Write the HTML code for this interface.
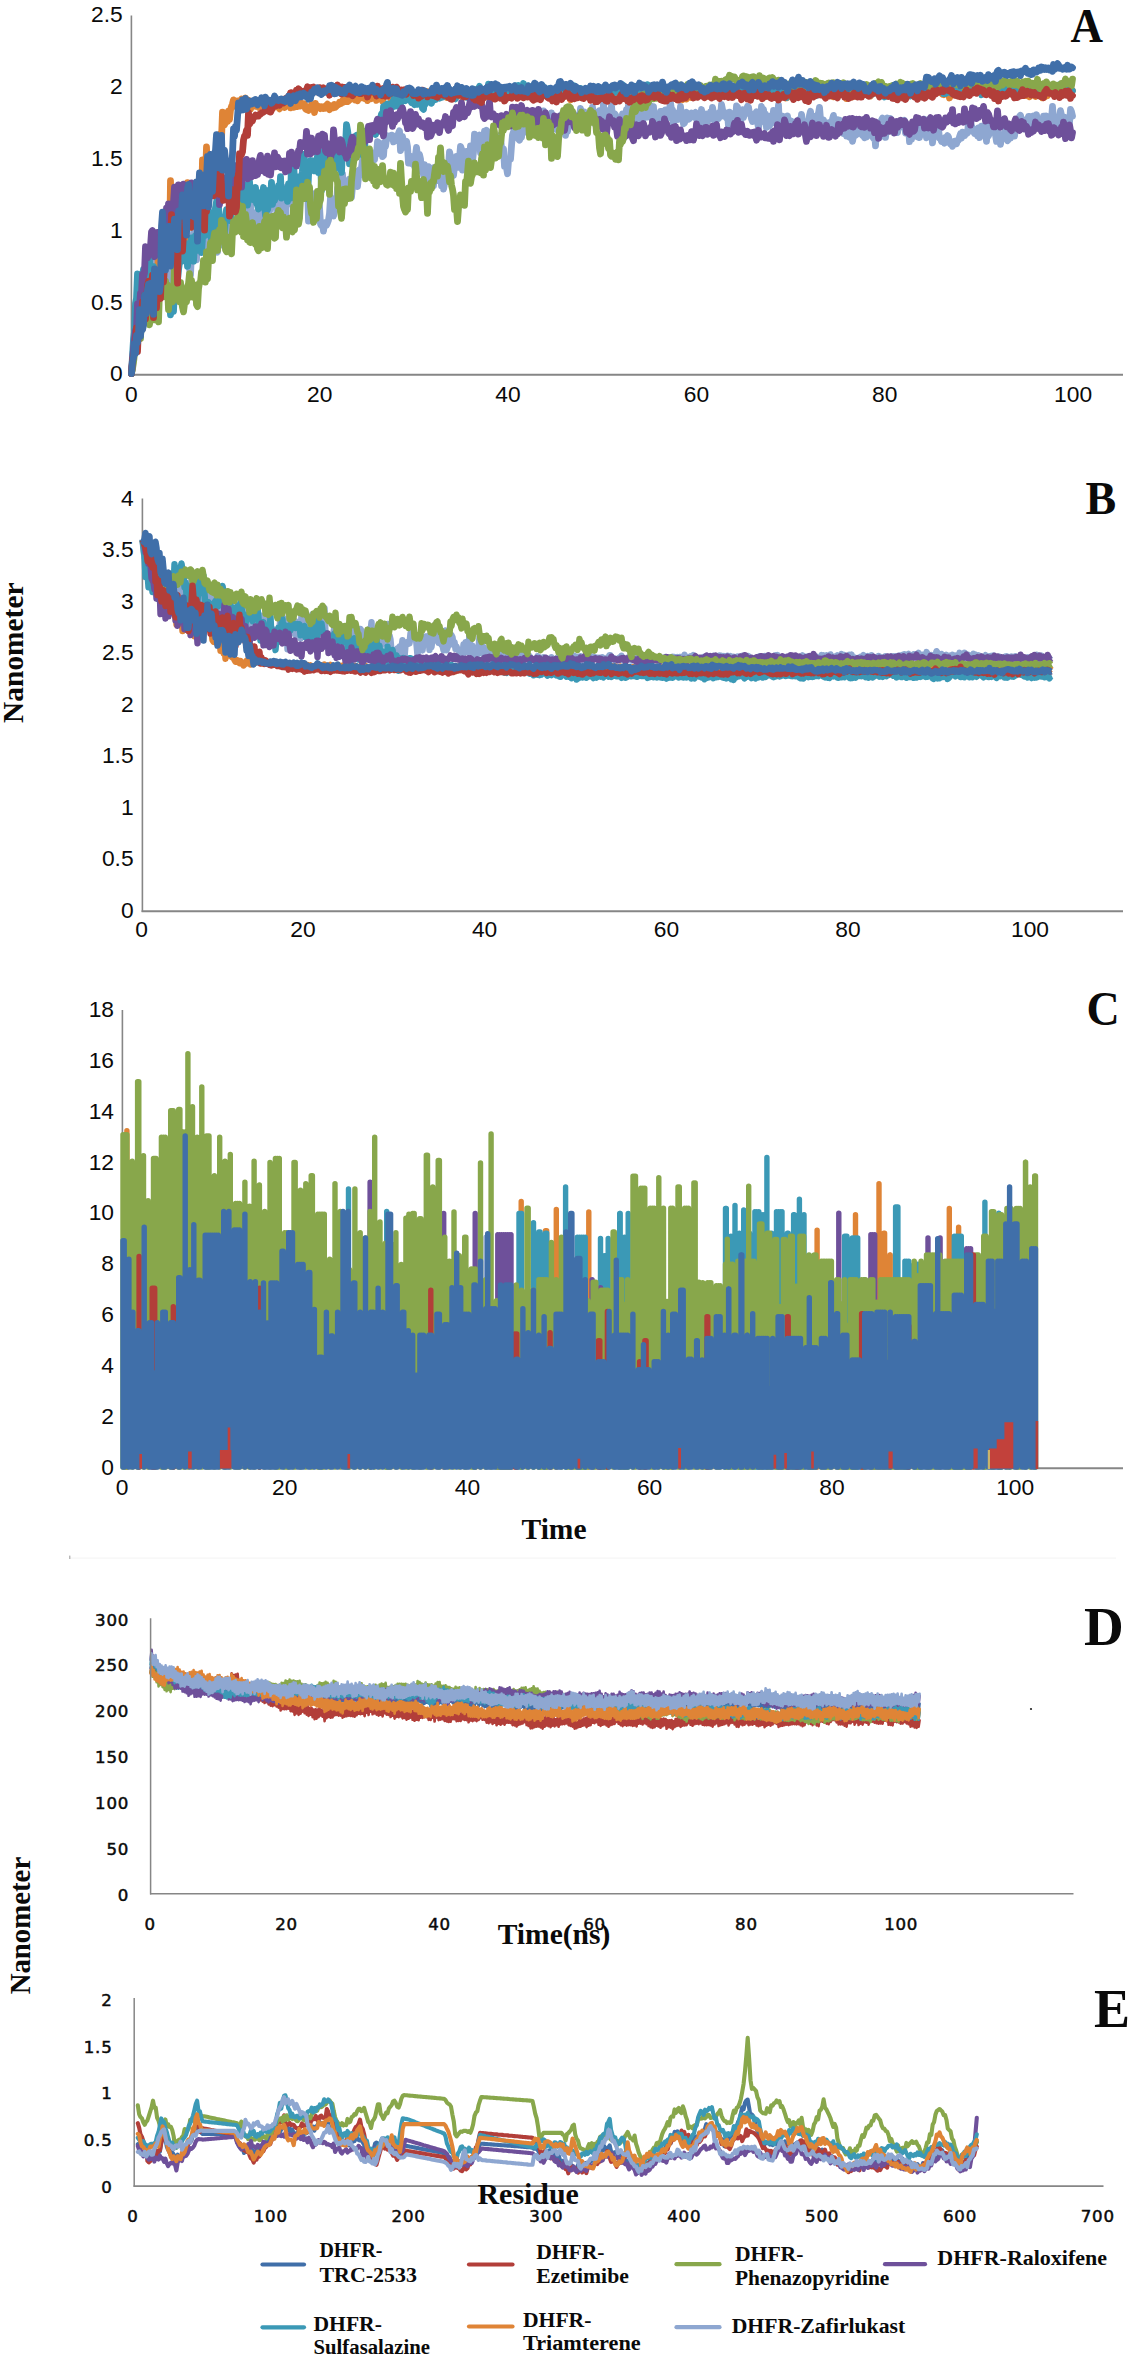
<!DOCTYPE html>
<html lang="en"><head><meta charset="utf-8"><title>MD simulation analysis of DHFR complexes</title>
<style>html,body{margin:0;padding:0;background:#fff}body{width:1132px;height:2360px;overflow:hidden}svg{display:block}text{fill:#0a0a0a}</style></head><body>
<svg width="1132" height="2360" viewBox="0 0 1132 2360">
<rect width="1132" height="2360" fill="#fff"/>
<g id="panelA">
<line x1="131.4" y1="15.5" x2="131.4" y2="375.5" stroke="#868686" stroke-width="1.6"/>
<line x1="130.6" y1="374.8" x2="1123" y2="374.8" stroke="#868686" stroke-width="2"/>
<path d="M131.5 373.5l1-10.1l1-11.9l1-9.7l1-9l1 1.2l1-3.8l1-12.1l1 7.7l1-5l1-9.7l1-8.2l1 0.2l1 0.2l1 1.8l1-5.8l1-3.8l1 5l1-6.1l1-1.4l1-0.5l1 4.5l1-37l1 8.9l1 3l1-2l1-7.4l1-0.3l1 32l1-41.1l1-14.5l1 9.2l1 17.2l1-4.5l1 18.2l1-21.4l1 16.4l1-2.4l1 20.6l1-29.2l1-1l1-15.5l1 13.8l1 9.8l1-19l1 6.7l1 0.6l1 4.2l1-18.4l1-0.1l1-1.6l1 15l1-1.1l1 2.2l1-18.1l1 4l1 8.8l1 0.7l1 15.1l1 6.4l1-21.5l1-7.1l1-13.9l1 16.8l1-3.8l1 14.1l1-24.5l1-1.2l1-8l1 15.7l1 8.7l1-5.1l1-18.5l1 22.3l1 3.3l1-17.1l1-7.2l1 8.2l1-11.3l1 0.3l1 11l1 0.5l1-3.2l1 2.4l1 6.2l1 4.6l1 5.3l1-20.6l1 13.2l1-11.6l1 8l1 3.8l1-25.9l1 10.4l1 10.6l1-12l1 18l1-19.9l1 8.9l1 5.7l1-22.7l1 8.9l1-4l1 7.1l1-5l1-3.6l1-4.8l1 13.4l1-17.2l1 0.5l1 5l1 0.7l1-10.8l1 0.1l1 7.1l1 3.3l1-8l1 11.4l1-11.7l1-6.1l1 17.8l1-0.8l1-5.4l1 3.6l1 2.2l1-9.3l1 2.6l1 26.4l1-15.9l1-11.5l1-17.4l1 18.4l1-2l1 3.9l1-5.7l1-20.7l1 41.3l1-22.7l1 2.2l1-5.6l1-0.4l1 1.4l1-12.5l1 1.4l1 5.6l1 5.5l1 17.3l1-6.4l1-10.9l1-7.8l1 9.3l1 4.7l1-25.5l1 18.3l1 20.5l1-31.5l1 3l1 6l1 0l1-9.2l1 2.4l1-6.6l1 18.6l1-18.8l1 24.9l1-4.8l1-11.3l1-3.8l1-6.8l1 6l1-16.6l1-7.9l1 16l1 9l1-2.3l1-3.5l1-7.6l1 39.7l1-21.3l1 1.1l1 9.2l1 5.2l1 0.5l1-22.2l1 4.6l1 1l1 2l1-3.2l1 8.5l1 17.5l1 1.6l1-3.1l1 8.6l1-8.5l1-0.1l1 2.7l1-2.4l1-2.8l1-6.6l1-16l1 11.1l1 7.2l1 0.2l1-4.5l1-6.5l1-1.6l1-15l1 5.2l1-3.8l1-6.3l1 2.4l1-11.9l1 13.7l1-5.8l1 7l1-7.8l1 4.3l1 4.8l1-11.1l1 8.4l1 9.7l1-10.7l1-16.6l1 5.1l1 2.1l1-4.1l1 13.5l1-9.4l1-7.3l1 5l1-7.3l1-7.5l1-0.9l1 13.9l1-3.8l1-3.6l1 8.1l1-5.5l1 0.2l1 5.3l1-11.6l1-1.3l1-1.6l1 0.6l1-7.7l1 2.3l1-12.7l1 0.5l1 7.5l1-5.6l1 3.8l1 8.6l1-0.8l1-13.2l1 4.1l1-7.2l1-3.6l1 2.8l1-0.4l1-2.6l1-0.4l1 0.2l1 6.5l1-0.9l1-0.3l1-4.5l1 1.4l1-4.3l1-2.5l1 19.8l1-6.7l1-7.5l1 11l1-5.5l1 3.1l1-3.8l1 5.5l1 16.3l1-0.8l1-6l1 7.3l1-4.8l1-0.9l1 8.5l1-11.5l1-7.4l1 8.6l1-1.6l1 0.1l1 4.5l1 12.2l1-6.9l1 10.9l1-10.5l1 8.2l1-0.7l1 8.1l1-13.6l1 13.2l1-10l1 15.6l1-7.7l1 8.1l1-18.4l1 10.5l1-3.1l1 5.7l1-3.3l1-0.5l1-7.3l1 16.3l1-5.2l1 8.5l1-5.2l1-12.9l1 7.6l1-4.4l1-8.2l1-14.2l1 4.5l1 4.6l1 11l1 3.6l1-8.9l1-3.3l1-6.8l1 3.1l1 7.7l1-8.9l1-12.1l1 2.6l1 21.2l1-13l1-2.4l1 2.6l1-5.9l1 10.8l1-11.3l1 8.7l1-13.6l1 1.3l1 14.1l1-9.5l1-17.8l1 10.1l1-5.6l1 2.8l1-5l1-1.4l1 17.7l1-13.8l1 1.8l1-0.9l1-8.6l1 1.3l1-2.2l1 1.4l1 1.4l1 6l1 10.3l1-9.1l1-2.7l1 4.1l1-5l1 4.7l1 14l1-17.7l1 4.5l1-3.4l1-3.9l1 13.9l1 2.7l1-2.9l1 17.8l1-5.3l1 6.9l1 5.7l1-12.4l1-1.5l1-0.5l1-13.4l1-11.1l1-2.9l1-2.6l1 6l1 1.2l1-4.3l1 6.8l1 1.2l1-2.3l1-0.6l1-9.5l1-2.7l1 3.4l1 3.6l1-4.3l1 1.2l1-6.5l1-7.5l1 5.5l1 5.7l1 3.1l1 2.7l1-5.9l1 1.8l1-11.5l1 6.1l1-8l1 14.4l1 0.4l1-12.2l1 10l1-16.1l1 11.1l1-5.5l1 13.7l1-8.4l1 3.8l1 2.1l1-4.2l1-10.7l1 6.5l1 8.8l1-3.8l1 5l1-10.7l1 3.8l1-1.2l1 7.9l1 1.8l1-16.4l1 11.6l1-3.4l1-0.1l1 12.6l1-10.1l1 6.3l1-7.8l1 2l1-1.4l1-4.8l1 3l1 2l1-9.8l1 10.9l1-6.2l1 3l1-6.8l1 2.8l1-10.1l1 9.3l1-6.1l1 3.4l1-2.9l1 2.6l1-1.1l1 3.1l1 5l1-4.6l1 0.2l1 1.5l1-11.6l1 9.6l1 0l1 7.9l1-2l1-10.4l1 6.9l1-8.5l1 9.5l1 4.1l1-3.1l1-17.9l1 23.6l1-2.3l1-10.5l1-3.2l1 10.1l1-8.6l1 0l1-6.5l1 10.9l1 1l1-4.1l1 1.1l1 4.4l1 2.7l1-2.9l1 2.5l1-3.5l1 2.9l1-6.8l1 8l1 3.6l1-10.5l1-5.5l1 4.6l1-9.1l1 14.7l1-0.6l1-3.9l1-0.7l1 3.9l1-5.5l1 0.5l1 0.3l1 9l1-10.9l1 8.8l1-3.9l1-2.4l1-2.8l1-4.6l1 10.9l1-4.3l1-5.7l1 9.2l1-7.3l1-5.4l1 3.1l1 6l1 7.7l1-14.6l1 16.5l1-6.3l1 2.4l1-3.7l1 0.5l1 1.8l1-6.5l1 0.1l1 9.6l1 3.1l1-0.1l1-14.1l1 9.2l1-1l1-5.3l1-3.8l1-6.1l1 6.8l1 0.1l1 14.8l1-12.1l1 2.6l1 3.9l1 0.4l1-4.7l1 2.4l1-10.7l1 10.9l1 0.8l1 5.7l1-0.9l1-6.5l1-4.2l1 4.4l1 2.7l1-0.5l1-4.1l1-1.7l1 3.7l1-1.9l1-1l1-1.4l1 6.9l1-3.1l1-0.5l1-2.1l1 1.5l1-5.6l1 13.9l1-6.2l1-2.8l1 7.8l1-8.2l1 7.7l1-4.2l1 1.8l1-7.5l1 4.9l1-9.4l1 5.7l1 7.8l1 2.4l1-6.7l1-2.7l1 4.8l1-6.1l1 4.2l1-12.2l1 5.2l1 5.6l1-3.1l1 4.3l1 1.5l1-4l1 12l1-13.9l1 13.1l1-11.9l1 4l1 3l1-5.5l1 3.6l1-12.4l1 1.1l1 6.8l1 3.7l1 6.8l1-10.6l1-4.2l1 7.9l1-5.3l1 0.9l1-2.5l1-4.3l1 0.8l1 6.7l1-0.3l1 5.3l1 2.8l1-2.6l1-4.3l1-1.2l1-1.8l1 10.5l1 5.8l1-6.5l1 0.8l1-15.8l1 10.4l1-7.6l1 11.9l1-7.3l1 13.8l1-6l1 3.9l1 0.4l1-10.2l1 3.3l1 3.6l1-12.2l1 1.6l1 10.5l1-2.3l1-4.4l1-10.9l1 23.9l1-6.9l1 8l1-13.8l1 8.6l1-5.3l1 0.7l1-1.4l1-2.9l1 15.1l1-4.2l1-6.3l1 5.5l1-1.9l1-2l1 7.5l1-4.2l1 6.7l1-9.4l1 4.8l1-8.2l1 6.9l1-11.8l1 5.7l1 12.1l1-7.5l1-3l1 3.9l1-1.5l1 1.9l1-10.7l1-4.1l1 8.8l1-2.2l1 5.1l1-6.5l1 5.6l1 0l1-6.7l1-2.1l1-5.8l1 12.1l1-0.3l1 8.1l1-7.5l1 7.3l1-1.7l1 4.3l1-1l1 0.4l1-6.7l1 6.7l1-2.2l1-7.8l1-3.7l1 15.7l1-7.3l1 10.1l1-14.2l1 11.9l1-11.5l1 10.5l1-8.3l1 4.9l1 6.3l1-0.1l1-1.2l1 3.9l1-10l1 6.6l1 4.7l1 0.2l1-8.1l1 11.8l1-5.4l1-1.1l1 0.5l1-0.6l1-12.4l1 1.6l1 2.5l1-4.3l1 11.8l1 1.7l1 0.2l1 1.9l1-15.5l1 14.8l1-11.5l1-1.6l1 9.3l1-8.9l1 9.4l1 2.8l1 1.8l1-8.4l1 16l1-17l1 5.9l1 3.2l1-0.3l1-3.8l1-13.8l1-2l1 12.3l1-4.8l1 11.8l1-12.9l1-6.5l1 0.9l1 3.4l1-3.8l1 9.1l1 2l1 3.1l1-10.5l1 9.1l1-1.1l1 2.4l1-6.2l1-1.6l1 0.7l1-0.2l1 1.5l1-0.1l1-6.4l1 12.7l1-1.6l1-0.2l1-6.7l1 17.2l1-4.5l1 2.3l1-13.8l1 4.5l1-2.2l1-1.1l1 8.1l1 1.8l1-9.9l1 10.8l1-9.3l1 0.3l1-8.7l1 8.4l1-9.2l1 10.4l1 8.2l1-12l1 1l1 4.2l1 3.3l1-5.4l1 14l1-7.9l1-5.2l1 4.3l1-9.3l1 10.2l1-6l1 9.2l1 0l1 3.3l1-3.1l1 0.8l1 4.1l1-6l1 0.1l1-1.8l1 1.4l1 5.2l1 2l1 0.3l1 1.8l1-4.5l1-0.5l1-0.3l1 2.8l1-3.4l1 0l1-3.6l1-3l1 4.5l1-6.2l1 1.6l1 2.1l1-2.9l1-0.4l1 0.6l1-10.5l1-0.5l1-0.6l1 4.2l1 2.3l1 3.5l1 2l1-1l1-0.6l1 3.9l1-8l1 9.9l1-6.1l1-5.5l1 2.3l1-1.2l1 5.3l1 1.1l1 7.7l1-15.8l1 10.5l1-4.2l1-7.5l1 3.6l1 0l1 4.7l1-2.4l1 4.7l1 6.5l1-10.6l1 3.4l1 0.9l1 9.3l1-9.6l1 4l1-3.1l1-2.2l1-8.7l1 14.1l1 1.8l1-1l1-9.9l1 8.4l1-6.1l1 2.6l1-10.3l1 11.7l1-8l1-4.6l1-2.2l1-2.5l1-2.3l1-1.2l1 5.8l1 6.4l1 0l1 1.4l1-5l1-4.5l1 2.4l1-5.4l1-0.1l1 7.6l1-2l1 0l1-6l1 9.5l1-7.4l1-3.3l1 7.6l1-0.7l1 3.5l1-1.7l1-4.7l1 5.8l1-8.4l1 0.1l1 5.9l1-6.1l1 1.6l1 5.6l1-2.3l1 0.8l1-2.8l1-12.4l1 13.6l1-1.3l1 7.3l1 0.3l1-1l1-5.9l1-2.7l1-6.2l1 4.9l1 4.9l1-0.5l1-2.8l1 11.6l1-10.1l1 6.3l1-7.5l1 5.4l1-13.3l1 2.2l1 4.4" fill="none" stroke="#8EA7D1" stroke-width="6.8" stroke-linejoin="round" stroke-linecap="round" />
<path d="M131.5 373.5l1-10l1-9.4l1-15.4l1 3.5l1 5.5l1-16.4l1-4l1-16.3l1 23.6l1-12.9l1 7.1l1-20.2l1 6.7l1-26.7l1 14.9l1-3.5l1-19.5l1 15.3l1 5.9l1-1.9l1-10.6l1-15.8l1 6l1-12.5l1 11.4l1 3.4l1-33.8l1 33.1l1-12l1-20.9l1 31.2l1-5.8l1-15.3l1-8.6l1-22.8l1 21.9l1-31.5l1 35.6l1-72.2l1 63l1-4.8l1-39l1 50l1-42.4l1 21.3l1-3.7l1-14.4l1-18.5l1 27.7l1-19.4l1-7.1l1 5.6l1 42.1l1-45.3l1 9l1-22.1l1 12.8l1 16.5l1 15.5l1-29.8l1-1l1-9.6l1-0.8l1 20.2l1-9.5l1 0l1-0.6l1 8.9l1 15.9l1-17l1-44.3l1 13.1l1 10.4l1-3.6l1-32.7l1 41.4l1-25.5l1-2.8l1 16l1-5.9l1-0.4l1 10.5l1-26.3l1 16.4l1-5.1l1-20l1 9.1l1-8.3l1-12.4l1 5.2l1-26.7l1 8.2l1 4.5l1-2.6l1-4.3l1 3.4l1-10.3l1 8.6l1-9.7l1-3.6l1-2.5l1-4l1 6.3l1-1.7l1-2.2l1-1.1l1 2.2l1-2.2l1-0.5l1-1.7l1 0.4l1 3.7l1-0.8l1-4.3l1 4.6l1 0.9l1-3.2l1 3l1 5.9l1-4.7l1 0.9l1-2.4l1-0.9l1 4.1l1-1l1 0.5l1 1.6l1-4.2l1 1l1 0.2l1 0.2l1 1.3l1 1l1-0.1l1-2.1l1-2.5l1 1.4l1 2.5l1-1.7l1 1.6l1-0.2l1 2l1-2.2l1-0.5l1-5.2l1 0.9l1 6.8l1 1.3l1-4.7l1 2.4l1-3.6l1 1.4l1 3.3l1-3.7l1-0.3l1-0.1l1-0.8l1 1.5l1 3.7l1-5.9l1-2.7l1 8l1-0.1l1-1.5l1-2.4l1 3.2l1-3l1 1.3l1 1.2l1-3.1l1 1.4l1 1.1l1-1.6l1 5l1 0.8l1 0.1l1 0.7l1-2.6l1-0.4l1-2.9l1 3l1-1.5l1 6.5l1-9.2l1 5l1-2.4l1 0.4l1 0.9l1 1.4l1-1.9l1 0.4l1 1.4l1-2l1 1.6l1-2.8l1-1.2l1 4l1 1.6l1-4.1l1 1.4l1 0.4l1 0.3l1-3.2l1 2.7l1-1l1-1.8l1 0.3l1-2.4l1 1.5l1-0.5l1-2.7l1 1.6l1-0.7l1-3l1 3l1 0.1l1-0.7l1-1.1l1-0.1l1-1.6l1-0.8l1-3.5l1 3.8l1 2.6l1 0l1 0.5l1-4.9l1-2.4l1 0l1 2.1l1 2.3l1-1.1l1 1.7l1-3.3l1 1.7l1 3.8l1-3.7l1-1.6l1 0.9l1 2.5l1-4.2l1 2.1l1 1.5l1-3.6l1 5.8l1-2l1-1.2l1 0l1-1.6l1-0.4l1 5.7l1-3.1l1-2l1-3.2l1-2.4l1 2.1l1 2.3l1-1.3l1 5l1-5.7l1 2l1 1.4l1-1.2l1-1.3l1 1.5l1 0.1l1-1.8l1 5.2l1-5.1l1 1.5l1 1.3l1-1.6l1-0.5l1-0.3l1 1.2l1-3l1 2.7l1 0.9l1 0.2l1 1.1l1-0.9l1-1.5l1-0.5l1 1.3l1-1.2l1 1.7l1 3l1-1.4l1-1.8l1 1.4l1-3.8l1 0.9l1 1.5l1-0.3l1 4.2l1-7.8l1 3l1-0.8l1-1l1-0.3l1 3.2l1-1.7l1 0.8l1 0.3l1-1l1 3.5l1-5.4l1 1.4l1 3.6l1-2.4l1-0.1l1 0.2l1-2.3l1 0.8l1 4l1 0.2l1-3.2l1 2.8l1-1.1l1-0.1l1-2l1 0l1-3.8l1 5.5l1 1l1-0.7l1-0.3l1-0.8l1-1.1l1 2.6l1 1.2l1-1.3l1-2.7l1 0.3l1-1.5l1-0.5l1-1.8l1 5.5l1-2.7l1 2l1-3.4l1 3.2l1-2.6l1 3l1-5.7l1 2.1l1 4.5l1 3.5l1-4.6l1 0.3l1-1.1l1 2.2l1-3l1-2.3l1 3.9l1-0.6l1 3.1l1-4.1l1 3l1 0.3l1-0.9l1-1.9l1 0l1-4.7l1 0.3l1-0.5l1 1.7l1 2l1-3.8l1 0l1 8.5l1-2.3l1 3.4l1-6.1l1 3.4l1-5.4l1 2.6l1-0.9l1 1.8l1-2.8l1 1.4l1 0.7l1 0l1-2.2l1 1.2l1 0.3l1 1.4l1 0.6l1-2.9l1 2.5l1 2.9l1-1l1-0.1l1-1.9l1-0.5l1-3l1 4.3l1-3.6l1 1.6l1 3.1l1-2.5l1-1.2l1 0.4l1 3.1l1-1.8l1-1.6l1 0.2l1-2.4l1-0.4l1 1.2l1 2l1 0.9l1 0.9l1 1.2l1-1.8l1-2.5l1 3.2l1-1.4l1 2.8l1-4.1l1 3.4l1-2.9l1-1.8l1 6.3l1-3.7l1 1.2l1-2l1 2.9l1 2l1-2.9l1 1.1l1 1.5l1-4.8l1 3l1-0.3l1-0.1l1-1.7l1 4.5l1 2.2l1-4.2l1-2l1-1.5l1 2l1 1.5l1-5.7l1-0.1l1 2.1l1 1.8l1-3.4l1 7.1l1-1.3l1-1l1 0.5l1-3.8l1 3l1-0.6l1-1.8l1 0.7l1-2.1l1 0.7l1 1.1l1-2.1l1 2.3l1-0.4l1-1.3l1-3l1 4.1l1 0l1 1.6l1-1.7l1 0.7l1-0.4l1 3.4l1 0l1 0.9l1-1.2l1-2.6l1-0.5l1 4.4l1-2l1 0.9l1-0.8l1 0.6l1-2.5l1-0.2l1 1.6l1-3.2l1 3l1-1.2l1-3.9l1-0.4l1 1.5l1 2.2l1-1.1l1-2.3l1 1.4l1 1.2l1 0l1 2.1l1-3.2l1 5.8l1-5.2l1 0.1l1 0.7l1 0.4l1-0.2l1 0.3l1-2.6l1 2.7l1-2.4l1 3.9l1 4.7l1-2.2l1-2.2l1 2.3l1-5.6l1 1l1-3l1 2.2l1 0.2l1 3.9l1 1l1-0.1l1-3l1 0.1l1-3.3l1 5.1l1-3.5l1 7.1l1-6.1l1 0.8l1 1.6l1-0.5l1-2.5l1 6.3l1-3.3l1-1l1 3.1l1-8.1l1 0.6l1-0.1l1 0.7l1 0.6l1-2.5l1 2.6l1 1.7l1 0.6l1 0.7l1-1.7l1 6.5l1 0.6l1-7.4l1 5.7l1-5.7l1 6.9l1-2.1l1-4.8l1 3.6l1 0.3l1 1.4l1-5.2l1 1.1l1 3.5l1-4.3l1-0.7l1-3.4l1 5l1 0.8l1-1.4l1 2l1 0.1l1 0.8l1-2.2l1 3.5l1-5.1l1-3.4l1 1.3l1-1.2l1 1l1 4.1l1-1.3l1 2.9l1-0.7l1-0.8l1 0.8l1 0.4l1-3.2l1-0.1l1-1.8l1 1.9l1-0.4l1-3.5l1 4.2l1 1.7l1 0.8l1-2.8l1 0.7l1-1l1 0.6l1 3.2l1 0.2l1-3.7l1-0.8l1 0.1l1 1.4l1-1.2l1 3.8l1-5.5l1 1.4l1 1.1l1 0.6l1 1.5l1-5.2l1-0.2l1 2.6l1 0l1-0.2l1 1.7l1 0.2l1-0.7l1-3.5l1 5.2l1-2.9l1 2.2l1-1.1l1 2.7l1 0.1l1-4l1 5.3l1 0.8l1-7.6l1 1.6l1 5.7l1-7.3l1 0.2l1 5.6l1-0.9l1-3.3l1 2.2l1-0.5l1-0.4l1-3.3l1 4l1-0.1l1-1.1l1-0.7l1-1.4l1 1.5l1 2.3l1-0.1l1-4.4l1 6.7l1-1.2l1 3.1l1-2.2l1 1.9l1-4.5l1 0.5l1 0.3l1-1.5l1 0l1 2.5l1 2.2l1-4l1-4.9l1 4.3l1 3.2l1-1.5l1-2.1l1-3.4l1 4.4l1 0.5l1-1.1l1 0l1 2.7l1-1.6l1-0.7l1 3.4l1 0.8l1-3.8l1-1.2l1 1.1l1-1.8l1 1.2l1 1.4l1-4.1l1 0.9l1-0.5l1-0.2l1-0.1l1-2.4l1 1.2l1 0.7l1 0.6l1 0.3l1 0.6l1 2.9l1-0.5l1-0.8l1-0.2l1 0.5l1 4l1-3.9l1-0.5l1-1.5l1 1.9l1-3.4l1-0.3l1 0.5l1 1.9l1 1l1 0.8l1 0.4l1-3.6l1 8.4l1-5.2l1-0.4l1 0l1-4.1l1 2.6l1 5.5l1-6.8l1 5.4l1-4.5l1 1.2l1 2.2l1-3.9l1 3.9l1 0.4l1-0.9l1-3l1 0.8l1-0.2l1-2.7l1 5.1l1-1.1l1-5.6l1 4.8l1 4l1-3.2l1-3.9l1 1.1l1 0.1l1 2l1 0.2l1-0.9l1 2.1l1-2.1l1 0.6l1 1l1 1.6l1-3l1 1.1l1 2l1-0.9l1-1.9l1 3.2l1-0.1l1-1.9l1 0.3l1-1.2l1-3.4l1-0.4l1 5.9l1-2.6l1 0.1l1-0.6l1 0l1 3.6l1 1.6l1-1.2l1-2.5l1-3.8l1 2.6l1 2.9l1-2.8l1-2.2l1 0.8l1 0.1l1 2.4l1 1.4l1-5.4l1 1.8l1 3.1l1 1.5l1-2.7l1 2.1l1-4.5l1 0.7l1 3.2l1-0.7l1-0.6l1 0.3l1 0.5l1-2.4l1 2.7l1-2.3l1 2.9l1-3.4l1 3.8l1-0.9l1-5.1l1 1.1l1 1.7l1-2.4l1 1.9l1 1.3l1-1.6l1 1.4l1-0.4l1 2.5l1 0.4l1-2.4l1-3.9l1-1l1 4.5l1-1.1l1 7.2l1-4.9l1-5.1l1 6.2l1-3l1-1.6l1 3.5l1 1.8l1 0.5l1 0.5l1-4l1 0.8l1 3l1-1l1-0.9l1-2l1 2.5l1-3l1-3.3l1 2.6l1-3.5l1 1l1 4.9l1-5.7l1 0.4l1 1l1 0.8l1 2.6l1-1.6l1 0l1 0.7l1 0.3l1 2.3l1-0.8l1-1.1l1 0l1-2.4l1-0.3l1 2l1-0.8l1-0.6l1-0.3l1 1l1 0.5l1 3.7l1-4.5l1-1.1l1 0.9l1-0.4l1 1.1l1-6.4l1 6l1 0.3l1-1.7l1 3.4l1-7.2l1 6.3l1-3.5l1-1.5l1-2.6l1 7.5l1-2.2l1-1.8l1-0.6l1 0.5l1 0l1 4.6l1 0.9l1-2.3l1 2.4l1-4.5l1 3.4l1 1.9l1-0.3l1-2.8l1 5.1l1-1.5l1 0.1l1 1.6l1 0.4l1 0.6l1-2.5l1-1.8l1-1.1l1-1.3l1 1.4l1 5.1l1-3.4l1-3.4l1 5.4l1-3.7l1 2.7l1-1l1 4.7l1-3.9l1 3.2l1-3l1-2.4l1 4l1-2.6l1-1l1-0.3l1-1.7l1-1.1l1 1.6l1-0.8l1 2.5l1-1.7l1 2.5l1-1.1l1-2.4l1 2.6l1-1.1l1-0.4l1 1.4l1-2.2l1 2.6l1 1.5l1 0.2l1-1.8l1-4.2l1 2.1l1 0.6l1-0.5" fill="none" stroke="#DF8436" stroke-width="6.8" stroke-linejoin="round" stroke-linecap="round" />
<path d="M131.5 373.5l1-17.2l1-16.9l1-7.7l1-28.2l1-5.2l1-24.5l1 4.8l1 2.4l1-1.2l1 6.2l1-10.7l1-5.9l1 8.3l1-9.2l1 12.7l1-11.3l1-4.2l1-10.3l1 33.2l1-1.9l1-10.8l1-9.3l1 26.5l1-15.5l1-1.3l1 7.1l1 7.2l1-9.5l1-1.3l1 9.4l1-6.8l1-4.9l1 7.9l1 10.6l1-2.9l1 1.6l1 6.8l1-3.9l1 17.3l1-16.8l1 1.9l1 11.4l1-24.1l1-3.1l1-9.1l1 5.4l1-10.6l1-7.6l1-2.5l1 1.8l1-20l1 3l1 14.3l1-2.3l1-12.9l1 22.6l1-10.5l1-10.5l1 0.6l1-8l1 11.9l1 11.4l1-16.1l1-9.5l1 15l1-17.1l1 5.7l1-10l1 13.7l1 9.7l1-14.8l1-13.4l1 5.6l1 5.3l1-3.3l1 2.1l1-23.3l1 11.6l1 5.4l1 13.7l1-5.1l1 9.7l1-31.9l1-6.4l1-5.9l1-4.3l1 8.2l1 16.9l1 3.5l1-8.9l1 6.2l1 1.2l1 8.9l1-16.6l1-7.3l1 9.3l1-10.6l1 6.4l1 5.8l1-26.5l1 3.9l1 2.6l1 2.1l1-7.4l1 8.5l1-4.4l1-2.4l1 7.1l1-9l1-2.1l1 3.5l1 3.3l1 4.4l1-6.5l1-12.5l1 19.8l1-7.6l1-16l1 14.5l1-0.5l1 0.3l1 4l1-8.9l1-3.3l1 16l1 1.6l1 3.9l1-16.1l1 9.3l1 2.3l1-9.9l1-7.1l1 15.4l1 12.3l1-23.1l1 17.8l1-5.2l1-14.6l1 10.6l1-18.4l1 22l1-6.6l1 2.9l1-5.1l1-4.4l1 4.8l1-10.2l1 10.2l1-19.2l1 21.3l1-6.2l1 0l1-0.8l1 2.9l1-5.5l1 12.9l1-17.5l1-0.3l1 14.6l1-33.6l1-3.1l1 0.2l1 19.1l1 17.7l1-5.2l1 1.3l1-17.6l1 17.7l1-12.4l1 1.5l1-11.7l1-17.7l1 5.7l1 19.9l1-2.8l1 21.8l1-23.3l1-13.6l1-1.5l1 0.2l1 3.5l1-3.1l1 9.8l1-8.1l1 0.7l1-7.2l1 16.2l1-21.6l1 2.9l1 36.5l1-29.9l1 6l1-15.3l1 19l1-8l1-7.8l1 18.5l1-10.2l1 3.9l1-19.8l1 21.8l1-5.2l1 7.5l1-12.3l1 2.4l1-10.9l1 6.3l1-5.8l1 7l1 14.9l1-22.3l1-6.8l1 0.6l1 2.4l1-21.6l1 5.6l1 7.4l1 26.1l1-21.9l1 11.9l1-16.1l1 17.3l1-17.4l1-1.5l1-0.8l1 9l1 0.7l1-4.1l1-8l1 15.7l1 6l1-2.5l1-1.3l1-19.6l1 8.7l1-5.8l1-0.2l1-6.8l1 6.5l1-1.2l1-1.6l1-1.1l1 3.2l1 1.5l1-2.5l1-11.1l1 6.6l1-8.3l1-0.2l1-4.9l1 8.4l1-15.8l1 7.6l1-8.7l1 5.7l1-7.4l1 12.5l1-6.5l1-4.5l1-0.6l1-2.8l1 4.8l1-13.4l1 12.7l1-8.6l1 2.5l1 3.7l1 2.6l1-5.3l1 1.3l1-3.9l1 2.3l1-2.1l1 2.2l1-5.9l1 1.9l1 0.4l1 2.3l1 1.1l1 2.1l1-2l1 1.9l1 2.1l1-0.5l1-6.4l1 6.6l1-7.9l1 5.3l1-3.3l1 3l1 6.8l1 1.2l1-10.1l1 4.8l1-3.4l1-1.1l1-5.4l1 2.5l1 3.7l1 2.9l1-4.1l1 0.1l1 0.5l1-0.1l1-4.5l1 2.7l1-4.1l1 4.5l1-1.7l1-1.7l1 2.3l1-4.2l1 1l1-0.2l1-2.5l1 1.5l1-1.8l1-0.2l1 6.5l1-2.1l1 0.4l1 0.9l1 1.2l1 1.1l1-4.6l1 0.1l1-0.2l1-1.1l1 0.3l1-0.1l1-1.8l1-1.4l1 2.3l1 0l1 5l1-6.6l1 3.8l1-2.5l1 0.9l1-1.8l1 2.8l1-4.8l1 3.1l1-0.2l1 3.8l1-5.1l1-2.2l1-2.1l1 5l1-0.9l1 0.9l1-1.6l1 0.4l1 2.2l1-4.2l1 3.7l1-7.7l1 3.8l1 2.1l1 0.7l1 1.1l1-1.9l1-1.5l1-1.1l1 2.6l1-0.2l1 5.3l1-5.8l1 4.3l1 2.3l1-3.9l1 0.6l1-2.7l1-0.2l1 1.8l1 2.3l1-0.3l1-2l1 0.1l1 0.5l1 1.6l1-1.4l1-2.2l1-4.4l1 1.9l1 1.1l1-3.3l1 5.5l1-1.5l1 2.6l1-2.9l1-5.6l1 7.6l1-0.8l1-3.4l1 0.2l1-1.2l1 5l1 2l1-1l1-3.3l1-1l1-2l1 9.1l1-9.2l1 2.4l1 1.3l1-0.8l1 4.4l1-1.6l1-5.6l1 7.2l1-3.8l1 0.4l1 1.8l1-2l1-0.5l1 0.1l1 0.5l1 2.4l1-1.4l1 2.3l1-1.1l1-1.4l1-1.5l1-1.6l1 0.8l1 1.3l1 2.5l1-4.2l1 4.2l1-0.4l1-1.7l1 4l1-2.9l1 0.8l1 2.4l1-2.2l1-1.8l1 0.5l1 0.3l1-5.1l1 0.6l1 2.1l1-0.8l1 3.1l1-0.9l1-0.8l1-0.4l1 3.2l1 1l1-0.8l1 0.8l1 2l1-4.6l1 5.2l1-6.2l1-0.5l1 3.7l1-5.6l1 1.4l1-0.2l1 0.5l1 1.8l1-2.1l1-0.8l1 6.6l1-2.6l1-0.3l1 0.1l1-1.8l1 3.8l1-1.5l1-3.9l1 2.2l1 1.3l1 0.6l1 1l1-4l1 1.9l1 0.4l1 2.2l1-1.7l1 0.7l1-4.8l1-0.2l1 0.2l1 2l1 1.6l1-3.6l1-2.7l1 6.1l1-0.2l1 3.3l1-4.4l1 1.2l1 2.9l1-3.6l1-0.3l1-0.3l1 2.5l1-1.8l1 0.4l1-1.7l1-2.5l1 1.4l1-0.4l1 2.1l1-3.6l1-1l1 1.9l1-0.6l1 1l1 0l1 4.8l1-7.2l1 2.7l1 1.4l1-1.5l1 0.3l1 0.3l1-0.1l1 1l1-1.1l1-0.5l1 1.2l1 1.1l1-2.9l1 1.9l1 5.8l1-3.4l1 0.7l1-0.3l1-2.9l1 2l1-1.6l1 1l1 0.6l1 0.8l1-0.8l1-1.8l1 1.8l1-0.4l1 1.6l1 4.7l1-6.8l1-1l1 3l1 1.5l1-2l1 0.2l1-1.4l1-1.1l1 3.1l1 0.5l1-1.2l1-1l1-2.8l1 6.6l1-1.8l1-1.7l1 3.9l1-2.1l1 1.7l1-2l1 1.1l1 2.3l1-1.5l1-0.6l1-0.4l1 0.7l1-2l1 0.5l1 2.1l1-7.6l1 6.4l1-1.1l1-3l1 2.8l1-1.3l1 0.3l1 2l1-1.9l1-1.7l1 6.8l1-1.9l1-2.8l1-1.5l1-0.5l1 3.8l1-5.2l1 1l1 2.6l1 2.5l1-2.6l1-1.7l1 1.6l1 0.3l1 0l1 0.7l1-0.9l1-0.5l1 0.4l1 1.1l1-2.1l1 1.5l1-1.3l1-1.3l1 4.6l1-2.3l1 4l1-4.4l1 1.6l1-3.8l1 2.3l1-1.4l1 3.7l1 0.7l1-4.7l1 0.5l1 1.9l1 1.6l1-3.2l1 3.9l1 1.6l1-3l1 1l1-2.8l1-0.4l1-4.1l1 9.2l1-2.9l1 1.9l1-2.3l1 0.6l1 2.2l1-0.5l1-0.5l1 0.2l1 2.6l1-2.6l1-3.5l1-0.1l1-3.2l1-0.5l1 8l1-4.7l1 4.2l1 3.2l1-4.7l1-1l1 0.6l1 0.5l1 3.8l1 0.7l1-1.4l1-2.1l1-3.4l1 1.3l1-2.9l1 0.8l1 3.7l1-2.5l1 3.3l1-3.9l1-0.1l1 3.8l1-2.1l1-1.1l1-2.2l1-2.5l1 4l1-1.1l1 2.7l1-1.6l1 3.8l1-1.8l1 2.3l1-2.4l1 4.1l1-3.9l1-1.9l1 1.5l1-3.4l1 4.7l1 1.9l1-5l1 1.4l1 1.1l1-2.8l1 1.5l1 1.6l1-0.9l1-4.7l1-0.2l1 3.7l1-1.5l1 3.2l1 0.2l1-6.6l1 0.8l1 2.5l1 5.3l1-6.6l1-0.1l1 4.4l1-2.1l1 1.5l1 2.7l1-3.9l1-1.4l1-1.5l1 1.3l1 3.1l1-4.9l1 4.7l1-1.3l1 1.9l1 1.9l1-4.7l1 4.1l1-3.1l1-0.5l1 2.5l1-1.3l1-0.4l1 2.9l1-1.3l1-3.3l1-0.9l1 6.6l1-2.1l1-1.2l1-1.3l1 2.4l1-0.7l1-0.4l1 0.2l1 3.3l1-1.1l1-5.2l1-0.5l1 4.8l1-1.7l1 0.6l1-0.3l1-1.1l1 1.2l1-0.7l1 0l1 1.6l1-1.3l1 5.5l1-2.8l1-1.5l1-0.4l1 1.5l1-0.2l1-1.8l1 1.1l1-2.8l1 4.1l1-0.7l1-1.4l1-1.6l1-1.7l1 2.4l1-5.9l1 2.2l1 0.2l1-1l1 4l1 0.7l1-0.5l1-2.5l1 1.5l1 1.9l1 0.6l1 3.6l1-6.6l1 5l1 0.9l1-3.1l1 1.4l1-2.1l1-1.3l1 2.8l1 1.8l1-2l1-2.9l1-1.5l1 1l1 2.5l1 2.2l1-6.1l1 1.8l1-0.8l1 0.6l1-3.6l1 1.8l1 0.8l1 2.3l1-3.2l1-1.2l1 0.2l1-1.2l1 1.9l1-0.5l1 3.5l1-3.2l1 2.6l1 3.8l1-2.6l1 2.5l1-0.8l1-1.2l1-2l1 1.1l1 2.1l1-1.7l1 2.6l1-5.3l1-0.1l1 1.2l1-0.9l1 0.3l1-1l1 1.5l1 1.6l1-1.9l1 0.3l1 3.5l1-3.4l1 3.9l1-1.3l1-3.2l1 2.6l1 0.5l1-5.4l1 2.9l1 1.7l1 0.4l1-2.1l1 2.3l1-2.2l1-2.2l1 1.8l1 1.7l1-0.3l1 4.3l1-3.2l1-0.4l1-0.9l1 3.1l1-0.6l1 0.1l1 0.4l1-1.6l1 1.8l1-0.9l1-5.3l1-0.4l1-0.4l1 1.9l1 5.9l1-3.5l1-2.4l1 1.6l1-3.2l1 2.3l1-2.3l1 5.6l1-3.2l1 4.5l1-5l1 1.7l1-1.9l1-1.9l1 1.3l1 2.6l1 1.3l1-1.6l1-2.2l1 4.4l1-3.3l1 7.4l1-0.9l1-0.6l1-0.9l1 1.1l1-1.7l1-3.8l1 3l1 0.3l1-0.4l1-2.3l1 0.7l1-2l1 1.1l1-2.5l1-1.6l1 3.3l1-2.1l1-2.7l1 4.4l1 0.9l1-2.9l1-0.5l1 2.7l1-0.8l1-1.7l1 2.2l1 1.1l1 0.3l1 0.9l1-0.7l1 0.5l1-0.7l1 0.6l1-1.2l1 0.2l1-0.6l1 0.2l1-0.2l1 2.9l1-2.1l1-3.6l1-1.7l1 1.7l1 1.9l1 0.7l1 1.9l1-2.3l1 4.2l1-1.4l1-1.8l1 3l1-2.6l1-0.7l1 1.7l1-0.3" fill="none" stroke="#3B99B6" stroke-width="6.8" stroke-linejoin="round" stroke-linecap="round" />
<path d="M131.5 373.5l1-14.5l1-9.6l1-10.5l1-8.4l1-2.5l1-24l1 11.4l1-8.2l1-14.4l1-0.4l1-18l1 3.1l1-4.5l1-26.3l1 3.8l1 7.5l1-5.8l1-2.5l1-2.9l1-14.8l1-1.5l1 23.8l1 2.4l1-15.8l1 4.8l1-13.4l1 16.2l1-1.5l1 8.6l1-21.8l1 2.2l1-7.4l1 3.8l1 3.2l1-27.4l1 11.5l1-15.9l1 22.6l1-19.6l1-0.8l1 0.7l1-4.2l1-15.3l1 13.1l1 14.6l1 7.6l1-37.7l1 13.4l1-6.1l1 2l1-2.3l1-7.7l1 11.3l1-2.6l1 17.5l1-16.1l1-3.4l1-4.5l1 11.1l1-14.4l1 21.9l1 4.1l1-7.5l1-16.4l1 0l1 4.5l1-1.1l1 1.7l1-0.8l1 10.3l1-16.2l1 24.6l1-1.6l1-16.3l1-9.4l1-1.4l1-7.3l1 19.4l1-17.2l1 15.2l1-20.6l1 10l1-3.7l1 3.5l1-16.7l1 15.5l1-18.4l1 45.5l1-9.1l1-10.5l1-7.9l1 1l1 19.2l1-0.3l1-2.7l1-4.8l1 2.2l1 13.7l1-16.5l1-5.9l1-4l1-2.4l1 7.3l1-18.2l1 4.2l1-2.7l1 7l1-2.1l1 7l1 8.1l1-17.1l1-0.1l1-9.4l1 9.7l1-10.8l1 19.3l1-8.3l1 1.4l1-7.7l1 12.6l1-16.1l1 8.2l1-0.4l1 7.2l1-4.2l1 3.1l1-5.4l1-9.8l1-4l1 13l1-5.2l1 7.8l1-1.9l1 3.6l1-8.9l1-7.7l1 18.2l1-9.4l1 10.1l1-10.7l1-3.1l1 1.5l1-9.7l1 13.8l1-7.8l1-1.9l1 2.5l1 7.1l1-6.2l1 7.4l1-5.9l1 1l1-1.9l1 10.8l1-4.8l1-6.4l1 9.6l1-17l1 9.4l1-10.6l1 11l1 0.6l1-6.1l1 1.1l1 7.3l1-7.9l1-7.4l1 0.6l1-8.8l1 0.2l1 0.6l1 2.9l1-3.8l1 4.6l1-15.7l1 22.9l1-16.7l1 2.4l1 14l1-15.8l1 14.2l1-5.3l1-0.2l1-4.8l1 7.2l1 2.5l1-15.6l1-0.2l1 9.8l1-2.1l1-9.5l1 4.1l1-3l1 15.9l1 1.3l1-9.1l1 2.4l1 0.7l1 12.6l1-6.7l1 0.4l1-22.8l1 9.9l1 10l1-9.2l1 3.7l1 5.3l1 2.3l1-12.2l1 0.9l1 3.8l1 7.1l1 1.9l1 0.9l1 3.9l1-7.2l1 4.5l1-5.4l1-4.8l1-5.4l1-2.7l1 6.3l1 6.2l1-9l1 9.4l1-3.8l1 3.2l1-9.1l1-4.2l1-1.5l1-1.7l1 10.5l1-10.2l1 7.7l1-7.2l1 5.2l1-12.7l1 13.4l1-13.8l1 3.4l1-3.8l1 6l1-5.7l1 4.1l1-7.2l1-3.4l1 1.8l1 9.1l1 1.2l1-11.3l1 9.9l1 5.8l1-12.3l1-0.6l1-10.7l1 2.7l1-1.4l1 4.9l1-7.8l1 8.1l1 7.7l1-11.2l1 7.2l1-5.7l1-1.8l1 4.2l1-4.4l1-0.9l1-3.4l1 5l1-7.5l1 4.8l1 1.4l1 8.7l1-0.2l1 6l1-0.5l1-6.6l1-9.9l1 13l1 3.9l1-1.7l1-6.8l1-5.6l1 4.4l1 3.3l1-3.3l1 5.7l1-2.5l1 4.3l1-3.6l1 3.2l1 1.8l1-0.6l1-3.9l1 13.8l1-16.4l1 7.9l1 7.6l1-1.9l1-9l1 1.7l1 3.3l1-2.2l1-2.5l1-2.8l1 0.8l1 9l1-8.5l1 1.9l1-1.8l1-2.2l1 1l1-6.4l1 7.7l1 3.4l1 2.8l1-6l1-3.2l1-2.8l1 7.6l1-13.6l1 0l1-2.2l1-2.7l1 8.1l1 0l1 2.8l1-5.2l1-10.5l1 7.6l1 2.6l1 3.9l1-6.2l1-1.3l1 3.7l1-2.8l1-5.8l1-4.3l1 6.8l1-5.6l1 2.5l1 2.6l1-2.9l1-8.8l1 10.4l1-1.3l1 1.9l1-8l1 6.4l1 3.9l1 8.6l1 1.9l1-7.3l1-0.5l1 5.8l1-8.2l1-6.2l1 13.3l1 1.4l1-3.4l1 0.7l1 2.1l1-0.3l1 7.7l1-7.2l1 8l1 0.6l1-2.5l1-6.9l1 3l1-0.9l1 4.5l1-5.6l1-2.3l1 2.3l1-1.2l1 7.2l1 3.5l1-4.6l1-14.3l1 11.6l1-9.8l1 1.3l1-3.1l1 3.2l1-2.3l1 11.3l1-7l1-6.9l1 6.2l1 8.4l1-2.7l1-4.1l1 4.1l1-7.1l1 8.6l1-7.1l1 5.2l1 6.7l1-13.3l1 9l1-6.9l1 12.5l1-5.2l1 0l1-10.4l1 5.8l1 7.6l1-6.1l1 4.1l1 0.5l1-5.4l1-3.1l1 3.7l1 5.7l1-0.6l1 4.6l1-0.9l1-2.9l1-0.7l1 3.2l1-8.9l1 4.8l1-3.6l1 6.2l1-4.4l1-2.7l1 5.1l1 1.7l1 0.4l1 2.5l1 4.4l1-6.8l1-8.5l1 6.5l1-7l1 7.1l1-7.9l1 2.8l1-0.9l1 8l1 3.9l1-10l1-0.7l1 1l1-0.8l1-0.1l1-2.6l1 1.8l1 2.7l1 3.3l1-5.3l1 2.6l1 0.1l1-4.5l1 6.9l1-2.6l1 1.7l1-8.8l1 3.3l1-0.9l1 4.6l1 0.8l1 4.2l1-0.5l1 0.7l1-5.1l1 5.2l1-3.5l1 7.9l1-6.4l1 3.4l1 5.2l1 3l1-9.6l1-2.5l1-5.3l1 3.2l1 2.7l1 0.6l1-2.7l1 6.3l1-3.7l1 5.4l1 7.7l1-7.7l1-9l1 16.8l1 1.6l1 0.2l1 0l1-11.2l1 3.5l1 5.4l1-10.1l1 4.7l1-8.6l1 11.3l1-11.3l1 16.4l1 2.4l1-7.4l1-6.7l1-1.7l1 8.7l1 2l1-3l1-7.5l1 7.1l1-3.5l1-5.2l1 4.1l1 8.3l1-3.6l1-3.3l1 2l1 1.2l1-5l1 3.5l1-9.3l1 2.6l1 5.3l1 7.7l1-6.4l1-3.3l1 2.3l1-5.4l1 11.2l1-2.3l1-4.1l1 0.8l1-11l1 5.3l1-0.7l1 4.7l1 4.7l1 1.2l1-5.6l1 9l1-4.9l1-5.2l1 2.7l1-3.4l1 13.9l1-8.9l1 1.5l1 6.1l1-9.3l1 7.1l1 0.7l1-2.2l1 0.9l1 0.4l1 3.8l1-5.1l1 0.6l1 3.8l1-1.5l1-6.7l1-0.2l1 8.6l1-6.9l1 1.6l1-10.8l1 8.5l1-4.9l1 8.1l1-7.5l1 4.6l1 2.9l1-4.7l1-0.2l1-3.5l1 0l1 7l1-1.2l1 0.3l1-1.6l1 0.4l1-5.9l1 9l1-3.9l1-5.9l1-0.8l1 8.9l1 1.2l1-1.4l1 4.3l1-5.8l1 1.3l1 0.7l1 2.7l1-1.6l1-5l1 2.1l1 1.4l1-2.9l1 3.3l1-2.5l1 0.6l1-4l1-4.7l1 3l1 3.2l1-9l1 11.8l1-5.6l1-2.3l1-0.1l1 6.5l1 1.6l1-1.6l1 3.8l1 0.1l1-3.4l1 2.2l1 1.7l1-2.5l1 1.6l1-1.7l1 2.8l1-3.3l1 3.1l1 5l1-3l1-6.9l1 5.7l1 1l1-1.8l1 0.9l1 0.8l1-3.3l1 4.3l1-2.3l1 0.9l1 1.8l1-2l1-1.9l1 4.2l1-6.4l1 9.2l1-10.5l1 2.2l1 0.7l1-9.2l1 1.6l1 13.6l1-10.6l1-1.1l1 0l1-0.7l1-7.6l1 3.6l1 12.1l1-6.1l1 5.5l1 0.8l1-9.3l1 0.8l1-0.3l1 6.9l1-2.2l1-8l1 2.8l1-5.8l1 13.6l1-3.9l1-2.9l1-0.4l1 4l1-3l1-3.2l1 10.8l1 5.7l1-11.5l1 0.3l1 3.9l1 2.8l1-8.9l1-4.9l1 9.2l1-3.2l1-2.5l1 9.1l1-5.2l1-5.7l1 0.2l1 8.2l1-3.3l1-1.2l1 7.8l1-3.2l1-2.3l1-5.6l1 9.1l1 2.9l1-0.2l1-3.9l1-3.7l1 0.9l1 0.9l1 3.3l1 1.6l1-2.4l1 0.1l1-9.6l1 8.4l1-7.8l1 1.5l1 2.2l1-5l1 4.5l1-8.7l1 2.3l1 4.7l1-3.3l1-4.5l1 6.2l1 1.5l1-7.9l1 8.6l1-4.5l1-1.5l1-1.6l1 2.1l1 1.4l1-3.7l1 7l1 0.6l1-2.2l1-5.1l1 7.8l1-2.9l1-7l1 4.7l1 2.1l1-2.1l1 6l1-1.8l1-5.5l1 1.4l1 10.4l1-10.8l1 1.8l1-0.1l1 14.8l1-11.5l1 3.5l1 3.6l1-5.7l1 4.5l1 0.5l1-5.2l1-0.9l1 3.9l1-7l1 7.3l1-3.7l1-8l1 7.4l1 1.2l1 4.8l1-8.1l1-3.5l1 6.1l1-1.7l1-4.9l1-0.5l1 4.4l1-2.4l1-0.6l1-0.7l1 1.1l1 9.9l1-6.5l1 7.1l1 1.6l1-6.6l1 0.8l1-6.6l1 9.4l1-1.2l1-6.1l1-6.5l1 0.6l1 0.1l1 4.3l1-0.3l1-0.1l1 1l1-3.8l1 8.7l1-2.2l1-2.9l1 1l1 4.1l1-8.7l1-1.7l1 9.2l1 0.9l1 2.5l1-4.4l1-2.9l1-5.3l1 5.5l1-5.7l1 5l1 3.7l1 0.4l1 0.6l1-2.2l1-3.6l1-3.3l1 4.3l1-1.9l1-2.2l1-1.6l1-1.8l1 6l1-11.1l1 13.2l1-4.3l1 5.3l1-2.7l1 0.7l1 0.5l1-5.9l1 2.1l1 1.4l1-0.1l1 2.3l1-13.4l1 8.6l1-3.7l1 0.3l1 7.5l1-4.4l1 8l1-8.4l1-8.9l1 3.1l1-2.2l1 3l1 6.9l1-1.3l1 0l1-7l1 0l1-0.2l1 1.1l1-4.8l1 6.5l1 8.3l1-5.4l1-3.2l1 1.5l1 3.3l1 3.4l1-0.5l1 1.4l1 5.1l1 0.1l1-6.8l1 2.4l1-11.7l1 11.5l1-1.3l1 6.1l1-4.9l1 0.4l1 0.2l1-4.2l1 4l1 4.1l1-0.6l1-2.4l1 2.8l1 3.2l1 1l1-4.4l1-1.4l1-2.9l1-3l1 8.2l1 1.7l1-1.7l1 3.3l1-4.7l1-4.4l1 2.7l1-1.6l1 6.4l1-0.4l1-2.1l1 2.2l1 5.6l1-2.5l1-0.9l1 1.6l1-2.9l1 1.6l1-2.9l1-6.2l1 6.4l1-2l1-1.5l1 4.1l1-0.8l1 3.3l1-1.9l1-3l1 4l1-0.4l1-5.9l1 4.5l1-5.2l1 7.7l1-1.9l1 5.8l1-0.7l1-6.9l1 0.3l1 4.6l1-2.3l1 1.6l1 3.1l1-3.2l1 2l1-6.6l1 3.5l1-8.4l1 5.5l1 10.9l1-4l1 0l1-7.1l1-2.5l1 5.3l1 7.5l1-5.3" fill="none" stroke="#6E509A" stroke-width="6.8" stroke-linejoin="round" stroke-linecap="round" />
<path d="M131.5 373.5l1-5.1l1-6l1-8.8l1-2.5l1-15.5l1 2.7l1-4.8l1-1.3l1 6.4l1-24.6l1 10.8l1-12.3l1-4l1 4l1 8.8l1-10.4l1 7l1 6.9l1-14.2l1-0.1l1-2.9l1 3.7l1 8.6l1-5.5l1-18.3l1 20.2l1 5.5l1-32.2l1 0.2l1-3.6l1 10.8l1-1.6l1 0.9l1-15.2l1 9.5l1-5.7l1 24.8l1-18l1 11.1l1-6.7l1 5.8l1-2.2l1-35.1l1 28.9l1 0l1-14.4l1 16.8l1 5.9l1-19.5l1 17.9l1 7.1l1 4.6l1-8l1-6.2l1 4.4l1-16l1-2.2l1-10.3l1 23.4l1-16.6l1 7.8l1 7.1l1 2.4l1-12.5l1 19.3l1 2.1l1-17.8l1-6l1-0.5l1-10.1l1 1.4l1-13.3l1 21.6l1 0.2l1-30.3l1 27l1-18.7l1-4.4l1-13.2l1-0.5l1 18.5l1-21l1-6.2l1 14.4l1-15.3l1 18l1-8.9l1-11.8l1 11.3l1-20.6l1 7.8l1-4.9l1 10.7l1 15.9l1 1.8l1-14.9l1 1.5l1-1.2l1 13.7l1 3l1-22.8l1-9.3l1 9.2l1 1l1-12.8l1 4.6l1-19.1l1 6.7l1 13.3l1 7.8l1-26l1 30.1l1-8.1l1-14l1 7.7l1 17.7l1-3.8l1 6.2l1 0.4l1-13.4l1-6.6l1 8.1l1 4l1 9.6l1-5.6l1 10.1l1 2l1-24.3l1 20l1 1.5l1-4.4l1-14.7l1-7.2l1 1.6l1-7.9l1 33.3l1-20.1l1 3.4l1-2.3l1 3.9l1-17.1l1 18.1l1 3.6l1-0.7l1-22.5l1 3.1l1-7.8l1 3.5l1-1.2l1 13.5l1 1.7l1-10.8l1 8.4l1-3.1l1 14.9l1-18.4l1 5.5l1-6.2l1 12.5l1 0.6l1 0.7l1-24.9l1 22.8l1-14.1l1-25.9l1 32.3l1 2.1l1-5.7l1-19.4l1-2.4l1-10.5l1 5.8l1 6.6l1-10.3l1 4.1l1-10.2l1 8.3l1-3.5l1 19l1 7.2l1-2.2l1 11.4l1-4.1l1-3.5l1 3.6l1-27.1l1 15.6l1-4.2l1-3.1l1-21l1 3.7l1 5.5l1-16.4l1 15.8l1-16.9l1 12.1l1-19.7l1 31.6l1-34.1l1 16l1-11.9l1 10.8l1-0.3l1-0.5l1 5.6l1 1.6l1 24.6l1-10.8l1 16l1 7l1-15.4l1-13.4l1 14l1-14.5l1-0.1l1 6.3l1 3.2l1-6.2l1 6l1-17l1-9.9l1-8l1-7.2l1-1.2l1 2.7l1-5.7l1-4.7l1-0.5l1-21.6l1 4.4l1 15.4l1 3.2l1 9.6l1 21.2l1-15.7l1 0.3l1-3.1l1-11.4l1 16.5l1 13l1-13.2l1 15.8l1-14.6l1 18.6l1 0.7l1-15.1l1-1l1 8.1l1 4l1-1.7l1-14.5l1 14.3l1 0.1l1-1.4l1 6l1 0.6l1-3.6l1 0.1l1-9.6l1 3.8l1 8.7l1-11.4l1 12.6l1-4.9l1 7.6l1-10l1-2.2l1 17l1-30l1 17.2l1 14.9l1 11.1l1 3.1l1 2.5l1-2.1l1-0.3l1-21.9l1 2.7l1 1.1l1-10.2l1 4l1-2l1 2.9l1-22.1l1 10.9l1 14.8l1-7.5l1 6.8l1-2.5l1 11l1-16.6l1-1.6l1 16.2l1-10.4l1 4.1l1 23.9l1-24l1 2.7l1-8.5l1 4.9l1-7l1 0.6l1-7.9l1-6.8l1-1l1 9.8l1-18.8l1 4.1l1-13.5l1 17.5l1-3.7l1 9.8l1-8.6l1 8.2l1-4.3l1-0.5l1 6.2l1 9.4l1-6.4l1 9.7l1 4l1 6.2l1 14.1l1-4.4l1 2.8l1 13.6l1-13.5l1-6.9l1-6.1l1 1.1l1 7.9l1-7.8l1 9.1l1-23.7l1 2.3l1-10.7l1-12.1l1 20.4l1 1.7l1-6.2l1-2.4l1-2.8l1-8.8l1 6.6l1-4.1l1 6.4l1-5.8l1 4.6l1 2l1-14l1-5.1l1 21.6l1-28.2l1 23.2l1-21.9l1-3.6l1 9.5l1-5.1l1 18.5l1-7.2l1-19.5l1-14.9l1 6.3l1 25.8l1-15.5l1 12l1 1.8l1-12.5l1-0.6l1-8.2l1-12.1l1 7.4l1-8.7l1 3.2l1-2.6l1 4.6l1-9.2l1 3.1l1 3.2l1-2.2l1-8.8l1 6.8l1-0.9l1 8.3l1-8.2l1 7.2l1 0.2l1-8.7l1-2.3l1 4.1l1-4.4l1 9.1l1-1.3l1 0.8l1-5.3l1-1.6l1 4.9l1 15.5l1-9.8l1-8.4l1 16.2l1-0.5l1-5.5l1 6.4l1 0l1-7.3l1 9.4l1-9.5l1 4.8l1-5.8l1 10.7l1-19.4l1 6.4l1 19.9l1-18.5l1 12.6l1-16.8l1 7.7l1-4.4l1 32.9l1-22.3l1 9.7l1 3.9l1-4.6l1 8l1 3.6l1-16.1l1-10.8l1 2.9l1-10.8l1-4.1l1-7.2l1 7.5l1-1.6l1-9l1-0.6l1 1.6l1-1.5l1 0.8l1 9.2l1-5.6l1 4.8l1 2.3l1-1.7l1 13.8l1-1.6l1-6.2l1-3.9l1-4.3l1-2.4l1 18.1l1-0.3l1-1.5l1-4.4l1-8.9l1 18.3l1-18.9l1 7.8l1-11.9l1 12l1-2.5l1-7l1 7l1-0.5l1 13.4l1 0.4l1 1.3l1 13.5l1 6l1-15.6l1-2.2l1 3.1l1 3.4l1-7.9l1 9.2l1-6.5l1 10.9l1-8l1 14.6l1 1.2l1-3.4l1 2.6l1-0.6l1 4.4l1-6.2l1-1.3l1 8.1l1-18.5l1 3.1l1-5.1l1 2.3l1-3.5l1-10.1l1 0.9l1-10.6l1 4.5l1-1l1-2.6l1 5.7l1-6l1-8l1-3.5l1-1.4l1 5.6l1-5l1-0.5l1-7.4l1 3.6l1 5.7l1 0.3l1-13.7l1 8.6l1-0.5l1 4.9l1-14l1 10l1-1.5l1-9.8l1 2.7l1-7.6l1 8.6l1 2.7l1-0.5l1-9.3l1 9.4l1-4.1l1-2.1l1 0.3l1-3.1l1 2.4l1-1.1l1-2.1l1 5l1-3.2l1 0.1l1 1.7l1 2l1-1.6l1-1.5l1 1.8l1-3l1 2.6l1 0.7l1-3.7l1 1.3l1 0.5l1-6.1l1 5.5l1-5.6l1 3.5l1 4.2l1-5l1 2.7l1-1.1l1-0.8l1-4.1l1 3.9l1 2.3l1-3.3l1 2.2l1-0.2l1-4.3l1 5.6l1 0.1l1 0.2l1 2.3l1-3.8l1 3.1l1-7l1 1.1l1 1.6l1 3l1-2.7l1-0.2l1-2.1l1 1l1-0.7l1-1.3l1 2.8l1 1.2l1-4.6l1-0.2l1 2.8l1-8l1 6.6l1-4.8l1 1l1-0.5l1 0.6l1-0.9l1 0.8l1-0.6l1-0.6l1-0.9l1 2.7l1-1.5l1-2.8l1-3.1l1 3.5l1 0.1l1-2.3l1 1l1-0.4l1 1.9l1 2.2l1 2.5l1-2l1-1.6l1-0.1l1 1.7l1-5.4l1-0.4l1 3.1l1-2.5l1 4.5l1-4l1 1.8l1 0.1l1 0.9l1-2.6l1 1.7l1-2.2l1 2.8l1 0.3l1 0.2l1-2.2l1 4.6l1-6.7l1 3.4l1 0.3l1 1.5l1-2.8l1 1.7l1 0.4l1 3.6l1-4.8l1 3.1l1-4.2l1 1.5l1 0l1-1.8l1 1.9l1 1.6l1 2.7l1-0.3l1-0.2l1-3.1l1 0.1l1 2.3l1 2.9l1-1.5l1 0.4l1 0.2l1 3.6l1-2.8l1-0.4l1-0.9l1 2.8l1-2.3l1 0.3l1-0.7l1-2.4l1 5.1l1-1.3l1 3.8l1-2l1-0.1l1-0.4l1-2l1 2.9l1-1.9l1 1.8l1-0.9l1-4.5l1 0.3l1 0.3l1 1.8l1 1.6l1 2.9l1-2l1-0.3l1-3.7l1 1.7l1-4.4l1 0.9l1 1.8l1 0.8l1 0.1l1-0.7l1 3.7l1-3.6l1 1.1l1 2.4l1-0.6l1 2.1l1-5l1-0.4l1 2.1l1-1.6l1-0.6l1 0.9l1-1.1l1 1.7l1 0.2l1 0.7l1 0.5l1-2.4l1 3.1l1 2.5l1-0.9l1-3.5l1-1.9l1 4.7l1 2.2l1-4.3l1 4.3l1 3l1-3.3l1-1.7l1-0.8l1 2.7l1-4l1 2.2l1-0.5l1 1.9l1-2l1 0.8l1-1.3l1 2.2l1 0.4l1 0.1l1 0.9l1-1.7l1-2.5l1-1.6l1 2.8l1 0l1-1l1-0.5l1 3l1-3.2l1 1.7l1 0.6l1-4.5l1 1.1l1-1.1l1-1.6l1 5.2l1 0.2l1-4.8l1 2.7l1 0.7l1 2.6l1-2.1l1 1.5l1 0.6l1-0.4l1-1.5l1-0.1l1 3.1l1-4.1l1 3l1 0.7l1-2.6l1-2.4l1 1.5l1 0.4l1 0.1l1-3.9l1 2.7l1-1.8l1 2.1l1 1.5l1-2.1l1 1l1 0.1l1-0.9l1 7l1-6.1l1-1.7l1-0.4l1 3.5l1 3.7l1-5.1l1 0.4l1 0.2l1 1.9l1-0.2l1-4.5l1 3.2l1-0.8l1 0.3l1-1.9l1 0.3l1-3.4l1 3.4l1-0.1l1 4l1-2.1l1-0.8l1 1.1l1 3.1l1-0.8l1-2.5l1 1.4l1 2.7l1-1.5l1-3.7l1-0.3l1-0.1l1 1.3l1-1.7l1 2.1l1-4.6l1 5.1l1-0.2l1-3l1 3.5l1-2.6l1-1.5l1 1.3l1-4.1l1 2.1l1 1.3l1 0.5l1 0.3l1 0.2l1-4.1l1 2.2l1 3.1l1 0.4l1-0.5l1 1.9l1-3.1l1-3.3l1 2.7l1-0.3l1 0.4l1-2.4l1 1.1l1-1.6l1 2l1-0.2l1 1.5l1 1.5l1-0.7l1-4.9l1 1.7l1 0.6l1 1l1-3.1l1-0.8l1 4.4l1-2.1l1 3.2l1-4.7l1 1.1l1 5.1l1-1.6l1 4.5l1-2.6l1-3.7l1-0.2l1 2.7l1 0.7l1-5.5l1 5.6l1-5.4l1 3.9l1-2.9l1 2.4l1-1.1l1-3.5l1 0.1l1 2.3l1-0.2l1 0.7l1 1.7l1-3.2l1-0.1l1-1.6l1 4.1l1 0.7l1-0.3l1-3.7l1 0.7l1 3.4l1 1l1 0l1-2.7l1-1.3l1 3l1-3.2l1-0.5l1 3.8l1-4l1 0.1l1 3.2l1-1.3l1 2.4l1-2.3l1 1.5l1 2.8l1 0.1l1-2.6l1-5.7l1 7.1l1-1.3l1 3.8l1-3.8l1-0.5l1-0.9l1 1.5l1 2.7l1-6l1 2.5l1 2.4l1-2l1 1.6l1 1.9l1-1.5l1-2.8l1 1.3l1-0.3l1 0.3l1 2.5l1-2.6l1 0.6l1 0.7l1-3.1l1 4l1-2.5l1-2.5l1-3.3l1 4.9l1-2.8l1 2.4l1 0.2l1 0.6l1 1.3l1-6.6" fill="none" stroke="#88A74B" stroke-width="6.8" stroke-linejoin="round" stroke-linecap="round" />
<path d="M131.5 373.5l1-12.5l1-5l1-4.4l1-6.8l1-16.9l1 23.7l1-24.3l1-0.3l1-1.8l1-7.5l1-15.7l1 6.5l1-13.3l1 23.8l1-15.9l1-17.3l1-4.6l1 4.7l1 15.1l1-10.3l1-15.5l1 42.4l1-33.8l1-12.2l1 36.2l1-25.4l1-0.1l1 0.1l1 16.1l1-30.2l1-6.6l1 20.3l1-15.2l1-4.5l1-14.7l1 3l1-12.2l1 5.9l1 10.5l1-40.2l1 16.1l1-8.6l1 15l1 12.7l1-22.1l1 55.4l1-49.5l1-11.7l1 13l1-5.5l1 21.7l1-17.7l1-22.8l1 21.2l1-7.2l1-18.4l1 19.3l1-3.3l1 4.4l1 0.6l1-9.7l1-13.3l1 1.7l1-1.6l1 16.7l1-2.6l1-30.3l1 22.5l1-14l1-1.9l1 2.7l1-9l1 41.7l1-37.7l1 19l1-14.8l1-9.4l1 0l1-19.6l1 8.6l1-1.4l1 21.1l1-10.4l1-5.2l1-7.8l1 11.9l1-0.6l1 10.5l1-26.1l1 15.1l1 2.9l1 14.2l1-5.9l1-1.1l1-0.5l1 4.3l1-14.5l1 33.5l1-4.5l1-22.4l1 13.9l1 3.6l1-1.9l1 6.9l1-4.3l1-32l1 12.4l1-34.3l1 2.1l1-1.1l1-2.7l1-11.8l1-4.1l1-0.9l1-5l1 5.3l1-22.7l1 11.4l1-1.3l1-2.5l1 0.4l1-4l1 0.1l1-1.7l1 1.1l1-0.9l1 0.7l1-1.8l1 0l1-1.3l1-0.5l1-0.1l1-1.6l1-1.5l1-1.3l1 1.7l1 1.6l1-7.9l1 8.9l1-2.1l1-2.3l1-1.6l1-1.3l1-3l1 3.9l1-3.2l1-0.4l1 3l1-2.4l1-0.5l1-1.9l1 2.6l1-3.3l1-1.1l1 1.9l1-1.5l1-2.7l1 0.4l1-3.9l1-0.2l1 3.9l1-0.4l1-2.4l1 2.6l1-6l1 2.6l1-4.2l1 1.1l1 2.5l1 0.2l1-0.9l1 0.6l1-1.1l1-0.6l1 0.7l1-4.4l1 1.4l1 0.2l1-0.7l1-0.4l1 0.3l1-0.6l1 3.2l1-2.2l1 0.3l1 3.7l1-0.8l1-3.6l1 1.7l1 1.9l1-1.6l1-1.7l1 3.5l1-2.5l1 2.2l1 0l1-0.4l1 4.6l1-3.1l1-1.3l1 0.8l1 0.3l1-4.3l1-1.3l1 2.8l1-4.2l1 1.7l1 2.7l1 1.3l1 3.2l1-6.9l1 1.7l1-1.3l1 0.1l1 2.4l1 4.2l1-2.8l1 2.1l1 1l1 0.4l1 0.9l1-1.4l1-2.4l1-1.6l1-2.4l1 4.2l1-0.6l1 1.9l1-2.6l1 2.8l1-3.1l1-1.6l1 3.9l1 0.6l1-2.6l1 6.2l1-5l1-0.5l1 0.1l1 0.4l1-2l1 2l1-0.2l1 1l1 3.3l1-9.9l1 6.6l1 0l1 0.1l1 0.4l1 2.3l1-7.2l1 3.9l1 4l1-3.6l1 3.4l1-4.8l1-2l1 4.2l1-1.5l1-4.8l1 1.5l1 3.4l1-1.4l1-3.6l1 1.5l1 2.8l1-0.6l1 0.3l1-0.9l1 2.1l1-0.6l1-1.8l1 0.7l1 3.6l1-3.6l1 0l1-1l1 1.2l1 1.2l1 0.9l1 2.6l1-0.2l1-1.4l1-0.7l1 0l1 4.9l1-3.8l1-1.2l1 3.1l1-6l1 1.4l1 2.5l1 0.5l1-2.4l1 4.7l1-2.9l1 0.1l1-1.9l1 0.1l1 3.2l1-2.5l1-1l1 4.5l1-2.1l1 2.8l1-4.8l1 2.6l1-1.7l1 0.6l1-1.7l1 3l1-4.4l1 2.3l1 2.7l1 0.9l1 0.7l1-3.8l1 5.4l1 0.3l1-0.2l1-5l1 1.3l1-0.5l1-0.7l1 1l1 0.1l1-2.8l1 2.5l1-2.3l1 1l1 3.1l1 0l1 0.1l1-2.8l1-2.9l1 2.9l1 0.3l1 0.3l1-2.7l1 3.6l1 3l1-3.5l1 5l1-5.3l1 0.6l1 1.8l1 4.2l1-1.6l1 2.8l1-7.5l1 3.1l1-6.3l1 0.5l1 3.1l1-2.2l1 3.2l1-1.3l1 1.7l1 0.2l1 0.3l1-0.9l1 2.6l1-0.1l1-3.9l1 1.4l1-2.2l1 2.5l1 1.4l1-2.6l1-0.2l1-2l1 7.6l1-1.5l1-2.3l1 0.5l1 0.1l1-0.6l1 0.4l1 0.6l1-3.9l1-1.1l1 2.8l1-1.1l1-0.2l1 3.5l1-0.9l1-1.9l1-2.5l1 3.4l1 1l1 0.5l1-2.7l1 0.7l1-1.6l1 2.8l1-1l1-0.2l1 0.7l1-0.4l1 3l1 1.1l1-5.4l1 3l1 1.2l1-1.1l1 0.3l1 0.3l1 1.2l1-4.1l1 0l1-2.7l1-2l1 3.8l1-0.3l1 2.9l1 0.8l1-6.1l1 5.7l1 0.7l1 2.5l1-0.7l1-2.9l1 0.7l1 4l1-5l1-4.4l1 2l1 1.7l1 3.3l1-1.8l1-1.4l1-0.5l1 0.1l1-4.3l1 0.8l1 1.6l1 3.8l1-2l1 2.8l1-2.2l1-1.5l1 3.8l1-5.1l1 1.7l1 2.4l1-7l1 5.9l1 0.2l1 0.9l1-3.5l1 4.3l1-2.7l1 1.2l1-1.6l1-0.5l1 1l1-0.6l1 5l1-3.3l1 1l1-2.5l1 1.6l1 4.6l1-2.3l1 1.9l1-1.2l1-2.2l1 0.5l1-0.1l1-2.3l1 2.6l1-0.3l1 2.1l1-1.8l1 2.6l1-6.4l1 2.1l1-1.6l1 1.4l1 2.1l1 1.3l1-0.9l1 2.5l1-1.4l1-0.2l1-1.7l1 2.5l1-5.1l1-1.7l1 4.5l1-2.1l1 2l1-1.8l1-0.9l1 5l1-1.2l1 2.5l1-0.5l1-3.9l1-0.2l1 2.3l1-3l1 1.2l1-2.1l1 2.5l1 0.3l1 0.7l1 1.6l1-5.5l1 0.1l1 2l1-1.2l1 3.7l1-2.2l1 1.6l1-3.1l1 0.9l1-2l1-2.3l1 1.7l1 0.7l1 1.9l1-2.2l1 1.5l1-3.5l1 1.7l1 3.2l1 1.5l1-3.2l1 4.2l1 0.1l1 0.3l1-2.6l1 2.7l1-1.8l1-4.9l1 4.2l1 0.1l1-1.3l1-2.2l1 1.4l1 1.9l1-1.2l1 0.5l1 2.4l1 0l1-5.2l1 3.9l1-4.5l1-3.4l1 7.4l1-3l1 2.4l1-1.5l1-2.8l1 1.4l1-0.9l1 0.4l1-0.9l1-0.9l1 5.4l1-3.9l1 1.3l1-0.3l1 2.2l1-2.7l1 1.4l1-1.7l1 1.9l1 0.1l1-1.5l1 2.9l1-1.6l1-1.1l1-0.3l1-0.6l1 2.5l1 0.4l1 0.9l1-6.8l1 6.1l1-0.6l1-2.8l1-2.1l1 2.6l1 2.6l1 1.6l1-2.2l1-1.7l1 0.4l1-0.5l1 2.2l1-2l1 0.4l1 0.7l1 1.6l1-4.3l1-1.8l1-0.1l1 6.3l1-1.4l1-1.6l1-0.6l1-3l1 4.6l1-1l1-1.3l1 1.1l1 5.4l1-5.4l1-0.8l1 1.2l1-2l1 4l1 2.4l1-0.4l1-1.8l1 3.3l1-4.8l1-0.9l1 1.3l1-0.2l1-4.2l1 2.7l1 2l1-1.2l1 0.4l1-2.8l1-0.5l1 6.7l1-3.3l1-0.1l1-1.3l1 2.4l1-0.2l1-1.7l1 1.1l1 2.2l1 0.6l1-1.8l1-0.8l1 1.7l1-1.3l1-0.6l1-1.2l1 5.6l1-2.5l1-0.7l1-0.8l1 1.1l1-2.7l1 3.1l1-0.7l1-0.9l1-2.7l1 1.9l1-1l1-0.6l1-0.6l1 4l1 2.7l1-5.8l1-0.9l1 4.3l1-1.4l1 1.8l1-6.1l1 4.4l1-4.8l1 5.7l1-4.6l1 2.8l1 5.5l1-3.3l1 1.7l1 2.7l1-4.7l1-5.5l1 2.5l1 1l1 2l1-3.9l1 2.8l1-2.5l1-1.8l1 3.2l1-1.4l1 1.7l1 0.2l1-1.4l1-3.9l1 6.8l1 1.5l1-4.6l1 0.1l1 0.8l1 1.5l1-0.6l1-2.5l1 2.6l1-4l1 5.1l1-4l1 3.8l1 1.5l1-8l1 1.7l1 1.8l1-1.4l1 2.3l1-2.1l1 4.8l1-1.2l1 0.9l1-2l1 3.8l1-0.5l1-0.7l1-0.1l1-2.3l1-1.1l1-1.4l1 4l1-2.5l1 3.1l1-0.4l1-2.6l1 3l1 0.1l1-3.9l1 1.2l1-0.6l1 0.8l1-0.5l1 1.1l1 1.1l1-0.4l1-2.1l1-0.6l1 0.8l1-1.3l1-1.8l1 2l1-2.4l1 2.2l1 0.8l1 3.4l1-2l1-3.4l1 3.7l1-0.6l1 1.1l1-0.4l1-2.4l1 2.4l1 1.2l1-0.5l1-2.6l1 0.3l1 4.5l1-5.7l1 6l1-3.3l1 1l1 3.7l1-2.1l1-4.7l1 0.9l1 3.1l1-1.4l1 2.6l1-2.9l1 4.1l1-2.4l1-3l1-0.6l1 1.2l1-3.2l1-0.6l1 1.2l1 2.8l1 2.1l1-5.1l1 4.5l1 2.9l1-6.5l1 1.3l1 0.2l1-1.7l1 4.7l1-0.4l1 1.2l1-0.7l1-3.5l1 1.3l1-2.3l1 1.8l1 1.3l1 0.7l1 0.6l1-6.7l1 1.1l1 2.5l1-4.6l1 3l1-1.6l1-0.1l1 0.8l1-1.7l1 0.9l1 0.6l1-3l1 0.2l1 0.6l1 0.9l1-0.4l1 1.4l1 0l1-1.1l1 3.4l1 0.9l1 0.8l1-1.7l1-0.1l1 2.7l1 0l1-1.5l1 2.1l1-1.4l1 0.3l1 1.2l1-3.5l1-1.7l1-1.7l1 2.5l1 0.4l1 2.8l1-3.6l1 0.3l1 0.8l1-0.4l1-2.9l1 2.1l1 1.3l1-5.3l1 2.4l1 0.8l1-2.1l1 1.8l1-1l1 0.5l1 3.6l1 0.8l1 0.1l1-1.1l1 0.3l1-3.8l1 2.8l1 2.4l1-2.2l1-1.3l1 6.7l1-3.5l1-0.5l1-1.1l1 7.5l1-5.3l1 0.8l1 0.3l1-2.6l1 1l1 0.1l1 0.9l1-0.5l1-2.2l1-0.4l1-2l1 0.8l1 2.4l1-1l1-0.8l1 5.3l1-2l1 0.2l1 1.5l1-1.2l1 0l1-2.7l1-1.5l1-2.4l1 5.9l1-4.2l1 0.8l1 2.2l1-3.2l1 2.4l1-0.2l1-1.3l1 3l1-2.5l1 1l1-0.9l1 2.5l1-0.4l1 0.1l1 0.9l1-0.4l1 1.1l1-0.6l1 1l1 0.8l1-5.2l1-1.5l1-1.6l1 3.6l1-0.8l1 1.2l1 0l1 0.1l1 0.1l1 0.3l1 2.7l1-4.1l1 2.3l1 0.8l1-0.8l1 2.7l1-1.8l1-3.1l1 2.9l1-1.5l1-0.5l1-2.3l1 4l1-1.5l1-2.7l1 1.4l1 6l1-3.6l1 0.8" fill="none" stroke="#B23E39" stroke-width="6.8" stroke-linejoin="round" stroke-linecap="round" />
<path d="M131.5 373.5l1-11.5l1-4.8l1-13.8l1 9.8l1-17.8l1 7.4l1-8.6l1-24.6l1 26.7l1-13.4l1 6.9l1-4.5l1-30.1l1 15.3l1 3.2l1-24.1l1-5.5l1 22l1-22.8l1 13.7l1 0.2l1 17.1l1-45.3l1 15.4l1 5.1l1-10.2l1-5.7l1 18l1-7.6l1-57.8l1-14.1l1 23.4l1 14.1l1 20.2l1-35.8l1 17.4l1-25l1 0l1 39.7l1-23.7l1 5.6l1-13.3l1-15.6l1 21.9l1-5.6l1 14.3l1-38.8l1-0.2l1 0.4l1 0.8l1-16.9l1 21.5l1-2.1l1-1.7l1 22.5l1-46.7l1-4l1 24.9l1 6.2l1-13.6l1-6.2l1 1.7l1 19.6l1-25l1-10.3l1 59.4l1-48.7l1-19.7l1 32.7l1-23.8l1 9.2l1 15l1-23.1l1-8.3l1 3.8l1-22l1 50.6l1-12l1-40.4l1 21.4l1 15.5l1-20.4l1-17.4l1-3.5l1-15.4l1 14.3l1 18.9l1-9.2l1-14.4l1-8.9l1 34.7l1-12.1l1-7.9l1 9.2l1 11.6l1-9.9l1 35l1-26.3l1-2.9l1 7.8l1-20.7l1-25.1l1 7.5l1-10l1 4l1-13.3l1-14.1l1 4l1 1.3l1 1.8l1-10l1 9.9l1-2.1l1-9.5l1 10.8l1-2.6l1-5.6l1 0.2l1 0.4l1 2.6l1-1.1l1-2.4l1 1.2l1-2.4l1 4.5l1 1l1-2.9l1 0.5l1-0.8l1-3.9l1 2.2l1 0.7l1 5.1l1-8.6l1 2.6l1 1l1-0.6l1 0l1 1.6l1 1.4l1-0.8l1-2.9l1-3.4l1 1.7l1 2l1 0.6l1 0.1l1-0.9l1 0.5l1-1.2l1 0.6l1 1.4l1 0l1 0.6l1-3l1 2.5l1-4.9l1 3.4l1 4l1-3.4l1-2.8l1-1.5l1 3.3l1 1.5l1-4.7l1-1.1l1 2.6l1-0.9l1-2.8l1 3l1-3l1-0.6l1 3.1l1-2l1 2.4l1 0.3l1 2.3l1-3.2l1 2.6l1-6.3l1 1.5l1-2.4l1-2.2l1 2.7l1-0.1l1-4l1 2.7l1 3l1 0.2l1 0.8l1-2.1l1-1.2l1 1.2l1-1.2l1-1.2l1-0.2l1 0l1-4.1l1 3.9l1-4.4l1 0.8l1 4.8l1 3l1-6.6l1 6.3l1-3.2l1-1.5l1 0.8l1 0.9l1 2.3l1-0.2l1-2.3l1 3l1-5l1 2l1-3.3l1-0.4l1-1.6l1 4l1 0.9l1-3l1 4.1l1-3.5l1-1.3l1 6.3l1-4.4l1 1l1 3.7l1-3.8l1-2.3l1 2.3l1 2.3l1-3.2l1 3.2l1-1.6l1-1l1 3.3l1-4.1l1 2.4l1-0.4l1-4.7l1 6.3l1 0.6l1-2.9l1 0.2l1 1.3l1 1.5l1-0.1l1 2.8l1-2.3l1-2.6l1-0.8l1 0.6l1 0.6l1-5.6l1-2.4l1 9.6l1 1.6l1-3.6l1 2.5l1-0.4l1-3.9l1 2.5l1 2.5l1-4.4l1 5l1 0.3l1-0.4l1 1l1-0.7l1 1.2l1-3.6l1 2.2l1-2.7l1-0.1l1-2.6l1 0.2l1-0.6l1 0.5l1 0.8l1 4l1 0.2l1-1.2l1 1.2l1 0.2l1-0.6l1-3.4l1 0.5l1 2.1l1-2.1l1 2.4l1 1.5l1-3.4l1 3.1l1-0.4l1-0.9l1 0.7l1 0.2l1-1.6l1-1.3l1-2.1l1 4.5l1-2.6l1 0.4l1-5.6l1 4l1 0.1l1 2.2l1-2l1-0.8l1 1.2l1 1.6l1-3.4l1 6.1l1-2.4l1-6.2l1 4.3l1-0.8l1 2.6l1 1.8l1-1.4l1-0.5l1 0.8l1-3.3l1 3l1-6.2l1 6.1l1-2.8l1 2.3l1-4l1 1.5l1 3.8l1 0.9l1-2l1-3.2l1 6.1l1-3.5l1 2.7l1-2.1l1 3.7l1-6.5l1 6.4l1-3.4l1-0.7l1 0.1l1-1.7l1 2.7l1-0.7l1-3.2l1 2.3l1-1.3l1 0.2l1 0.2l1-1l1 3.1l1-4.8l1 3.7l1-0.7l1-0.2l1-5.3l1 0.1l1 0l1 0.8l1-1.6l1 4.9l1-3.9l1 2.5l1 4l1 2.2l1-6.2l1 0.6l1 1.1l1-1.7l1 1.4l1-1.7l1 0.5l1-0.5l1-0.7l1 1.7l1 2.1l1-2.5l1-0.7l1-1l1 2l1 3.3l1-3.3l1 0.7l1 0l1 2.3l1-3.3l1 3l1 0.5l1 0.3l1-1l1 1.2l1 0.7l1-6.3l1 2.6l1 0.4l1-1.6l1 1.9l1-2.5l1-3.7l1 0.6l1 3.9l1 2.1l1 0.6l1 1.5l1-5.6l1-1.7l1 5.8l1-3.2l1 0.4l1 3.3l1-1.7l1 5.6l1-4.5l1 2.6l1-4.7l1 4.3l1-2l1-1.4l1-0.2l1-0.4l1-1.3l1 3.5l1-5.2l1-3.7l1-0.3l1 4.1l1 1.9l1-0.8l1-1.1l1-1l1-0.1l1 2l1 0.8l1-0.2l1-3.7l1 2l1 2.7l1-1.8l1 4.4l1-4.2l1 2.5l1-0.9l1 0.4l1 0.2l1 1.6l1 2.4l1-3l1 1.1l1-0.7l1-1.7l1 3l1-1.9l1 0.3l1 0.6l1-4.3l1 0.9l1 3.2l1-3.9l1 4.1l1-1.5l1 2.8l1-1.7l1-3.3l1 5l1-1.4l1-2.5l1 3.7l1-2.9l1-1.2l1-2.4l1 2.9l1 2.2l1-2.4l1 2.6l1-3.1l1 0.1l1-1.6l1-0.2l1-0.3l1 3l1-1.9l1 0.5l1-1.3l1 0.5l1-2.5l1 1.3l1 2.3l1 4.1l1-4.9l1 5.4l1 2.2l1-6.3l1 0.6l1 2.7l1-3.4l1-2.5l1 4.2l1-3.1l1 6.5l1-3.3l1-0.8l1-0.8l1-1.8l1-2.7l1 3.1l1 1.6l1-1.9l1-0.9l1 0.9l1 0.4l1 1.3l1 0.6l1 3.9l1-2l1-0.7l1-1.4l1-2.7l1 1.5l1-2.1l1 4.1l1-1.7l1-2.3l1 2.3l1 1.1l1-2.1l1 2.5l1-6.5l1 4.4l1 4.1l1-2.7l1 4.5l1-3.4l1-2.4l1 0.2l1-1l1-0.9l1 1.4l1 0l1-2.8l1-0.5l1 2.8l1 3.2l1-2.5l1 1.3l1-1.5l1-1.4l1 2.6l1 0.1l1-0.9l1 0.9l1 2.1l1-1.9l1-2.5l1-1.9l1 2.7l1 1.8l1-6.1l1 5.5l1-0.5l1-2l1 2.3l1-1.9l1-0.5l1 1.8l1 1.7l1 2.2l1-2.5l1 2.8l1 1.3l1-2.8l1-0.1l1 1.8l1-3.8l1 2.1l1-3.8l1 3.4l1-1.2l1-1.6l1 1.1l1 1.2l1-3.2l1 3.9l1-3.1l1 1.6l1 1.3l1-2.5l1-2.1l1-0.6l1 0.6l1 5.1l1-0.8l1-1.4l1-2.2l1-1l1 2.7l1-1.2l1 0.4l1 3.5l1-2.4l1 0.6l1-0.4l1-0.9l1-0.3l1-2.4l1 1.1l1 0.1l1-2.6l1 4.2l1-2.1l1 2.3l1-1.7l1 1.9l1-0.1l1 3.4l1-2.4l1-3.8l1-1.4l1 7.5l1-3.6l1-0.1l1-1.3l1 0.2l1-2.6l1 1.7l1 2.7l1 2.7l1-3.2l1 0l1-0.7l1 1.3l1-0.7l1 0.6l1 1.1l1-4l1 1.4l1-0.2l1-3.6l1 4.8l1-0.9l1-2.6l1 1l1-0.7l1 4l1-2.3l1-3l1-1.7l1 4.7l1 1.8l1-4.4l1 3.9l1-2.1l1 7.2l1-3.9l1-1.9l1-0.7l1-0.7l1-4.2l1 4.5l1 1.8l1-5.6l1 0.2l1 1.1l1-4.7l1 7.2l1-1.5l1-2l1-0.4l1 4l1-1.6l1 2.5l1-2.7l1 2.2l1 2.8l1-3.1l1-3.1l1 4.2l1-1.7l1 0.8l1 4.8l1-4.6l1 4.5l1-3.9l1 2.6l1 1.4l1-1.4l1 0.2l1-1.5l1 0.4l1 5.2l1-4.1l1 2.3l1-4.2l1 1.8l1-0.5l1-0.2l1-4.5l1 0.6l1 1l1 4.2l1-1.7l1-0.8l1-4.1l1 3.6l1-2.7l1 2.2l1 3.1l1-3.5l1-0.7l1 2.1l1-2.3l1 0.4l1-0.7l1 4.8l1-4.6l1 0l1 3.1l1-3.8l1-1.3l1 4.4l1 0.2l1-1.1l1 0.9l1 2.1l1-5.6l1 3.3l1-2.4l1 2l1-1.1l1 3.5l1 2.6l1-2.5l1 2.1l1 0.9l1-3.1l1 0.4l1-3l1 2.2l1-4.2l1 4.8l1 0.8l1-1.2l1-0.9l1 4l1-4.4l1-0.2l1 3.3l1 0.1l1-1.6l1 4l1 0.8l1-2l1-1.2l1 0.9l1-0.2l1-1.9l1-1.2l1 1.4l1-2l1-2l1-0.6l1 3.2l1 2.9l1 1.9l1-2.7l1-1.9l1 0.9l1 1.3l1-2.4l1 1.6l1 0.8l1-3.4l1-2.3l1 5.9l1-1.5l1 4.6l1-3.4l1-3.3l1 1l1-1.1l1-1.6l1 0.6l1 5.4l1-6.4l1 0.2l1 2.1l1-2.2l1 2.4l1 0.3l1 0.1l1-4.5l1-5.6l1 1l1-0.7l1 2.1l1-0.2l1 2l1-1.5l1 0l1-1.1l1 5.4l1-1l1-2.9l1-3l1-1.5l1 3.9l1 0.2l1-2.3l1 3.3l1 2.5l1-1.8l1 2.6l1-3.2l1-0.3l1-1.3l1-0.9l1-3l1 5.2l1 3.2l1-2.9l1-2.6l1 3l1-3.9l1 0.7l1 3l1 4.7l1-8.4l1 2l1 0.6l1 2.6l1 0.8l1-2.4l1-3l1-0.9l1-2.5l1-0.1l1 8.8l1-2.3l1-5.8l1 3.9l1-0.6l1-1.3l1-1.6l1 3.9l1-2.1l1-2.1l1 1.7l1 4.2l1-3.2l1 1.3l1 0.3l1-2.7l1 3.5l1-5.9l1 2.2l1 1.4l1-0.1l1-1.7l1 2.3l1-3.5l1 6.2l1-7.8l1-2.5l1-0.7l1 5.7l1-3.6l1 1.5l1-1.1l1 1.1l1-1.7l1 2.5l1-1.5l1 2.1l1-0.4l1-1.7l1-1l1-0.1l1 3.3l1-3.9l1 3.6l1-1l1-2l1 0.7l1-1l1-0.1l1 3.8l1-4.6l1 1.3l1-1.3l1-1l1-1.7l1 3.1l1 1.7l1-1.5l1-0.4l1 3.4l1 0l1-0.3l1-4.4l1 1.5l1-1l1 1.6l1-0.6l1-3.3l1 1.6l1 0.5l1-3.3l1 2.4l1-1.7l1 1.8l1-1.7l1 1.7l1-1.1l1-0.3l1 2l1-0.3l1-0.2l1 1.7l1-6.7l1 5l1-1.7l1-2.9l1-1.2l1 1.2l1 3.4l1-1.1l1 0.7l1 1.4l1-0.3l1-1.3l1 1.3l1 0.2l1-4l1 1.5l1 2.4l1-1.8l1-0.3l1 0.7" fill="none" stroke="#406FA9" stroke-width="6.8" stroke-linejoin="round" stroke-linecap="round" />
<text x="122.8" y="22.3" font-size="22.8" font-family='"Liberation Sans", sans-serif' text-anchor="end" font-weight="normal" >2.5</text>
<text x="122.8" y="94.3" font-size="22.8" font-family='"Liberation Sans", sans-serif' text-anchor="end" font-weight="normal" >2</text>
<text x="122.8" y="166.1" font-size="22.8" font-family='"Liberation Sans", sans-serif' text-anchor="end" font-weight="normal" >1.5</text>
<text x="122.8" y="237.9" font-size="22.8" font-family='"Liberation Sans", sans-serif' text-anchor="end" font-weight="normal" >1</text>
<text x="122.8" y="309.7" font-size="22.8" font-family='"Liberation Sans", sans-serif' text-anchor="end" font-weight="normal" >0.5</text>
<text x="122.8" y="381.3" font-size="22.8" font-family='"Liberation Sans", sans-serif' text-anchor="end" font-weight="normal" >0</text>
<text x="131.3" y="401.6" font-size="22.8" font-family='"Liberation Sans", sans-serif' text-anchor="middle" font-weight="normal" >0</text>
<text x="319.7" y="401.6" font-size="22.8" font-family='"Liberation Sans", sans-serif' text-anchor="middle" font-weight="normal" >20</text>
<text x="508" y="401.6" font-size="22.8" font-family='"Liberation Sans", sans-serif' text-anchor="middle" font-weight="normal" >40</text>
<text x="696.4" y="401.6" font-size="22.8" font-family='"Liberation Sans", sans-serif' text-anchor="middle" font-weight="normal" >60</text>
<text x="884.7" y="401.6" font-size="22.8" font-family='"Liberation Sans", sans-serif' text-anchor="middle" font-weight="normal" >80</text>
<text x="1073.1" y="401.6" font-size="22.8" font-family='"Liberation Sans", sans-serif' text-anchor="middle" font-weight="normal" >100</text>
<text x="1086.8" y="42" font-size="45" font-family='"Liberation Serif", serif' text-anchor="middle" font-weight="bold" transform="translate(0 42) scale(1 1.06) translate(0 -42)">A</text>
</g>
<g id="panelB">
<line x1="142.4" y1="498.5" x2="142.4" y2="912" stroke="#868686" stroke-width="1.6"/>
<line x1="141.6" y1="911.2" x2="1123" y2="911.2" stroke="#868686" stroke-width="2"/>
<path d="M142.5 539.4l1 10.9l1 7.3l1-7.2l1 5.9l1 2.1l1 4.3l1 5.5l1 2.3l1 1.9l1 3.3l1-2.7l1 13.5l1-16.1l1 16.1l1 5.7l1-1.6l1 4.3l1 0.5l1 0l1-6.7l1-4.7l1 6.8l1-8.3l1 12.9l1 0.3l1-11l1 13.3l1 3l1-13.8l1 2.6l1 2.1l1 4.3l1-6.7l1-1.7l1 8l1-6.7l1 13.5l1-10.6l1 0.5l1 14.2l1-26l1 9.8l1 13.8l1-13.1l1 1.3l1 6.7l1-16.8l1 9.5l1 10.7l1-13.2l1 7.9l1 1.1l1-16.5l1 15.2l1-4.2l1 13.2l1 5.7l1-10.8l1-5.7l1 13l1-18l1 10.3l1-6.1l1-9.6l1 14.2l1-14.8l1 17.8l1 2.2l1-13.3l1 5l1-4.7l1-5.5l1 18.6l1-4l1-8.4l1 8.4l1 15l1-8.6l1-0.5l1 4l1 4.6l1-4.5l1 2.8l1 3.9l1-6.8l1-4.2l1 6.2l1-1.7l1 11.9l1-10l1 0l1 4.3l1 2.5l1-2.4l1 2.9l1-11.7l1 22.2l1-6.9l1-6.7l1-11.7l1 14.5l1-2.1l1-8l1 15.7l1-2.6l1-12.3l1 18.3l1-20.5l1 1.2l1 7.8l1 10.2l1-12.3l1 9.2l1-3.4l1 2.1l1-3l1 7l1 7.3l1-18.5l1 5.9l1 7.6l1-8.3l1-4.3l1 6.9l1 8.2l1 3.3l1 9.9l1-15.6l1 1.3l1-1.5l1 4.5l1-4l1 6.9l1 4.9l1-7.1l1 3.9l1-11.1l1-9l1 0.3l1-1.7l1 3.9l1 0.3l1-1.8l1 7.4l1 22.9l1-24.3l1 4.7l1-13.2l1 7.2l1-4.1l1 13.9l1-2.8l1-9.6l1 15.6l1-1.1l1-13.9l1 11.1l1 5.7l1-25.3l1 11.1l1 1.8l1 7.8l1 2.6l1-9.3l1-6.4l1 7.5l1-4.4l1-0.2l1-1.5l1-8l1 4.7l1 7.8l1 5.6l1-12.2l1 9l1-0.6l1-1.3l1 1.8l1 2.2l1-4.6l1-6.1l1-12.3l1 26l1 0.5l1 3.6l1-2.2l1-0.6l1 16.3l1-7.5l1-1.6l1-10.7l1-5.6l1 8.1l1-2.6l1 14.2l1 9.2l1-23.1l1 11l1-15.1l1-1.8l1 6.5l1 9.1l1-5l1 4.7l1-4.6l1-2.7l1 2.1l1-1.3l1-9.3l1 11.9l1-10.4l1 11.2l1-8.7l1 9.2l1-3.1l1-1.1l1 5.7l1-11.6l1 1.9l1 4l1 3.7l1 0.9l1-1.3l1 8l1 2.2l1-4.8l1-14.6l1 2.6l1-9.3l1 28.2l1-15.2l1-2.8l1 3.2l1 0.8l1-0.5l1 8.5l1-2.3l1 1.4l1 2l1-3.8l1-2.7l1 2.2l1 1.7l1-0.3l1-18.7l1 18.3l1-7l1 4.3l1 11.8l1-0.2l1 5.6l1-4.4l1 5.6l1 4.3l1-13.8l1 0.1l1-1.9l1 8.5l1-7.8l1-7.2l1 7.6l1 9.7l1-12.1l1-0.7l1-2.6l1 1.8l1-0.4l1-10.2l1 1.9l1-2.7l1 6.7l1 0l1-4.6l1 9.8l1 11l1-10l1-4.2l1-3.2l1 10.6l1 1.8l1-7.9l1-2.3l1-3.7l1 7.4l1-4.6l1-3.1l1 13.8l1-13l1 10.3l1-8.6l1 2.3l1-8.3l1-8.5l1 12.1l1 3.3l1 3.2l1-1.5l1-5.3l1 9l1 0.3l1 5.2l1-12.3l1-7.6l1 19.8l1-2.5l1-7.2l1 4.5l1-6.1l1-3.8l1 2l1 6.7l1-1.9l1 7.1l1-2.6l1 3l1 0l1 4l1 8.7l1-4.4l1-1.6l1-11.8l1 2.8l1-5l1 4.1l1 5.9l1-0.4l1-20.4l1 23.4l1 11l1-20.1l1 5.6l1 3.1l1-6.6l1 10.5l1-9.6l1-1l1-11l1 2.4l1 3.8l1 10.9l1-7l1 4.8l1 4.5l1 6.2l1-12.5l1 8l1 3.1l1-4.6l1-3.6l1 5.4l1-8.2l1 7.9l1-2.5l1-1l1 3.5l1-6l1 8.3l1-7.3l1 3l1-3l1 3.9l1 0.7l1 0.4l1-3.1l1-0.6l1 1.8l1 2.1l1-0.6l1 0.5l1 2.3l1-2.5l1 2.2l1-1.3l1-1l1-1l1 0.9l1-1.9l1 2.5l1-3l1 2.9l1-0.4l1-2.6l1 2.3l1-1.4l1 2.7l1-0.3l1-2.3l1 2.6l1 0.2l1 0.7l1-0.3l1 0.5l1-0.8l1 0.9l1-3.6l1 5.2l1-4.1l1 1.1l1 1.1l1-0.4l1-1.8l1 0.9l1-0.1l1 1l1-0.4l1 1.4l1-1.4l1 1.1l1-2.5l1 1.5l1 0.9l1 0.9l1 1.2l1-2.8l1-1.6l1 1.3l1 2.7l1-0.6l1-2.8l1 0.1l1 1l1-0.2l1-0.1l1-0.7l1-1.5l1 1.7l1 1.2l1-3.5l1 0.3l1 2.7l1-2.4l1-0.7l1 2.6l1 0.2l1-1.7l1-0.4l1 0.7l1-0.8l1 2.2l1 1.7l1-1l1-1.5l1-1.2l1 2.5l1 0.4l1-1.3l1 0l1 0.4l1-2.3l1 0l1 2.7l1-2l1 0.3l1 0.4l1 0l1 1.6l1-1.6l1 3.8l1-1.3l1-3.1l1 2.6l1 0.4l1-0.2l1-1.3l1-1.1l1-0.3l1-2.1l1 0.1l1 1.7l1 1.2l1 1.4l1-1.3l1 1.9l1 0.3l1-1.3l1-0.6l1-1.1l1 0.8l1-2.6l1 3.6l1 1.4l1-0.4l1 1.8l1-2l1-0.1l1-2.7l1 0.9l1 0.1l1 2l1-1.1l1-0.3l1 0.3l1-0.4l1 1.1l1-2.6l1 0.7l1-1l1 2.1l1 1.8l1-0.4l1-4.6l1-0.3l1 2.1l1 1.1l1-1.2l1-1.7l1 2.8l1 0.5l1 2.1l1-1.4l1-0.4l1-0.5l1 1.1l1-2.4l1 1.7l1 0.1l1 0.7l1-0.9l1-0.9l1-0.7l1 0.9l1-0.3l1-1.2l1 2l1-1.2l1-0.5l1 0.4l1-0.6l1 0.6l1-1l1 1.7l1-1.3l1 0.8l1 0.9l1-1.9l1 0.5l1-0.5l1-0.1l1 0.6l1 0.1l1-0.2l1-2.7l1 1.8l1 0.7l1 0.1l1-0.3l1 1.2l1-1.8l1 0.7l1 0.5l1-2.5l1 3.2l1-0.7l1 2.7l1-2.1l1 1.5l1-0.5l1-0.6l1 0.9l1 0.2l1-2.7l1 1.6l1 1l1-0.7l1-2.4l1 0.5l1 1.4l1-1.1l1 1.3l1-0.4l1-2.3l1 0.6l1 2.1l1-2.1l1 0.4l1 1.1l1-2.5l1 1.6l1-1.3l1 0.7l1-0.4l1 2.6l1 0.6l1-1.2l1-2.3l1 2.7l1-0.5l1-2l1 1.8l1-0.6l1-0.5l1 1l1 1l1 0.3l1-2.5l1 2.9l1 0l1-2.6l1 1.1l1-2.1l1 1.5l1 1l1-1.2l1-0.4l1 1l1-1.6l1 2l1 1.3l1 0.4l1 0l1 0.2l1 1.4l1-1.1l1 0.7l1-2.3l1 2.4l1-4.8l1 1.6l1-0.8l1 1.7l1-2.5l1-0.3l1 1.5l1 1.5l1-1.4l1 0.1l1 0.2l1 0.3l1-1.2l1 0.5l1-0.1l1-1.7l1-0.4l1 3.8l1-4.1l1 5.3l1-3.4l1 2.4l1-0.5l1 0.9l1-1.5l1 0.8l1-1.9l1 2.7l1-2.1l1 0.7l1-0.7l1 1.1l1-0.5l1-0.6l1 2.7l1-1.9l1-1.5l1 0.9l1 0.3l1-0.6l1 0.4l1 1.2l1-2.2l1-1.6l1 1.8l1 0.9l1-1.1l1 1l1-1.4l1 0.4l1 1.3l1 1.2l1-3.4l1 1.5l1 1.2l1-0.5l1-2.2l1 1.2l1 1.6l1 0l1 1.6l1-1.3l1-4.1l1 1.9l1-1.6l1 0.7l1-0.1l1-0.7l1 0.7l1 2.2l1-0.4l1-3.4l1 3.5l1-0.5l1-0.3l1 0.3l1-0.9l1 1.1l1-2.2l1 0.7l1-0.1l1 1.1l1-3.1l1 3.3l1-2.5l1 1.9l1-0.5l1 0.7l1 1.9l1-0.3l1-3.7l1 1.2l1-1.4l1 4.1l1-0.1l1-0.9l1 1.6l1 0l1-1.1l1 1.7l1-1.2l1-1.8l1 0.8l1-0.4l1-2.2l1 2.3l1 0.6l1-1.3l1-0.5l1 1.9l1-1.2l1-1.2l1-0.4l1 2.7l1 0l1 1.7l1-0.4l1-1.1l1-1.4l1-0.8l1 0.4l1 1.6l1 0.9l1-1.2l1 2.2l1 0.3l1-3.9l1 2.9l1-1.1l1 3l1-3.5l1 0.2l1-1.3l1 2.5l1-2.8l1 3.3l1-3.2l1 2.3l1-2.6l1 0l1-0.5l1 0.5l1 0.8l1-1.9l1-0.2l1-0.5l1 0.3l1 0.3l1-0.2l1-0.7l1 2.1l1 0.1l1-0.4l1-0.3l1-0.9l1 1.1l1-1.2l1 1.2l1-0.8l1-1.9l1 2.8l1 0.8l1-1.3l1-0.5l1 1.6l1 0.2l1-0.8l1-3.6l1 1.8l1 1l1 0.2l1 3.7l1-3.7l1 1.4l1-0.1l1-0.6l1-0.5l1-4.1l1 1.6l1 3.5l1-1.3l1 3l1-4.1l1 2.2l1 1.2l1-1.8l1 2.3l1-2.9l1 4.3l1-1.9l1 0.6l1-2.3l1 0.6l1-1.3l1 2.4l1 0.4l1-2.1l1 0.8l1 0.1l1-0.1l1-3.6l1 1.5l1 4.2l1-4.1l1 1.5l1-3.2l1 1.1l1 1.9l1 2.5l1-3.4l1 0.6l1 0.3l1 0.3l1 1.4l1-3.6l1 2.1l1-1.2l1 3.6l1-1.8l1-1.2l1 0.6l1 2.8l1-2.3l1 2.3l1-1.5l1-0.8l1-1.2l1 2l1 2.4l1-2.1l1-1.2l1-0.1l1-0.3l1 1.7l1-2l1 5.8l1-3.5l1 1l1 0.7l1-0.7l1-2.3l1 0.8l1 2.3l1 0.8l1-0.9l1 0.4l1-3.5l1-0.2l1 0.4l1 1.6l1-0.6l1 1.6l1-2.8l1 1.6l1 0.6l1 0.8l1-3.3l1 2.2l1 0.1l1 0.9l1 0.6l1-1.4l1-1.3l1 1.7l1-0.9l1 1.3l1 0.5l1-1.7l1-0.7l1 1.5l1-0.4l1 0.6l1-0.7l1 1.6l1-2.4l1-0.9l1 0.3l1-2.3l1 2.2l1 2.3l1-3.2l1 1.2l1-1.6l1 1.2l1 0.7l1-0.2l1-0.1l1-0.5l1 3.8l1-3.2l1 1l1 1.3l1 0.3" fill="none" stroke="#8EA7D1" stroke-width="6.4" stroke-linejoin="round" stroke-linecap="butt" />
<path d="M142.5 539.5l1 0.7l1 6.3l1-8.6l1 19.3l1-9.3l1 7.7l1 9l1 5l1-3.5l1 0.1l1-8l1 5.9l1 3.7l1 17.7l1 9.9l1-28.4l1-2.2l1 13.5l1 24.6l1-9.8l1 1.4l1 3.5l1-13.4l1 6l1 0.7l1-4.2l1-2.5l1 1.9l1 19.7l1-2.1l1 5.9l1-0.3l1-8.5l1 23.3l1-5.6l1 4.1l1-11.9l1-1.3l1 6.1l1 15.1l1-16.9l1-4.8l1 7.4l1-15.6l1 13.7l1-4.2l1 6.2l1-8.3l1 1.7l1 1.5l1 6.2l1 18.4l1-11l1 8.6l1-10.7l1 6l1-16.5l1 9.4l1 11.5l1 0.2l1-26.2l1 0.1l1-7.2l1 15.9l1 0.1l1-10.5l1 19.2l1 6.2l1-1.9l1 10.7l1 1.4l1-2.9l1 3.7l1-5.4l1-3.9l1 4.2l1-0.4l1 13.8l1-21.1l1 17.7l1 6l1-8.4l1 13.8l1-11.3l1-0.2l1 7.8l1-0.9l1-1.5l1 4.1l1 0.8l1-1.4l1 3.9l1 1.8l1-0.3l1-1.2l1 2l1 0.9l1-2.2l1 1.5l1 0.7l1 2.3l1-1l1-1.9l1-1.8l1 2.5l1-0.8l1-0.4l1 2.4l1-0.6l1-2.7l1 1.9l1-1l1 0.6l1-1.6l1 0.7l1 0.1l1 0l1-0.6l1 0.9l1 1.4l1-0.2l1-1.8l1 1.2l1-1.5l1 2.1l1 0.1l1-0.2l1 0.6l1 0.4l1 0.4l1-0.6l1-0.5l1 1.2l1 0.5l1-0.1l1-1.1l1 1l1-0.2l1-0.6l1 0l1-0.1l1 2.8l1-0.3l1-2.1l1 2.2l1-1.6l1 0.3l1-0.3l1 0.7l1-1.7l1 3.5l1-0.7l1-2.2l1 1.3l1 0l1-0.8l1-1.1l1 1l1 0.2l1 0.3l1 2.1l1-1.6l1 2.2l1-3.2l1-0.2l1 1l1 0.9l1-1.5l1 0.7l1 1.7l1-0.8l1 0.6l1-1.2l1 0.5l1 0.3l1 0.1l1 2l1-0.3l1 0.5l1-2.6l1 0.8l1-3.1l1 2.1l1-1.2l1 0.5l1 0.8l1-0.3l1-1.6l1 3.1l1-0.3l1 0.5l1 0l1-0.5l1-1.2l1 0.7l1-2.1l1 0.8l1 0.7l1-0.3l1-0.7l1 1.8l1-0.6l1 1.8l1-0.7l1-3l1 1.3l1 2.1l1-0.1l1-0.4l1 0.1l1-1.9l1 1.7l1-1.7l1 0.4l1 2.2l1-0.7l1-0.6l1-1.1l1 0.2l1 2.5l1-1.8l1-0.2l1-0.8l1 2.9l1-0.4l1-1l1 1.1l1 1.1l1-1.2l1-1.7l1 0.7l1 0.6l1-1.3l1 1.4l1-1l1 0.1l1 0.1l1 0.3l1 0l1-0.5l1 1.4l1-2.6l1 2.8l1-0.8l1-0.7l1 0l1 0l1 0.9l1 0.1l1-0.3l1 0.9l1-1.6l1-0.4l1-1.4l1 0.6l1 0l1 1.3l1 0.4l1-0.6l1 0l1 0l1 1.6l1-1.3l1 0.7l1-1l1 0.2l1-1.2l1 0.8l1-0.1l1 0.9l1-0.8l1 1.6l1-2.8l1 2.7l1-0.8l1 0.1l1-1l1 0.7l1-1.1l1 2.3l1-0.5l1 0.4l1 0.3l1-1.3l1-1.5l1 3.2l1-2.7l1 2.2l1 1l1-0.9l1 0.2l1-2l1 1.8l1-0.9l1-1.9l1 1.4l1-0.5l1 1l1-1.2l1 1.3l1-1.3l1 1.7l1-0.3l1 3.1l1-3.9l1 2l1 0l1-1.8l1 1.1l1-0.8l1-0.3l1 1.9l1 1.6l1-4.1l1 0.5l1-1l1 0.6l1 2.7l1-2l1 0.5l1-1.1l1 2.3l1-2l1 0.8l1-1.1l1 1.9l1-1.4l1 0.7l1 0l1 0.7l1 0l1-1.4l1 0.7l1-0.5l1 0.9l1-1.4l1 0.7l1-1.1l1-1.2l1 2.4l1-0.9l1-0.7l1 1.3l1 1.2l1-0.4l1 1.3l1-0.5l1-1l1 2.2l1-1.1l1-1.6l1 1.5l1-2.4l1 1.3l1 0.5l1 0.4l1 0.2l1-2.4l1-0.8l1 1l1-0.2l1-0.8l1 0.9l1 0.4l1-1.4l1 2.7l1-0.2l1-2.1l1 3l1-1.1l1-0.5l1-0.4l1-0.7l1 0.2l1 1.7l1 0.1l1-1l1 1l1-2.7l1 1.9l1 0.7l1-1l1 0.8l1-0.8l1-1l1 1.3l1 0.4l1 0.3l1 0.5l1-1l1 1l1-1.1l1 0.3l1-0.5l1-1l1 1.9l1 1.1l1 0.6l1-0.8l1-0.5l1-0.6l1-0.1l1-1.7l1 1.4l1 2.3l1-1.9l1-0.5l1 1.6l1-3.1l1 0.8l1 1l1-0.8l1-1.2l1-0.3l1 1l1-0.1l1-0.9l1 2.8l1-2.1l1-0.1l1 1.6l1-0.4l1-1.3l1 1.6l1-0.6l1 0.1l1 0.9l1-0.1l1 0.8l1-0.8l1-2l1 2.5l1-0.9l1 0.9l1-0.3l1-0.2l1 0.4l1 0.5l1-0.3l1-1.2l1-1.1l1 0.3l1 0.1l1 1.3l1-2l1 0l1 1l1 0l1 0.6l1-0.6l1 0.4l1-0.3l1 1.5l1-0.2l1-1.2l1 1.3l1-2.1l1 1.4l1-1.6l1 0.8l1 0.6l1 0l1 0.8l1 1.1l1-0.9l1-0.7l1 0.6l1-0.8l1-1.3l1-0.8l1 1.7l1-0.6l1-0.7l1 1.1l1 0.2l1-0.6l1 0.8l1-1.6l1 0.4l1 1.1l1 0.6l1-0.7l1 0.1l1 0.4l1 2.1l1-2.4l1 0.6l1-0.2l1 0.2l1-1.5l1-0.1l1 0.4l1 1.1l1 0.8l1-0.5l1-1.8l1 1.1l1-1.1l1 0l1 1.3l1 0.7l1-0.8l1 0.8l1-0.7l1 0.5l1 0.5l1-1.3l1 0.3l1-0.2l1 0l1-1.3l1 0.5l1-0.2l1-0.5l1 0.4l1 1.4l1 0l1-1.4l1 1.5l1-0.9l1 0.1l1-0.6l1-0.2l1 1l1-0.9l1 0l1 0.3l1 0.9l1-0.5l1-0.3l1 2.4l1 0.1l1-1.7l1-1.2l1 0.4l1 1.3l1-1.6l1-0.4l1 1l1 0.3l1 0.1l1-1.4l1 0.9l1 0.4l1 0.7l1-0.8l1-0.9l1 2.6l1 0.6l1-1.8l1 0.1l1 0l1 0l1 0.8l1-1.1l1 0.5l1-0.9l1-0.9l1 0.3l1 1.5l1-0.9l1 1.2l1 0.4l1-0.8l1-1.3l1 1.8l1-0.8l1 0.8l1-0.2l1-0.4l1-0.6l1 0.5l1 0.7l1-0.6l1 1.9l1-3l1 0.8l1 0.7l1 0.2l1-1.2l1 0.6l1 0.1l1-0.3l1-1.7l1 0.4l1 1.6l1 1.8l1-0.6l1-0.9l1 0.1l1 1.8l1-1.6l1 0.3l1-0.3l1-1.3l1 0.5l1-1.6l1 1.2l1 0.5l1 1.1l1-1.9l1 0l1 0.1l1 0.7l1-0.6l1 0.8l1-0.8l1 0.5l1 0l1 0.4l1-0.9l1 2l1-1l1-2.3l1 2.3l1 1.7l1-3.7l1 2.9l1 0.2l1-1.4l1-0.1l1 0.6l1-1.2l1 0.1l1-0.5l1-0.6l1 0.7l1-0.4l1 1.1l1-1.5l1 1.2l1 0.8l1-0.7l1 2.1l1-1l1 0.6l1-1.4l1-0.5l1 0.2l1-0.3l1-0.1l1 0.8l1 1.4l1-1.6l1 1.6l1-1.4l1 1.3l1-0.9l1 0.6l1-2.1l1-0.4l1 0.3l1 0.6l1-1.1l1 1l1-0.5l1 0.3l1 0.8l1-0.1l1 0.3l1-0.8l1-1l1 1.7l1-0.1l1-0.4l1 0.3l1-1.8l1 1.5l1 0.2l1-0.7l1 0.8l1 1.2l1-0.5l1-0.6l1-0.7l1-0.2l1 1.1l1-0.7l1 0.6l1-0.3l1-0.5l1-0.1l1 0.4l1 0.8l1 0.6l1-0.4l1-1.2l1 0.7l1 1l1-2.1l1 0.6l1 2.5l1-1.3l1-0.5l1 0.6l1-1.7l1 0l1-0.8l1 1.4l1 0l1-0.1l1 0.7l1-0.1l1-2l1 2l1-1.5l1 0.2l1 0.1l1 1.8l1-2.1l1-0.3l1 1.3l1-1.8l1 1.4l1 0.9l1 0.1l1-0.3l1-1.4l1 0.5l1 2.6l1-1.8l1 1l1-0.6l1 0.2l1-0.1l1 1.1l1-1.2l1 0.4l1-0.5l1 0.5l1 1.2l1 1l1-2.9l1 0.2l1-1.4l1 1.1l1 0.8l1-2l1 0.7l1 0.8l1-0.4l1 0.8l1-0.6l1-1.7l1 2.9l1-0.1l1 0l1-1.9l1 0.8l1-0.2l1-1.2l1 2.1l1 0l1 0.7l1-2.7l1 1.5l1 0.1l1 0.8l1-1.4l1 1l1 0.4l1-2.3l1 0.1l1 1.3l1-1l1 0l1-0.8l1 1.8l1-1l1 1.8l1-0.2l1 0.4l1 0l1-3l1 1.9l1-0.9l1 0.3l1-1.7l1 2.2l1 0.4l1-1.3l1 0.6l1-0.1l1 1.2l1 0.3l1 1.1l1-1.1l1-0.3l1-0.2l1-1l1 0l1 2.1l1 0.6l1-2.2l1 0.1l1 0.6l1-1.4l1-0.3l1-0.2l1 1.1l1-0.4l1 0l1 0.4l1-1.1l1 0.1l1 0.6l1 0.8l1 0.7l1-1.4l1 0l1 0.5l1 1.1l1-0.6l1-0.3l1-0.7l1-1.3l1-1l1 1.4l1-0.9l1 2.4l1 0l1-1.2l1 0.3l1 1.9l1-0.1l1-1.6l1 0.1l1 0.7l1 1l1-1.5l1 2.8l1-3l1 0.9l1-0.4l1 1.1l1-1.9l1 0.1l1 2.5l1-1l1-0.8l1 1l1-0.8l1-1.9l1 1.6l1-0.5l1 0.8l1 0.2l1-0.3l1-0.5l1-1.1l1 2.1l1-0.4l1-0.5l1-1.4l1-0.3l1 2l1-0.8l1 0.9l1 1l1-0.2l1 0.7l1-0.6l1-0.7l1 0.5l1 0.1l1-0.4l1-2l1 3.1l1-1.1l1-0.7l1 0l1-0.4l1 0l1-0.1l1 0.9l1-0.4l1 0.4l1 0.2l1-1.1l1 2.1l1 0.8l1 0.2l1-2.5l1-1.2l1 1l1 0.6l1 0.1l1-0.2l1 0.1l1-1.4l1 1.7l1 2.3l1-1.9l1 1l1 0.1l1-3l1 0.9l1 0.8l1-0.4l1-0.8l1 1.2l1 0.8l1-1.1l1-1.1l1 1.8l1-1.2l1 1.4l1-1l1 0.9" fill="none" stroke="#DF8436" stroke-width="6.4" stroke-linejoin="round" stroke-linecap="butt" />
<path d="M142.5 539.9l1 7.5l1 9.1l1 20.7l1-16.4l1 12l1 14.4l1-6.6l1 6l1-3.5l1 8.9l1-8.5l1 2.2l1 6.2l1-4.2l1-6l1 17.7l1-9.4l1 4.3l1-9.1l1 6.4l1-0.6l1-12.1l1 16.2l1-13l1 1.8l1 7.7l1-3.7l1 6.5l1 4.9l1-7.9l1-2.4l1-24.8l1 9.7l1 2.7l1-7.9l1 3.1l1-1.8l1-1.3l1-5.3l1 6.7l1 4.4l1 12.8l1-4.7l1 13l1-4.7l1-5.1l1 15l1-5.1l1 7.3l1-8.6l1-1.3l1 6.9l1-4.8l1-14l1 20.2l1-13.9l1 6.1l1-0.9l1-15.2l1 7.5l1-9.3l1 17.7l1 13.1l1 14.1l1-14.3l1-4.1l1 2.2l1 0.2l1 15.2l1-8l1 5.4l1-14.7l1-1.7l1 6.5l1-2.6l1 1.5l1-2.2l1-8.7l1 2.3l1-11.7l1 5.1l1 3.3l1 2.8l1 18.1l1 0.7l1 2.1l1-8.3l1-6.5l1 15l1 1.3l1-11.7l1 0.2l1 10.6l1-7.7l1-5.5l1 12.9l1-2.2l1-13.8l1 4.8l1 9.2l1 7.5l1-9.4l1 9.5l1-6.3l1-1.2l1 2.2l1-1.7l1-4.2l1 6.4l1 2.1l1-11.6l1 5.3l1 2.2l1-3.3l1-5.8l1 9.5l1 15.5l1 7.5l1-3.7l1-8.6l1-6.1l1 7.7l1 4.1l1-5l1 1.7l1 10.2l1-9.5l1-14.8l1 20l1 5.3l1-11.4l1 9.8l1 9.9l1-11.8l1-1.6l1-9l1 7.7l1 6.3l1-18.9l1-4l1 19.2l1 2.7l1-6.9l1-8.2l1 12.8l1-8.5l1-4l1 4.6l1-9l1 4.1l1-0.7l1-0.8l1 3.8l1-2.2l1-1.7l1 1.5l1-1.1l1 10.8l1-4.3l1-2.4l1 3.2l1-5.7l1 11.2l1-7.3l1-0.1l1 14.8l1-12.8l1-0.6l1 6.9l1-16.9l1 15.3l1-17.9l1 9.8l1 9.3l1-2.3l1-12.6l1 2.3l1-1l1-0.6l1 7.2l1 2.9l1-0.4l1 2.9l1-2.7l1 0.7l1 14.7l1-5.2l1-6.1l1 3.1l1 0.6l1-6.4l1-1.2l1-0.8l1 6l1-10.5l1 12.7l1-3.8l1-1.7l1 5l1 1.6l1-1.2l1-7.2l1 1.4l1-5.2l1 19.9l1-14.9l1 19.1l1-13.2l1 5.1l1-3.1l1-1l1-3.5l1 14.2l1 1.5l1 3.9l1 1.4l1-13.4l1-2.5l1 3l1 17.7l1-11.2l1-1.6l1-0.3l1 4.5l1-8.1l1 0.9l1 6.1l1-9.1l1 2.2l1 9.3l1-7l1-5.7l1 2.4l1-7.1l1 23l1-8.9l1-7.8l1 12.1l1-7.2l1 4.6l1 0.3l1-0.5l1 3.5l1 6.1l1-18l1 13l1-5.7l1 0l1 0.4l1-4.4l1 5.6l1 4.6l1-1l1-3.7l1 5.3l1 10l1-12.4l1 4l1 1.7l1-3.3l1-2.6l1 4.9l1 0l1-1.2l1 0l1 2.2l1-5.9l1 0l1 1.1l1-0.2l1 3.3l1-0.7l1 1.3l1 0.8l1-0.8l1 2.6l1-2l1-1l1 1.3l1 0.8l1-0.6l1-0.6l1 1.6l1-0.2l1 0l1-0.3l1 2.6l1-3.6l1 1.1l1 0.2l1 1.7l1-1.1l1 1.5l1-2.3l1-0.6l1 0.8l1 2.2l1-3.1l1 3.1l1-1l1-0.6l1 0.6l1-1.5l1 1.1l1 0.6l1-0.6l1-0.8l1 2.4l1-2.3l1 3.7l1-1.5l1 1.3l1-2.1l1 2.9l1-1.8l1 0.1l1-1l1-0.2l1 2.4l1-1.8l1 0.9l1-1.4l1 0.3l1-0.4l1 1.2l1 2l1 1.3l1-2.5l1 0.9l1 1l1-2.9l1 0.1l1 1.8l1-1.9l1 1l1 0.4l1-0.3l1 0.5l1 1.3l1-0.6l1-1.1l1 0.3l1 0.6l1 0.6l1 0.2l1-1.6l1 1.3l1 0l1 0.3l1 0.8l1-0.3l1-0.9l1 0.4l1-2.1l1 2.1l1 0.6l1-0.2l1-0.4l1-1.2l1 1.9l1-1.2l1 2.9l1-0.3l1 0.7l1-1.4l1-0.1l1-0.7l1 1.1l1 0.4l1-1l1 0.4l1-0.6l1 0.8l1-1.7l1-1.2l1 3.4l1 0.4l1-1l1-0.9l1 0.1l1 0.2l1-1.3l1 1.6l1-1.1l1 0.6l1 2l1 0.7l1-2.5l1 2.5l1 0l1 1.6l1-0.5l1-1.5l1 0.1l1 1.3l1-0.3l1 0.7l1-1.3l1 0.7l1-1.9l1-0.6l1 0.7l1-0.3l1 2l1 1.2l1-1.1l1-0.7l1-0.1l1 1.3l1-2.1l1 0.3l1 0.1l1 1.3l1 0.8l1 0.2l1-0.6l1 1.7l1 0.2l1-1.8l1-0.4l1-1l1 1.1l1 0.3l1 1.5l1-2.3l1 2.5l1-1.8l1 1l1 2.3l1-1.6l1-0.7l1-0.6l1-0.3l1 4.5l1-3.2l1 1.8l1-2.3l1 0.1l1-0.6l1 1.9l1-1.1l1 0.5l1-0.9l1 1.9l1-0.9l1-0.4l1-0.3l1 0.2l1 0l1 0.6l1 1.1l1-2.2l1 0.4l1 1.3l1-1.1l1-1l1 0.5l1 0.7l1-1.3l1 0.1l1 1.9l1-3.1l1 1.2l1-0.6l1 0.8l1 1.1l1-1.9l1 0.6l1 1.4l1-0.7l1-0.2l1-0.6l1 0l1 1l1 0.1l1-0.1l1 0.1l1-0.8l1 2.2l1-1.6l1-0.6l1 1.2l1 1l1-0.4l1-2.8l1 0.5l1 0.4l1 0.8l1-0.1l1-1.9l1 1.7l1-2.2l1 0.8l1 2.2l1-0.1l1-1.1l1-1.9l1 1.9l1 0.4l1-0.8l1 0.8l1-0.9l1 1.2l1-0.4l1 2l1-0.7l1 0.1l1-0.3l1-1.3l1 1.1l1 0.4l1-1.5l1 1.3l1 0.5l1-1.6l1 0.9l1 0.4l1 0.2l1 0.2l1 0.1l1-0.1l1-2.2l1 0.7l1 2.5l1-0.6l1-0.1l1-3.6l1 1.1l1-0.8l1 3.2l1-1.1l1-0.2l1-1.9l1 0.9l1 0.3l1 1.7l1-2l1 1.5l1-0.3l1-2.2l1 2.9l1-1.8l1 0.9l1 1l1-0.3l1-1.1l1-0.6l1-0.5l1 3.5l1-2.3l1 1.3l1 0.9l1-4.3l1 2l1-0.9l1 0.7l1 0.7l1 0.1l1 0.8l1-0.2l1 0.3l1 1.6l1-1.7l1 0.5l1-0.1l1-1.3l1 0.6l1-0.6l1-0.2l1-0.2l1 2l1-2.1l1 1.1l1 0.1l1-2.1l1 1.6l1-1.1l1 0.4l1 0.9l1 0.5l1 0.3l1-1.9l1 0.1l1 2.4l1-0.8l1-0.8l1-0.7l1 1.1l1 2l1-2.7l1 3.4l1-1.8l1-0.6l1-0.3l1-0.9l1-0.3l1 0.2l1-2.1l1 1.2l1 1.2l1-1.3l1 3.2l1-2.3l1-0.8l1 1.2l1-1.3l1 1.1l1-0.2l1 2l1-3.9l1 0.1l1 2.4l1 1.7l1-0.7l1-2.4l1 2l1-0.9l1 0.1l1 0.5l1 0.6l1-0.9l1-0.8l1 1l1-1.5l1 0.2l1-0.2l1-0.6l1 0.8l1-0.8l1 1.9l1 0.5l1-0.6l1-0.1l1-0.6l1-0.6l1-1.5l1 2.6l1-0.3l1-0.3l1-0.5l1-1l1 0.6l1 1.1l1-0.1l1-1.1l1 0.8l1-0.2l1 0.5l1-1.8l1 2l1-0.8l1-0.6l1 1.6l1 0l1-0.5l1 0.2l1 1.7l1 0.6l1-1l1-0.8l1 1.9l1-3.4l1 1.1l1 0.2l1-1l1 1.8l1-0.5l1 0.1l1-0.8l1 1.1l1-0.3l1-0.6l1-0.5l1 0.5l1-0.4l1 0.5l1-0.9l1-1.8l1 0.3l1 2.1l1 0.7l1-1.6l1 2.4l1-1.2l1 1.3l1-1.3l1 1.7l1-1.3l1-1.8l1-0.5l1 2l1-2.2l1 1.5l1-0.2l1 2.2l1 0.2l1-0.9l1-1.3l1 1.6l1-0.7l1-1.1l1 1.8l1-1.5l1-1l1 1.5l1-1l1 2.8l1 0.2l1-1l1 0.6l1-2.7l1 1.6l1 1l1-3.3l1 0.1l1 1.3l1 0.3l1-0.8l1 1l1-0.3l1-0.1l1-0.4l1 1.6l1-2.7l1 0.3l1 2.9l1-0.7l1 0.2l1-1.4l1 1.8l1-0.8l1-0.4l1-1.2l1 0.3l1 0.1l1-0.9l1 2.1l1-1.3l1 0.8l1 0.6l1-1.9l1 0.1l1-0.8l1 1.9l1-1.3l1 0.3l1-1.6l1-0.3l1 1.4l1 0.3l1 1l1-0.3l1-2.1l1 4l1-1.2l1-0.2l1 0.4l1 0.3l1 0.3l1-0.1l1-2.2l1 0.9l1 0.4l1 1.6l1-1.3l1 0.7l1-0.7l1 0.6l1-0.3l1 0.4l1 0.7l1-0.2l1-0.6l1 0.6l1-0.7l1-1.5l1-0.2l1 1.7l1-0.5l1-1.2l1 0.5l1 0.4l1 0.7l1-1.1l1 0.9l1-1.3l1 0l1-0.1l1 0.1l1 2.9l1 0.7l1-2.5l1-0.5l1 0.9l1 1.5l1-0.9l1 0.8l1-1.7l1 0.5l1-1.2l1 1.1l1-0.4l1 0.1l1-0.9l1 3.3l1-0.7l1-1.2l1-1l1-2l1 0.2l1 0.7l1-0.4l1 1.7l1-1.4l1 0.2l1-0.6l1-0.1l1 2.7l1-0.2l1-2l1 0.7l1 1.6l1-2.2l1 0.9l1-0.4l1-1.4l1 3.1l1-1.1l1-1.4l1 2.6l1-1.2l1-1.2l1 0.9l1 1l1-2.1l1-0.1l1 0.4l1-1.8l1 2.6l1 0.2l1 1.3l1-1.9l1-0.1l1 1.2l1-0.7l1 1.3l1-0.3l1-1.5l1 1.6l1-1l1-1.2l1-0.2l1 1.7l1 1.7l1-3.1l1-2l1 0.8l1 2.7l1-1.7l1-1.6l1 2l1 2.5l1-1.5l1-0.7l1 2.3l1-1l1-0.9l1-0.8l1 1.4l1-0.6l1 1l1-1.4l1 0.1l1-1.8l1-0.1l1 0.3l1 0.2l1 0.4l1 0.6l1-0.5l1 1.2l1 0.9l1 0l1 0l1 0.8l1-1.1l1-1.2l1 1.9l1 1l1-1.4l1-0.3l1 1.3l1-0.5l1 0.4l1-0.6l1-1.5l1-0.2l1-0.3l1 1.6l1-0.3l1-1.3l1 2.4l1-0.9l1 0.5l1-0.7l1 0.1l1 2l1-1.9l1-0.6" fill="none" stroke="#3B99B6" stroke-width="6.4" stroke-linejoin="round" stroke-linecap="butt" />
<path d="M142.5 540.2l1 2.1l1 1.2l1 8.6l1-3.3l1 0l1 14.9l1-4.4l1 5.8l1 13l1 2.3l1 1.4l1 7.4l1-5.9l1 15.3l1-4.4l1 4.9l1-14.7l1 29.7l1-18.3l1 15.6l1-9.1l1 2.6l1 13.6l1-4.3l1-11.5l1 13.7l1-10.3l1-5l1 12l1-2.7l1-6.8l1 0.7l1 16.2l1-11.7l1 16.9l1-3.4l1-3.5l1 1.8l1-4l1-3.7l1-5.2l1 21.7l1-0.5l1 0.9l1-18.3l1 14.1l1-20.5l1 30l1-21.1l1 4.6l1-0.4l1 7.1l1 4.9l1-2.5l1 15.5l1-12.2l1 1l1-11.5l1-8.4l1 5.9l1 13.3l1-15l1-0.4l1-6.6l1 9.8l1 1.7l1 3.3l1-2.2l1 1l1-10.9l1 5.8l1 12.2l1-5.5l1 2.4l1-5.9l1-7.3l1 8l1 0.3l1-1.1l1 2.2l1-5.4l1-13.1l1 15.6l1 17.1l1-8.4l1-19.9l1 13.8l1 1.6l1 3.6l1-11l1 2.6l1-1.2l1 10.5l1 0.3l1 0.2l1 5.1l1-9.6l1-2.2l1-3.9l1 10.3l1 0.3l1-0.8l1-2.4l1 9.5l1 1l1-5.1l1 13.5l1-12.5l1-3.2l1 5.9l1 1.8l1 0.6l1-11.2l1 4.4l1 2.8l1 1.2l1-8.7l1 10.9l1-13.7l1 9l1 13l1-6.4l1-9.2l1 1.3l1 14.1l1-1.3l1 3l1-6.2l1-5l1 5.3l1 4.5l1-13.8l1 4l1 3.2l1-1.8l1 1.5l1-5.9l1 5.6l1 2.7l1 2.4l1-5.5l1 2.1l1-8.2l1 11.2l1-5.5l1-3.9l1 10.5l1 6.7l1-4.9l1 0l1 2.7l1-8.1l1 6.3l1 6.3l1 0.4l1-2.6l1-1l1-5.3l1 11.9l1-11.5l1 2.6l1-0.6l1-2.5l1-1.8l1 5.4l1-6.2l1 4.6l1 4.9l1-2l1-6.9l1 2.4l1-2.4l1 4l1-5.7l1 16.3l1-16.4l1 3.8l1 4.1l1 0.2l1-3.4l1-8.6l1 8.4l1-10l1 11.6l1-13.3l1 19.5l1-2.1l1-9l1 1.2l1-1.6l1 7.5l1 6.1l1-8.1l1 10.9l1-11.5l1 7.5l1 2.9l1-3.3l1-6.2l1 6.3l1 0.2l1 0.6l1 6.8l1-7.1l1-1.7l1 4.2l1 1.1l1 4.5l1-14.7l1 8.7l1-3.1l1 6.4l1-4.5l1-3.6l1 6.8l1-6.7l1 4.5l1-0.1l1 5l1 2l1-7.6l1 4.1l1 0.3l1-2.7l1-0.7l1 0.3l1 3.6l1-2.7l1 0.4l1 3.6l1-7.1l1-0.1l1 7l1-8.3l1 2.3l1-2.4l1 2.6l1 7.2l1-5.5l1 6.2l1-4.1l1-0.2l1-1.4l1 2l1-3.8l1 1.8l1-1.8l1-1.3l1 6.4l1-0.2l1-0.2l1 2.4l1-1.7l1 0.7l1 0.1l1-1.9l1 0.9l1 0.1l1-0.5l1-1.9l1 1l1-0.2l1-0.9l1 0.4l1 1.8l1-0.8l1 1.6l1-1.1l1 1.2l1 1.2l1-3.1l1 0.3l1-0.7l1-1.8l1 0.2l1 1.4l1-2l1 0.3l1 3.5l1-3.2l1 0l1 1.3l1-0.4l1-1.1l1 3l1 0.5l1-2.6l1 0.7l1-1.3l1 2.1l1-2.8l1-0.1l1-1l1 2.1l1 2.3l1 1.4l1-3.7l1 0.9l1-3l1 1.4l1 2.8l1-1.8l1 3.1l1-1.4l1-1.5l1 0.2l1-0.9l1-2.7l1 2.2l1 1.3l1 0l1-3.1l1 1.7l1-0.9l1 2.7l1-1.2l1 1l1 0.3l1 2.1l1-2.9l1 0.7l1 0.3l1-0.8l1 2.7l1-2l1-1l1 1.2l1-1.2l1 0.8l1 1.2l1 0.7l1-0.3l1 1.4l1-0.4l1-2.5l1 1.3l1-0.5l1 0l1 1.1l1-0.9l1-1l1-1.6l1-0.3l1 2l1-2.3l1 1.9l1-2.3l1 0.3l1 0.9l1-0.1l1-0.6l1 0.6l1 2.4l1-0.3l1-2.2l1 2.1l1 0.5l1 0.1l1-2.6l1 1.7l1 0l1 0.1l1-0.9l1 1.5l1-0.8l1-0.8l1 1.2l1 0.7l1-1.7l1 2.3l1-4.2l1 2.3l1 2.8l1-3.1l1 0.6l1 0.2l1 2l1-2.6l1 2.7l1-1.6l1 0.1l1-2.3l1 1.3l1-1.7l1-1.3l1 2.6l1-1.1l1 1.1l1-0.6l1 1.6l1-0.5l1 0.1l1 0.3l1-1.7l1 2.8l1 0l1-2.8l1 1.6l1 0.5l1-0.4l1 0.9l1 0.8l1-3.9l1 0.9l1 0.5l1 0.1l1 0.4l1 1.2l1 2.6l1-3.8l1 0.8l1 0.2l1-1.4l1 1.7l1-1.9l1 2.1l1-2.2l1 0.9l1 0.7l1-0.4l1-1.2l1 0.6l1-3.4l1 3.8l1-0.7l1 1.9l1-3.9l1-0.3l1 1.1l1 0.8l1 1.4l1-0.4l1 0l1-0.4l1 1.3l1-0.3l1-1.4l1-1.3l1 1.4l1 0.2l1-1.9l1-1.2l1 2l1 1.7l1-2.8l1 3.6l1-1.7l1-0.3l1 0.5l1 1l1-0.4l1-1.1l1-0.4l1 0.6l1 0.7l1 0.7l1-1.7l1 2.6l1-2l1 1.9l1-1.1l1-0.3l1-0.2l1 1.2l1-0.8l1 0.5l1-0.2l1-1.8l1-1.7l1 2.2l1 0l1 0.5l1-0.3l1 0.2l1 0.9l1 0l1-0.2l1-1.4l1-0.3l1 0l1-0.3l1 1.6l1 2.1l1-3.2l1 0.1l1 0.1l1-0.8l1-1.3l1 2.2l1 0.5l1 0.9l1-0.7l1 1.5l1-1.5l1 2.9l1-1.8l1-2.5l1 1.9l1 1l1-0.1l1-0.7l1 1.4l1-0.7l1 0.9l1-2l1 0.6l1-0.6l1 1.4l1 0l1-1.1l1-0.9l1 1l1 0l1-1.1l1 0.9l1-2.5l1 2.1l1 1.4l1-2.3l1-0.3l1-0.3l1 1.1l1 0.9l1-3l1 2.5l1-2l1 1l1 0.5l1 0.1l1 1l1-0.6l1-0.6l1-0.5l1 0l1-0.2l1 1.3l1-0.9l1 1.5l1-0.5l1-0.5l1 2.8l1-2.9l1 0.8l1 0.8l1 0.2l1-2.4l1-0.2l1 0.2l1 1.2l1 0l1-0.6l1-1.6l1-1.3l1 3.2l1 1.1l1-2.3l1-0.4l1 0l1 1.2l1-0.4l1-0.6l1 0.5l1-2.2l1-0.7l1 1.3l1 1.2l1 0.4l1-2.4l1 1l1-0.6l1-0.5l1 0.2l1-0.6l1 1.7l1 0.4l1-0.6l1 0.9l1-0.9l1 0.6l1 0.7l1-1.1l1 1l1-0.4l1 0.7l1-2l1 0.9l1 2l1-0.3l1 0.5l1-1l1-0.9l1-0.2l1 2.3l1-0.6l1-0.2l1 0.8l1-0.6l1-2.8l1 0.5l1-0.5l1 0.6l1-2l1 0.2l1 1.8l1 0.9l1 0.2l1 1.9l1 0.1l1-2.4l1 2l1 0.2l1-1l1-1l1-0.8l1 0.2l1 1.6l1 0.6l1-3.3l1-0.1l1 0.3l1 3.1l1 0.3l1-3.2l1 1.3l1 0.3l1-2.9l1 3.2l1 0.2l1-2.1l1 0.9l1-1.4l1 1.8l1-1.2l1-0.1l1 0.6l1 1.4l1-0.4l1-1.1l1 0.4l1-1.3l1 2.2l1 0.5l1-0.5l1-0.5l1-1.5l1 2.6l1-1.5l1-2.4l1 4.2l1-3.8l1 2l1 0.3l1-2.4l1 0.8l1 1l1 1l1-1.6l1 1.6l1-0.6l1 0.3l1 0.5l1 0l1-1.1l1 1.1l1-1.4l1 0.9l1-1.8l1 1.7l1 0.7l1-1.8l1-2.7l1 3l1-0.1l1 1.1l1 1l1-0.2l1-0.2l1 0.2l1 2.3l1-2.6l1 0.1l1-0.5l1-0.3l1 1.3l1-0.5l1-2.2l1 1.8l1 0.5l1-0.3l1-0.9l1 1.3l1-0.5l1-0.3l1-0.3l1 3.1l1-0.9l1-1.9l1-1.8l1 2l1 0l1-0.9l1 0.7l1-0.9l1-1.4l1 4.2l1-2.5l1 1.5l1 1.4l1-0.9l1-0.4l1 0.8l1-0.5l1 0.2l1 1.1l1-2.5l1 1.6l1-0.3l1 0.4l1-1.3l1 1.9l1-1.4l1 0.9l1-1.2l1-0.5l1-1.2l1 0.9l1 2.1l1-2.9l1 1.8l1-1.1l1-1.1l1 1.1l1 0.1l1 1.2l1 1.4l1-1.9l1-1l1 0.3l1 2.4l1-2.4l1-0.3l1 0.9l1 1.2l1 1.3l1-4.7l1 1.8l1-1.4l1-0.2l1 2.6l1-0.7l1 0.1l1 2.2l1-3.8l1 0.7l1 0.5l1-2.2l1 1.9l1-0.8l1 2.5l1-1l1-2.3l1 2.5l1 0.3l1-1.3l1 0.1l1 0.8l1-2.8l1 2.4l1-1.5l1-0.2l1 1.1l1-0.2l1-1l1-1.8l1 3.1l1-0.5l1 1.1l1-0.7l1 0.9l1-1.3l1 2.2l1-0.9l1 0.3l1 1.8l1-0.6l1-1.6l1-0.1l1-2.5l1 0.6l1 0.5l1 0.2l1 2.2l1-0.1l1-2l1 0.2l1 1.8l1 1.1l1-1.2l1 1.2l1-0.7l1-0.6l1-2.4l1 1l1 1.7l1-1.8l1-0.2l1 4l1-1.1l1 0.1l1-1l1 0.4l1-0.9l1 1.7l1 0.1l1-2.6l1 2l1 0l1-0.8l1 0.2l1-1.1l1-1.7l1 0.8l1-0.6l1-2.2l1 2.2l1 1.8l1-0.5l1 1.3l1-0.4l1 0.1l1-1.1l1 0.1l1 0.2l1 0.2l1-1.4l1 1.7l1-0.5l1 0l1-1.9l1 0.8l1 0.5l1 0.1l1 1.6l1-0.4l1-1.8l1 0.1l1 1.3l1-0.8l1-0.3l1 1.9l1-1.3l1-2.5l1 2.2l1-0.4l1-0.9l1 2.2l1-0.9l1 1l1-1.6l1 0.2l1 1l1 0.5l1 0.9l1-2.3l1-0.2l1 0l1 0.7l1 2l1-2.3l1-0.1l1 0.7l1-0.8l1 0.7l1-1.2l1 1.7l1-0.4l1 1.1l1-4.8l1 2l1 1.5l1-0.2l1-0.7l1 0.6l1 1.1l1-0.3l1 0.9l1-1.1l1-1.3l1-0.8l1 2.4l1-0.7l1-3l1 1.3l1 2l1-0.1l1-1l1-1.7l1 2.9l1-1l1 0.9l1-1.5l1 1.2l1 1.3l1-0.1l1-4.4l1 1.8l1 2.6l1-0.2l1-0.7" fill="none" stroke="#6E509A" stroke-width="6.4" stroke-linejoin="round" stroke-linecap="butt" />
<path d="M142.5 540.5l1 2.1l1 0.7l1 2l1 4.3l1 0.7l1 6.6l1 0.3l1-0.9l1 7.3l1-2l1 4.7l1 1.6l1-6.3l1 8.8l1 3l1 4.8l1-2l1 11.3l1-9.1l1-1.6l1 7.8l1-4.9l1 9.1l1 1l1-11l1 12.2l1-6.3l1 2.6l1-1.5l1 1.2l1-10.7l1 4.8l1-0.7l1 1.2l1 3.2l1-9.4l1-0.2l1 7.1l1-10.7l1 4.5l1-4.3l1 1.4l1-3.7l1 5.6l1-0.8l1-3.4l1 5.5l1-7l1 1l1 11.6l1-0.6l1-3.2l1-0.9l1-4.1l1-1.9l1 3.7l1-1.3l1-0.9l1 4.7l1-7.6l1 5.8l1 7.3l1 1.1l1 0.2l1-3.8l1 5.4l1 4.3l1-3.8l1 5.4l1 0.7l1-8.5l1-1.4l1 6.3l1 6.5l1-10.7l1 8.5l1 2.2l1-6.6l1 6l1 1.3l1-4.4l1 7.2l1 3.1l1-1.6l1-9.2l1 0.2l1 11l1-10.1l1 7.6l1-5.2l1 5.2l1 0.9l1-4.7l1-2.3l1 0.8l1-0.5l1 3.4l1 1.1l1-6.9l1 10.5l1 1.6l1-7.7l1 0.5l1 8.9l1-2.7l1 3l1 6.8l1-13.5l1 6.4l1 1.5l1 3.9l1 0.2l1-6.5l1-6.4l1 7.9l1 1.2l1-4l1-3.8l1-0.3l1 3.2l1 3.6l1-2.5l1 10.2l1-5.6l1 1.4l1 5.4l1-17.2l1 13l1 2l1-2.2l1 0.7l1 1.1l1-7.4l1 9.7l1 3.7l1-4.9l1-9.6l1 8.7l1-9.6l1 10.7l1-8.3l1 2.2l1-2.3l1 2.4l1 1.3l1-3.9l1 14l1 0.6l1-4.1l1-2.3l1 4.8l1-7.3l1-0.4l1-1.6l1-3.2l1 3l1 4.4l1-6.3l1 3.9l1 3.8l1-4.7l1 2.5l1-1.4l1 5l1 0.3l1 4.2l1-2.3l1 6.2l1-3l1 1l1-8.7l1-0.1l1-0.4l1-1.7l1 4l1-2.2l1 4.7l1-9.3l1-0.3l1-2.4l1 1.7l1 7.5l1 1.7l1 1.2l1 1.6l1 1.5l1-5.2l1 5l1 3.2l1 1l1-4.6l1 0.3l1-7.9l1 18.5l1-6.8l1 10l1-10.4l1 3.8l1 3.8l1-4.8l1 0.5l1-1.1l1-0.2l1 0.8l1 9.5l1-0.7l1-18.4l1 8.8l1-9.1l1 7.4l1 0.7l1-2.3l1 0.3l1 4.5l1 5l1 1.4l1 8.9l1-1l1 2.2l1 6l1-4.5l1 1.7l1-7.1l1 2.3l1-12.8l1 6.8l1 3.8l1-1l1-8.4l1-0.1l1 2.1l1-1l1 0.7l1 7.4l1-11.5l1-4.3l1 3.2l1-5l1 7.9l1 6.4l1-2.7l1-10.2l1 7.4l1 2.7l1 5.7l1-4.3l1-5.9l1-2l1-1.8l1-8.9l1 6.3l1 4.4l1-4.5l1 2.7l1-6.6l1 1.8l1 4.7l1-6.6l1 2.7l1-4.6l1 5.7l1 1.2l1 2.2l1-6.3l1 6l1 2.3l1-11.4l1 7.3l1 2.9l1-2.7l1-0.4l1 13.9l1-2.8l1 3.7l1-3.5l1 1.2l1 2.3l1-2.9l1-12.4l1 7.3l1-5.2l1-1.1l1 1.2l1 1.7l1-2.3l1 0.1l1 1.1l1 6.2l1-0.6l1 1.6l1 0.3l1-8.4l1 4.6l1-7.5l1-0.7l1 5.5l1-0.9l1 6.4l1-2l1 7l1 4l1-6l1-0.2l1-2.6l1 0.3l1-2l1 3.3l1-12.7l1 4.5l1-6.8l1-2.2l1 2.8l1-1.7l1-3.5l1 6l1-3.4l1 5.9l1 1l1 4.2l1-9.7l1 8.1l1-1.2l1 0.3l1-2.3l1 7.5l1-0.5l1 5.3l1-0.2l1 0.7l1 2.4l1-10l1-0.6l1 3.2l1-3.4l1 2.2l1-4l1 7.4l1 5.6l1 2.8l1-1.1l1-4.7l1 1.1l1 3.3l1-4.9l1 4.3l1-2.2l1 7.4l1 2.2l1 0.7l1-1.6l1 2.3l1-5.1l1 8.2l1 2.5l1-7.1l1-3.3l1 4.9l1-8.6l1-1.4l1 9.7l1 1.3l1 0.7l1-0.3l1-7l1 8.4l1-9.1l1 5.5l1 4.9l1 1.4l1-7.1l1 2.7l1 0.7l1-3.2l1 5.3l1-3.1l1-5.4l1 4.6l1 0.6l1-3.8l1 1.8l1 2.3l1 0l1 1l1 0.3l1 3l1-12.5l1 5.2l1-0.8l1 1.5l1-0.9l1-0.8l1-2.6l1 0.4l1 5.4l1-3.5l1-1.9l1-0.7l1 7.4l1-1.8l1-1.3l1-5.2l1 5.3l1-4.2l1 2.6l1-0.6l1-3.3l1-4.3l1 2.5l1-2.7l1 1l1 0.9l1 5.9l1 2.8l1-2.7l1 3.1l1 4.2l1-4.6l1 4.4l1 5.1l1 1.1l1-5.9l1-4.8l1 5l1-6.3l1 3.8l1-1l1 3.1l1 0l1-1.6l1-2l1-2.1l1 0.7l1-2.5l1 2.2l1 2.8l1-4l1-6.9l1 5.3l1-2l1 5.5l1 0.1l1 0.8l1 2.4l1-3.2l1 6.1l1-1.5l1-1.2l1-4.5l1 3.4l1-3.4l1 1.2l1 2.6l1-5l1-0.2l1-1.2l1-2l1 2l1 1.2l1-6l1 0.5l1 0.6l1 0.3l1-4.2l1 9.5l1-3.8l1 1l1-3.4l1-2l1 1.6l1 2.2l1-0.1l1-3.3l1-1.7l1 1.3l1-0.9l1 0.5l1 3l1-2.5l1-0.3l1 7.7l1 2.8l1-4.3l1 4.3l1-3.8l1 0.4l1 4.6l1-0.5l1 4.6l1 3.5l1-8.4l1 1.2l1-1.7l1 1.8l1 2.3l1-1.1l1-2.3l1 4.3l1-0.2l1 2.3l1 0.4l1 0.9l1-1.3l1 0.3l1 0.4l1-2.5l1-1.5l1 1.3l1 3.6l1-0.6l1-1l1 1.1l1 1l1-0.8l1 0.5l1 0.8l1-0.4l1-1.3l1 3.6l1-1.2l1 1.7l1-2l1-0.2l1 0.8l1 1.2l1 0.5l1-0.5l1-1.6l1 1.7l1-2.7l1 1.3l1-0.2l1 1.8l1-0.9l1 2.4l1-1.6l1-0.9l1 1.3l1-1.5l1 1.4l1-0.2l1 0.5l1 0.2l1-1.4l1 0.6l1-1.1l1 1l1 0.1l1-1.7l1 0.6l1 3.3l1 0.3l1-1.4l1-0.2l1-1.9l1 1.9l1 0.2l1 0l1 1.5l1-2.2l1 1.4l1-0.3l1-1.5l1-0.1l1-0.7l1 2.2l1-1.2l1 1.9l1-1.1l1-0.1l1-0.2l1 0.4l1-0.9l1-1l1 2.1l1 0.5l1-0.3l1 0.1l1 0.2l1-0.1l1-1.5l1 2l1-1.1l1 1.2l1-0.5l1-0.1l1 0.5l1-2.2l1 1.5l1-0.3l1 0.6l1-0.7l1 1.2l1-1.3l1-0.9l1 2.2l1-0.4l1-1.6l1 0.2l1 0.4l1 1.2l1-0.3l1 1.4l1-1.1l1-2.3l1 1.2l1 0.8l1 0.9l1-1.4l1 1.7l1-1.2l1-1.5l1 0.2l1 1l1 0.9l1 0.8l1-1l1-0.3l1-0.1l1 0.7l1-0.4l1 1l1 1.1l1-1.9l1 0.2l1 0.5l1-1.2l1 0.5l1 1.1l1-2.7l1 2.7l1-1.2l1 0.3l1-0.1l1-0.2l1 0l1-0.1l1-0.5l1-2.4l1 2.3l1 1.8l1-0.5l1-0.7l1-1.8l1 2.2l1-0.6l1-1.9l1 1.5l1 0.4l1-0.7l1 0.6l1 1.4l1 0.9l1 0.5l1-2.8l1 1.8l1-0.9l1-0.9l1 0.9l1 1.3l1-1l1-0.9l1 1.3l1-1l1-1.3l1 0.9l1 0.4l1 0.6l1 0.5l1-0.6l1 1.6l1-1.5l1 0.1l1 0.2l1 0.2l1-0.9l1-0.6l1 0.7l1 0.3l1 1.8l1-1l1 0.1l1-3.4l1-0.2l1 1.8l1-0.7l1 1.5l1-0.6l1 2.3l1-2.8l1 1.8l1-0.3l1-0.6l1-0.6l1 0.1l1 0.7l1 0.5l1 0.9l1 1.1l1-2.2l1 0.4l1 0.4l1-0.7l1-0.9l1 0l1-1.5l1 2l1 0l1 0.4l1 0l1-1.3l1 1.3l1 1.7l1-2l1-0.5l1-0.1l1-0.2l1 0.4l1 1.5l1-2.2l1 2.3l1-0.7l1-1.1l1 0.5l1 0.9l1-0.9l1 0.1l1 0.3l1 0l1 0.3l1 1.2l1-2.2l1 0.9l1-0.3l1 0.2l1 0.1l1-1l1 0.8l1-0.3l1 1.3l1-2.2l1 1.6l1-1.7l1 2.7l1-2l1 1.1l1-0.6l1 0.3l1-1.4l1 3.2l1-0.8l1-2.1l1 1.5l1-0.2l1 0.2l1 0.3l1 0.7l1-2.5l1 1.4l1 1l1 0.9l1-1.1l1 1.5l1-0.1l1-2.6l1 0.3l1 0l1 0.6l1 0.2l1-1.3l1 0.4l1 0.6l1 0.7l1-0.8l1 0l1 1.3l1-2.2l1 0.8l1 0.4l1 0.1l1-1.8l1-0.5l1 1.9l1-1.3l1 1.2l1 0l1 1.2l1-0.9l1-0.5l1-1.2l1 0l1 0.1l1 0l1 0.9l1-0.3l1-1.6l1 1.8l1 1.5l1-0.5l1 0.3l1-1.1l1-0.5l1-0.5l1 1.3l1-2.1l1 1.5l1-0.3l1-0.5l1 0.4l1 0.2l1-0.3l1 0.7l1-0.1l1-1.3l1 2.7l1-0.6l1 0.6l1 0.8l1-0.2l1-0.8l1-1.3l1 1.3l1 0.8l1-1.4l1 1.1l1-1.1l1 1.3l1-1.1l1 0.4l1 1.2l1-2.1l1 1.2l1-1.5l1-1.3l1 0.1l1 2.1l1-0.1l1 0.9l1-2l1-0.1l1 0.2l1 1.3l1-1.3l1-0.4l1-0.4l1 0.6l1 1.2l1 0.2l1-1.5l1 2.2l1-1.4l1 1.2l1-1.2l1 0.4l1 0.4l1-0.2l1-0.8l1 0.7l1-0.8l1 0.8l1-0.2l1-0.4l1-0.4l1 0.8l1 0.6l1-0.2l1-0.2l1 0l1 0.8l1-0.6l1 1l1 0.1l1-1l1-0.6l1 1.3l1-1.4l1 0.1l1 1.6l1 0.2l1-0.4l1-0.9l1 0.9l1 1l1-3l1 0.9l1 0l1-0.1l1 0.5l1 1.2l1-2l1 1.3l1-1.1l1 1.6l1-2.8l1 1l1 0.8l1 0.2l1 0l1-0.7l1 0.3l1-0.5l1 0.3l1-1.3l1 0.8l1 0.7l1-1l1 0l1-0.5l1 1.4l1-0.5" fill="none" stroke="#88A74B" stroke-width="6.4" stroke-linejoin="round" stroke-linecap="butt" />
<path d="M142.5 539.7l1 2.4l1 3.1l1 2.8l1 3.9l1 8.9l1-1.6l1 3.1l1 2.1l1-3.7l1 6.9l1-17.7l1 7l1 24.7l1-3.4l1 16.9l1-16l1 4l1 12.4l1 5.9l1-10.2l1-0.9l1 3.1l1 12.7l1-6.8l1-5.8l1 11.2l1-16.1l1 23.3l1-5.1l1-10.7l1 7.4l1 7.7l1 6.1l1-16.4l1-5.8l1 22.2l1-5.1l1-8.4l1 6.8l1-0.6l1-2.6l1 6.1l1-8.5l1 16l1-10.9l1 21.1l1-6.3l1-11.8l1-10.3l1-17.2l1 12l1 4.8l1-2.2l1-0.3l1 10.4l1 7.9l1 3.8l1-17.2l1 0.3l1 2.2l1 9.2l1 6.1l1-7.3l1-9.9l1 23.7l1-4.4l1-17.8l1 26.7l1-14.9l1 6.9l1 1.4l1-5.4l1-10.2l1 16.8l1 13.1l1-23l1 0.5l1 12.3l1-3.8l1-9.8l1 5.9l1 4.8l1-0.7l1-7.6l1-4.1l1 14.2l1 2.3l1-4.9l1 4.8l1 1.7l1-11l1 7.7l1 15.4l1-12l1-10.8l1 3.6l1-12.2l1 16.5l1-3.8l1 8.4l1-0.5l1 3.6l1 3.2l1 2.8l1-7.8l1 8.6l1 2.1l1-0.8l1 6.6l1-7.2l1 8.9l1-8.7l1 14.3l1-5.5l1 4.6l1-3l1-5.2l1 11.9l1-6.3l1 5.4l1-0.3l1 1.5l1-3.6l1 1.2l1 2.5l1 0l1 0.9l1-0.7l1 1.2l1-2.9l1 2.4l1-1.8l1 1.2l1 0.9l1 0.9l1-0.5l1 0.2l1 0.7l1 0.1l1 0.5l1-0.2l1-0.1l1 0.2l1-1.4l1 1.3l1 2.7l1-3.3l1 0.5l1 0.7l1 1.4l1-0.4l1-0.7l1-0.9l1 2.5l1-0.3l1-0.9l1 0.6l1-2.3l1 1.2l1 2.2l1-0.8l1 2.5l1-3.1l1-0.6l1 2.8l1-1.2l1 1l1-0.9l1 0.6l1-0.5l1 0.6l1-0.4l1-1.1l1 0.6l1-0.3l1 0.3l1-1l1 0.1l1 2.5l1-1.3l1-0.1l1 1.3l1-2.5l1 1.2l1 1.3l1-0.5l1-0.2l1 1.6l1-1.2l1 0.1l1-0.8l1 0.6l1-0.7l1 0.7l1 0l1-0.3l1 0.6l1-0.8l1 1.1l1 0.1l1-0.7l1 0.9l1-2.9l1 1.1l1 1.1l1-1.2l1 0.1l1 1.2l1-0.2l1-0.4l1-1l1 2.2l1 0.2l1-1.9l1-0.1l1 0l1 1.6l1 1.3l1-3.5l1 0.4l1 0.7l1 1.8l1 0.7l1-2.4l1-0.7l1 1.7l1-2.4l1 2.3l1 1.7l1-0.6l1 0.1l1-1.7l1 1l1-2l1 0.9l1 0.5l1-0.9l1 0.8l1-0.9l1 0.4l1-0.5l1 0.5l1-0.3l1-0.6l1-0.3l1-0.1l1 1.2l1-1.1l1 0.5l1-0.5l1 0.2l1 0.7l1-0.4l1 0.2l1-1.1l1 0.3l1 0.2l1 0.9l1-1.2l1 0.5l1-1.8l1 0.5l1 1.8l1 1.5l1-0.5l1 1.3l1-1.9l1 2.3l1-1.3l1-1.1l1 0.7l1-2.1l1 2.9l1-0.2l1-2l1 1l1 0.2l1-0.1l1-0.5l1 0l1-0.2l1-2.1l1 1.2l1 1.6l1-0.3l1 1.7l1-1.9l1 0.3l1 0.1l1-0.1l1-0.6l1 2.3l1-2l1 0.8l1 0.2l1-0.3l1 0.7l1 0.2l1 0.1l1 0.7l1-1l1-0.2l1-0.2l1 0.9l1-0.6l1 1.9l1-1.4l1 0.4l1-2.4l1-0.1l1 1.9l1-1.4l1-1l1 1.1l1-0.9l1 0.8l1-0.5l1 0.2l1 0l1-0.1l1 0.8l1 0.4l1-0.2l1-0.3l1 2.2l1 1.5l1-2.5l1-1l1 1.3l1 0.3l1-0.4l1-0.4l1 1l1 1.1l1-2.6l1 0.3l1 2.4l1-1.8l1-0.6l1 0.1l1 1.2l1-1.1l1-0.7l1 1.8l1-2.2l1-0.4l1 1.8l1-1.9l1-0.6l1 1.8l1 0.1l1 0.9l1-0.8l1-0.2l1 1.5l1-1.1l1 0.6l1-0.3l1 0l1-0.4l1 0.5l1 0.4l1-0.5l1 0.3l1-1l1-0.6l1 0.6l1 0.9l1 1.1l1-0.2l1 0.1l1-0.7l1 0.4l1 0.4l1-0.4l1-0.5l1 0.3l1 0.7l1-0.7l1-0.4l1-1.8l1 2.8l1-3.3l1-0.3l1 2l1-1.8l1 2.9l1-2.6l1 1.3l1 0.5l1 1.8l1-1l1-1.5l1 2.3l1-1.7l1-0.9l1-0.2l1 1l1 0.2l1-0.4l1-0.6l1 0.3l1-1.3l1 3l1-0.4l1-0.7l1-0.3l1 1.1l1 0.1l1-2.7l1 1l1 0.4l1-0.6l1 0.3l1 2.3l1 0l1-1.8l1 0.5l1 0l1-1l1 0.4l1 1l1-0.9l1 1.3l1-0.3l1 1.5l1-2.6l1-1.6l1 2.2l1 0.1l1 0.6l1-0.6l1-0.7l1 0.7l1 1.3l1-1.2l1-0.7l1-0.9l1 3.6l1 0.1l1-1.1l1-0.3l1-2.4l1 1l1-0.3l1 1l1 1l1 0.3l1-1.2l1 0.9l1-0.3l1-0.6l1-0.3l1-0.7l1 0.6l1 0.4l1 0.1l1 0.3l1-0.9l1 0.2l1 0.2l1-0.1l1 1.3l1-1.2l1 0.1l1-0.3l1-0.8l1 0.6l1 2.2l1-1.4l1-0.2l1-0.8l1 0.8l1-1.1l1-0.2l1 2.4l1-2.4l1 1.7l1-1.4l1 0.6l1-0.3l1 1.5l1-0.1l1 0.1l1 1l1-1.1l1-0.5l1 0.3l1 0.5l1-1.8l1 0.1l1 0.2l1-0.6l1-1.1l1-0.5l1 2.1l1 0.3l1 0.3l1-1.8l1 0.9l1 1.2l1-1.2l1 0.6l1-1.7l1 0.7l1 0.5l1 1.8l1-1.5l1 1.4l1-0.2l1 0.2l1 0.5l1-1.2l1-0.3l1 0.5l1-0.6l1 1.1l1 0.1l1-2l1 1.7l1 0.4l1-1.6l1 1.8l1 0.5l1-2.3l1 0l1 0.5l1-1.3l1 1.9l1 0.4l1-0.6l1-1.4l1 1.3l1 0.4l1-0.2l1 0.2l1-1.2l1-0.1l1 1.1l1-0.3l1-0.5l1 0.4l1-0.3l1-2.3l1 1.9l1 0.3l1 1.5l1-1.4l1-0.1l1 1.6l1-1.3l1-0.1l1 0.5l1 1.1l1-1.9l1-1.1l1 0.8l1 1.4l1-0.2l1-0.1l1-0.9l1 0.6l1 0.6l1-0.9l1-0.1l1 2l1-2.2l1 0.1l1 0l1 1.4l1 0.5l1-0.8l1-0.4l1-0.4l1 0.7l1 0.4l1 0l1 0.6l1-1.5l1 0.1l1 1.6l1-0.3l1-1.3l1-0.1l1 1.8l1-2.4l1-0.3l1 0.7l1-0.2l1-1.7l1 1.5l1-1.4l1 1.1l1 0.1l1 1.2l1-0.6l1 0.7l1-2.5l1 0.4l1-0.2l1 1.5l1 0.4l1-1.5l1 2.5l1-1.2l1-1l1 1l1 1.3l1-0.7l1-1.1l1 0l1-0.5l1-1.2l1 0.9l1-0.1l1-0.1l1 1.6l1-1.5l1 0.9l1-0.6l1-1.4l1 1.1l1-0.4l1 0.9l1-0.3l1 1.5l1 0l1 0.8l1-0.3l1 0.7l1-1.6l1 1.2l1-0.9l1 1.3l1-1l1-1.7l1 2.8l1 0l1-0.4l1-1.4l1 0.3l1 0.1l1 1l1-0.1l1-2.2l1 0.6l1-0.3l1 0.3l1-0.1l1 2.2l1-0.7l1-2l1 1.2l1-0.4l1-0.1l1-0.2l1 0.8l1-1.3l1 1.9l1-1.4l1 1.3l1-1.6l1 0.1l1 0.7l1 0.3l1 0l1-1.1l1-0.1l1 1.6l1-0.2l1 0.3l1-1.1l1-0.3l1-0.6l1-0.1l1 1.9l1-0.5l1 0l1-0.3l1 1.9l1-0.8l1 0.5l1-1.6l1-0.2l1 0.5l1-1.8l1-0.8l1 4l1-3.8l1 1.5l1 0.2l1-1.6l1 1.2l1 0.5l1 0.9l1 0.4l1 0.8l1-2.8l1 0.8l1-1.3l1 1.7l1-2.5l1 1.3l1 0.3l1-1.2l1 0.4l1-2.3l1 2.4l1 0l1 1.1l1-0.3l1 0.3l1-0.2l1 0.4l1-0.1l1-1.1l1 1.1l1-0.6l1-1.1l1 1.2l1 0l1-1.4l1 1.2l1-0.5l1 0.6l1-0.3l1-0.5l1 0.1l1 0.6l1-1.1l1 1.5l1-1.5l1 1l1-0.7l1 1.6l1-0.1l1-1.7l1 0.2l1 2.2l1-2.5l1 2.5l1-2.3l1 2.5l1 0.3l1-1.3l1 1l1 0.4l1-1.7l1 0.4l1-0.8l1 0.2l1-0.6l1-0.7l1 0.8l1-1.1l1 0.9l1 0l1 0.1l1 1.5l1-1.1l1-1.5l1 0.3l1-0.5l1 1.6l1 0.3l1-0.1l1 0.6l1 1.6l1-1.8l1 0.3l1 0.6l1-1.4l1 0.7l1 0.5l1-1.3l1-0.1l1 1.6l1-1.8l1-0.4l1 0.1l1 0.7l1 0.5l1 0l1-1.5l1 0.3l1 0.8l1 0.5l1-0.6l1-0.2l1 0l1 1.1l1-2.2l1-1.3l1 1.7l1 0.4l1 1l1-0.1l1-0.7l1 2l1-2l1 0.3l1-0.1l1-0.2l1 2.2l1-1l1 0.1l1-0.2l1-2.3l1 0.3l1-0.8l1 2.2l1-2.4l1-0.2l1 0.4l1 0.9l1 0.9l1-2l1-2.3l1 2.9l1 0.7l1-0.6l1 0.6l1 0.4l1 1.1l1-0.1l1 0.1l1-1.3l1-0.1l1 0.2l1 0.7l1 0.4l1 0.6l1 0.2l1-0.5l1-0.3l1 1.2l1-1.1l1 0.6l1-1.1l1 0.1l1 1.5l1-0.3l1-0.1l1-0.4l1 1.4l1-0.9l1-0.5l1 1.5l1-1.8l1-0.3l1 1l1 2.1l1-2.8l1 0.1l1-1.3l1 0.7l1 0.2l1 0.4l1 0.1l1 0.9l1 0.3l1-1.5l1-1.4l1 1.2l1 0.1l1 1.7l1-0.8l1-0.4l1-0.1l1 2l1-0.9l1-1l1 0.1l1-0.6l1-0.6l1 3.2l1-2.9l1-0.4l1 0.4l1 0l1 0.9l1-2.2l1 0.9l1-0.8l1 0.7l1 0.6l1 0.7l1-0.7l1-0.3l1 0.1l1-0.2l1 2.2l1-2.2l1 0.2l1 0.1l1-0.7l1 0.3l1 0.7l1 0.4l1-0.1l1-1.4l1 1.3l1-1l1-0.1l1-1.1l1 0.6l1 0.7l1 0.5l1-0.3" fill="none" stroke="#B23E39" stroke-width="6.4" stroke-linejoin="round" stroke-linecap="butt" />
<path d="M142.5 540.3l1 1.4l1-3l1-5.8l1 11.2l1-1l1-6.2l1-0.6l1 15.6l1 2.3l1-0.5l1-10.4l1 2.5l1-4.1l1 6l1 11.4l1 3.1l1-9.3l1 19.3l1 2.7l1-16.3l1 10.8l1 13.1l1 1.4l1-0.2l1-6.4l1-4.7l1 18l1-1.9l1 0.8l1 3.3l1-8.8l1 13.4l1-3.4l1 2.3l1 12.7l1 4.1l1-12.8l1 20.1l1-9.9l1 0.6l1-13.4l1 20.8l1-7.7l1 17l1-14.5l1 14.5l1-17.5l1 7.9l1-9.2l1 1.4l1 2l1 8.4l1-8.1l1 21.1l1-5.2l1 0.9l1-5.6l1 2.8l1-7.8l1 9.1l1 12.5l1-25l1 0.3l1 9.7l1-20.8l1 22.5l1 1.8l1-11.2l1-4.2l1 10.9l1 3.2l1-2.2l1 12.1l1-1l1 9l1-4.9l1-10.5l1 0l1 6.3l1-6.4l1 2.9l1 6.9l1 12.6l1-0.9l1-9.4l1-6.3l1 0.2l1 18.4l1-3.6l1-14l1 10.9l1 7.1l1-20.8l1 4.9l1-3.1l1 6.5l1-3.2l1-3.4l1-6.1l1 2.1l1 7.9l1-2.9l1 2.4l1 11.2l1-1.1l1 6.6l1-11l1 5.3l1 6.6l1-0.9l1 8.6l1-5.9l1 1.2l1 2.4l1-1.6l1 1.4l1-1.3l1 0.5l1 0l1 1.5l1-0.5l1-0.4l1 1.7l1-0.3l1-0.3l1 0.7l1-0.7l1-1.3l1 1.6l1-0.5l1-1.7l1 0.1l1 2.5l1-1.9l1 2.1l1-1l1 0.5l1-1.3l1 2.2l1-1.8l1 1.9l1-1.7l1-0.8l1 1.1l1 0.2l1 0.3l1-0.7l1 0.9l1 0.7l1-0.8l1-0.8l1 1.8l1-1.2l1 2.4l1-2.8l1 2.9l1-0.4l1-1.5l1-1.2l1 0.9l1-0.4l1 0.1l1 3.1l1-1.3l1 0.5l1 1l1-0.2l1 0.7l1 0.7l1-1.5l1 0.3l1-0.7l1 0.3l1-1.7l1-1.2l1 1.9l1 0.5l1-0.6l1 1.5l1 1.3l1-1.8l1 0.8l1 0.6l1-1l1-0.8l1 2.2l1 0.3l1-0.7l1 0.7l1-1.4l1-1.3l1 2.3l1-1.3l1 0.4l1-2.4l1 1.8l1 1.1l1 0.7l1 0l1-0.6l1 0.4l1-1.1l1 1.2l1-1.3l1 0l1 1.3l1-1.2l1 1.1l1-0.7l1-1.3l1 1l1-0.3l1 0.5l1-0.7l1 0.9l1-0.2l1 1l1 1.8l1-1.6l1 0l1 1.5l1-1.6l1 0.9l1-0.5l1-1.5l1 2.2l1-1.8l1-0.5l1-0.5l1 0.1l1 0.6l1 0.2l1 0.2l1 0.1l1-0.3l1-1.6l1 1.1l1 2l1-1.4l1 0.3l1-0.3l1 0.8l1 0l1-0.2l1 0.1l1-1.2l1 1l1 0.4l1 0.4l1-2.9l1 2l1-0.8l1-0.5l1 2.3l1-1.7l1 0.2l1-0.7l1 2.4l1-3.3l1 1.9l1-0.3l1-0.6l1 0.8l1 1.2l1-1.9l1 0l1 0.9l1-3.1l1 1.6l1 2.4l1-2.9l1 1.6l1-0.9l1-0.3l1 1.1l1 1l1-1.2l1-0.8l1 1.8l1-0.3l1-0.1l1-0.2l1-1.7l1 0.4l1-0.6l1 0.8l1-0.1l1-1.2l1 0.2l1 0.2l1 1.4l1-1.3l1-0.2l1 2.7l1 0.4l1-3.7l1 2.1l1 0.1l1 0.8l1 0.8l1-1.9l1 0.6l1-1.1l1-1.2l1 2.3l1 0.1l1-0.3l1-0.2l1 0.6l1-0.8l1 0.2l1 1.6l1-2.6l1 1.7l1 0.4l1-1.3l1 0.8l1-0.3l1-1.9l1 0.5l1 1.2l1-1l1 0.8l1 0.4l1-0.5l1-1.1l1 0.9l1-1.8l1 2.7l1-0.1l1 0.5l1-3l1 1.2l1-0.9l1-0.6l1 2l1-1.7l1 1.1l1-1.3l1 0.9l1 0.3l1 0l1 1.2l1-0.6l1-1.3l1 0.4l1 1.8l1-0.2l1-1.4l1-1.2l1 0.9l1 0.3l1 0.6l1 0.3l1 0.5l1-1.9l1 0.5l1 0.3l1-0.4l1 0l1 0.5l1-1.1l1 0.3l1 2.2l1-1.8l1-0.4l1 0.3l1-1.2l1 0.9l1-0.7l1 0.6l1-0.1l1 0.8l1 1l1-0.7l1-0.9l1 2.9l1-0.9l1-0.2l1 0l1 0l1-1.4l1 0.9l1 0l1 0.5l1-1.7l1-0.9l1 1.9l1 0.8l1 0.2l1 1.3l1-1.5l1-1.8l1-0.4l1 1l1 0.2l1 0.4l1 0.7l1-1.8l1 2.4l1-2.7l1 0.2l1 1.9l1-1.3l1-1.1l1 1.6l1 1l1-1.2l1 2.4l1-1.5l1-1.8l1 1.4l1-1.5l1 0.4l1 1.7l1-2l1 1.1l1-0.2l1 0l1-0.2l1-1.6l1 1.6l1 0.4l1-1.2l1 1.2l1-0.2l1-0.9l1-2l1 1.1l1 1.2l1-1.5l1 2l1 0.2l1 0.6l1-1.3l1 0.8l1-0.5l1 1.4l1 0.6l1-1.8l1 0.4l1 0.6l1-0.7l1-2.3l1 1.8l1-0.9l1-0.6l1 1.9l1-0.2l1-0.9l1 1.8l1 0.4l1 0.5l1-1.2l1-0.9l1 0.5l1 0.6l1-0.8l1 0.2l1 0.6l1-2.7l1 0.7l1 1.1l1-0.8l1 0.5l1-1.7l1 0.5l1 2.5l1-0.1l1 0.1l1-0.1l1-0.7l1 1.4l1 0l1 0.2l1-0.6l1 1.1l1 0l1-1.2l1-0.2l1 1l1-1.4l1-0.4l1 0.6l1 0.7l1 0.4l1-0.8l1 1.7l1 2.5l1-3l1 0.1l1-0.7l1 2.1l1-1.7l1 1l1-0.5l1-1.3l1-0.1l1-1.3l1 0.7l1 1l1-0.1l1-0.6l1 0.3l1-0.2l1-0.9l1 0.1l1-0.1l1 0.6l1-0.7l1 1.2l1 0.6l1-0.6l1 0.5l1-1.3l1 0l1 0.9l1 0.2l1 0.1l1 0.3l1 0.2l1-1.1l1-2.1l1 0.4l1 2l1-1.7l1 0.5l1-0.7l1-0.9l1 3.7l1-1.2l1 0.6l1-0.5l1-0.2l1 1l1-1.3l1 3.3l1-3.2l1 0.2l1-0.6l1-0.4l1 0.8l1-0.3l1 0.2l1 0.2l1 1.1l1-0.9l1 0.8l1-1.4l1-0.4l1-0.3l1 2.7l1-1.1l1-0.4l1-0.9l1 2.5l1-0.8l1-0.4l1-0.6l1 0.6l1 0.2l1 0.8l1-2l1 0l1 0.3l1 1.4l1-0.8l1-1.1l1 2.7l1-4l1 2.4l1 0.2l1-1.2l1 1.4l1-1.1l1-0.6l1 0.3l1 0.2l1 0.1l1 1.5l1-0.1l1-1.2l1 0.5l1-1l1 1.3l1-0.6l1 0.5l1-0.4l1 0.1l1 0.9l1 0.6l1-0.9l1-1.3l1-0.1l1 0.7l1-1.8l1 2.5l1-2l1 0l1 0.7l1 0.5l1-0.8l1 1.3l1 1.1l1-0.7l1 0.4l1 0l1 0.8l1-1.9l1 0.2l1 0.1l1 0.3l1 1l1-1.7l1 2.1l1-1.7l1 0.9l1-0.4l1 1l1 0.2l1 0.5l1-1.2l1 1.2l1-0.1l1-0.1l1-0.5l1-1.1l1 0.2l1 1.2l1-1.3l1 1.7l1-0.8l1 0l1-1.1l1 0.8l1 0l1 0.2l1-1.2l1 0.9l1 0.2l1-0.3l1 0.1l1 0l1-0.1l1 0.4l1-2l1 1.1l1 1.2l1-0.1l1-2.3l1 2.2l1-1l1 1.8l1 0.2l1-0.7l1 0.5l1-0.4l1 0.6l1-0.9l1 1.4l1-1.8l1 0.1l1 0.7l1-1.8l1 1.6l1 0.1l1-1.7l1 0.7l1-0.7l1 2.2l1 0.6l1 0.8l1-0.7l1 0.9l1 0.2l1-2.5l1 2l1-0.4l1-1.6l1-0.5l1 2.3l1-1.2l1-0.5l1-0.5l1 1.6l1-0.8l1 0.3l1-0.6l1-0.9l1 1.2l1-0.2l1 0.4l1 1l1-2.4l1 1.2l1 0.7l1-0.3l1 0.5l1 0l1 0.2l1-1.2l1 2.9l1-1.3l1-2.6l1 2.3l1-0.7l1-0.5l1 1.5l1 0.4l1-0.6l1-0.4l1 0.2l1 0.8l1-1l1 1.3l1-0.7l1-1.3l1 0.9l1 0.1l1-0.4l1 1.1l1-0.9l1-0.1l1-0.1l1 1.8l1-1.5l1-0.6l1 0.3l1 0.5l1 0.2l1-0.9l1 0l1 0l1 0.3l1-0.1l1 0.6l1-0.3l1 1.8l1-1l1 0.4l1 0.3l1-0.2l1-1.1l1 0.7l1-2.1l1 1.1l1 0.1l1 0.1l1 0.6l1-0.3l1-0.3l1 0.9l1-1.2l1 1.1l1-0.7l1-0.4l1 0.8l1-0.5l1 1.8l1-0.5l1-2.4l1 2.6l1-2.1l1 2.2l1-0.2l1-1.1l1 1.6l1-1.2l1-0.1l1-0.2l1-0.9l1-0.1l1 0.5l1-0.3l1 1.2l1-0.1l1 0.8l1-1.1l1 0.9l1-2l1 2.3l1-0.7l1 0.9l1-1.4l1-1.5l1 0.5l1 2.2l1 0.9l1 0.5l1-1.1l1 0l1-0.9l1-0.5l1 0.7l1 0.9l1-1l1 1l1-1.1l1 0.1l1-2.1l1 2.4l1-1.3l1-0.4l1 0.1l1 2.1l1-1.6l1-0.3l1 0.8l1-0.5l1 0l1-0.6l1 1.3l1 0.2l1-1.2l1 0.3l1 0.9l1 0.1l1-1.7l1 0.1l1 0.7l1-0.7l1 0.6l1 1.1l1-0.8l1 1.4l1-1.7l1 0l1-1.3l1 0.5l1 1.8l1-0.6l1 0.1l1-0.1l1 0.1l1-1.4l1 0.3l1 1.4l1-1.5l1 0.5l1-0.4l1 0.9l1-0.2l1 0.1l1-1.1l1 0.1l1 0.7l1-2.7l1 1.8l1 0.3l1 2l1-1.9l1 0l1 0.5l1-0.5l1 1.5l1 0.5l1-0.8l1 0.7l1-1.4l1 2.1l1-2.4l1 0.2l1-0.7l1-0.5l1-0.3l1 0.1l1 0.4l1-0.1l1 1.1l1-0.7l1 1.4l1-0.1l1 0.1l1-1.4l1 1.4l1-0.6l1-1.9l1 0.6l1 1.2l1 0.7l1-0.6l1-0.4l1 0.4l1 0.2l1 1.9l1-3l1 0.5l1-0.3l1-0.3l1 1.8l1 0.5l1 0l1-1.2l1-0.2l1 1.5l1-1l1 0.4l1-0.2l1-1.1l1-0.6l1 1.7l1 0.6l1-1.8l1 0.7l1-0.6l1 0.9l1-0.5l1 0.9l1-0.3" fill="none" stroke="#406FA9" stroke-width="6.4" stroke-linejoin="round" stroke-linecap="butt" />
<text x="133.6" y="917.9" font-size="22.8" font-family='"Liberation Sans", sans-serif' text-anchor="end" font-weight="normal" >0</text>
<text x="133.6" y="866.4" font-size="22.8" font-family='"Liberation Sans", sans-serif' text-anchor="end" font-weight="normal" >0.5</text>
<text x="133.6" y="814.9" font-size="22.8" font-family='"Liberation Sans", sans-serif' text-anchor="end" font-weight="normal" >1</text>
<text x="133.6" y="763.4" font-size="22.8" font-family='"Liberation Sans", sans-serif' text-anchor="end" font-weight="normal" >1.5</text>
<text x="133.6" y="711.9" font-size="22.8" font-family='"Liberation Sans", sans-serif' text-anchor="end" font-weight="normal" >2</text>
<text x="133.6" y="660.4" font-size="22.8" font-family='"Liberation Sans", sans-serif' text-anchor="end" font-weight="normal" >2.5</text>
<text x="133.6" y="608.9" font-size="22.8" font-family='"Liberation Sans", sans-serif' text-anchor="end" font-weight="normal" >3</text>
<text x="133.6" y="557.4" font-size="22.8" font-family='"Liberation Sans", sans-serif' text-anchor="end" font-weight="normal" >3.5</text>
<text x="133.6" y="505.9" font-size="22.8" font-family='"Liberation Sans", sans-serif' text-anchor="end" font-weight="normal" >4</text>
<text x="141.6" y="937.4" font-size="22.8" font-family='"Liberation Sans", sans-serif' text-anchor="middle" font-weight="normal" >0</text>
<text x="303" y="937.4" font-size="22.8" font-family='"Liberation Sans", sans-serif' text-anchor="middle" font-weight="normal" >20</text>
<text x="484.6" y="937.4" font-size="22.8" font-family='"Liberation Sans", sans-serif' text-anchor="middle" font-weight="normal" >40</text>
<text x="666.4" y="937.4" font-size="22.8" font-family='"Liberation Sans", sans-serif' text-anchor="middle" font-weight="normal" >60</text>
<text x="848" y="937.4" font-size="22.8" font-family='"Liberation Sans", sans-serif' text-anchor="middle" font-weight="normal" >80</text>
<text x="1030" y="937.4" font-size="22.8" font-family='"Liberation Sans", sans-serif' text-anchor="middle" font-weight="normal" >100</text>
<text x="1100.8" y="513.7" font-size="46" font-family='"Liberation Serif", serif' text-anchor="middle" font-weight="bold" >B</text>
<text transform="translate(22.6 652.7) rotate(-90)" font-size="29.4" font-family='"Liberation Serif", serif' font-weight="bold" text-anchor="middle">Nanometer</text>
</g>
<g id="panelC">
<line x1="122.4" y1="1010" x2="122.4" y2="1469" stroke="#868686" stroke-width="1.6"/>
<line x1="121.6" y1="1468.2" x2="1123" y2="1468.2" stroke="#868686" stroke-width="2"/>
<path d="M486.1 1467V1237.2" fill="none" stroke="#8EA7D1" stroke-width="5.4" stroke-linecap="round"/>
<path d="M126.9 1467V1130.6M521.2 1467V1201.4M545.5 1467V1230.6M546.7 1467V1230.6M556.3 1467V1209.4M588.8 1467V1212M817.1 1467V1230.1M855.5 1467V1214.7M879 1467V1183.8M883.8 1467V1233.2M884.6 1467V1233.2M890 1467V1254.9M890.2 1467V1254.9M949.3 1467V1208.5M958.6 1467V1227.1" fill="none" stroke="#DF8436" stroke-width="5.4" stroke-linecap="round"/>
<path d="M348.5 1467V1188.9M386.7 1467V1211.4M519 1467V1213.4M520.3 1467V1213.4M521.6 1467V1213.4M533.5 1467V1222.6M538.9 1467V1231.9M540.1 1467V1231.9M545.5 1467V1233.2M546.7 1467V1233.2M565.6 1467V1186.9M577.3 1467V1237.2M579.3 1467V1237.2M581.3 1467V1237.2M583.2 1467V1237.2M585.2 1467V1237.2M600.5 1467V1238.5M604.2 1467V1255.8M608.2 1467V1238.5M619.7 1467V1213.4M620.2 1467V1213.4M624.5 1467V1237.2M628.2 1467V1213.4M725.5 1467V1208.5M726.3 1467V1208.5M730.9 1467V1236.3M735 1467V1205.4M739.4 1467V1233.2M743.7 1467V1210M748.7 1467V1233.2M749.5 1467V1233.2M754.9 1467V1211.6M756.8 1467V1211.6M758.8 1467V1211.6M763 1467V1214.7M766.9 1467V1157.5M771.5 1467V1233.2M776.5 1467V1211.6M778.4 1467V1211.6M780.2 1467V1211.6M782 1467V1211.6M787.4 1467V1233.2M788.2 1467V1233.2M793.6 1467V1214.7M794.3 1467V1214.7M799.4 1467V1199.2M804 1467V1214.7M809 1467V1256.4M811 1467V1256.4M812.9 1467V1256.4M844.6 1467V1236.3M845.7 1467V1236.3M846.9 1467V1236.3M852.3 1467V1237.9M854.1 1467V1237.9M855.9 1467V1237.9M857.7 1467V1237.9M864.3 1467V1279.6M895.6 1467V1207M896.8 1467V1207M897.9 1467V1207M904.9 1467V1261.1M906.8 1467V1261.1M908.8 1467V1261.1M914.2 1467V1264.2M915.9 1467V1264.2M917.6 1467V1264.2M919.4 1467V1264.2M921.1 1467V1264.2M954.3 1467V1236.3M956.1 1467V1236.3M957.8 1467V1236.3M959.6 1467V1236.3M961.3 1467V1236.3M984.9 1467V1202.3M998.8 1467V1213.1" fill="none" stroke="#3B99B6" stroke-width="5.4" stroke-linecap="round"/>
<path d="M370.1 1467V1182.3M443.7 1467V1213.4M475.2 1467V1213.4M497.8 1467V1234.6M499.7 1467V1234.6M501.6 1467V1234.6M503.5 1467V1234.6M505.3 1467V1234.6M507.2 1467V1234.6M509.1 1467V1234.6M511 1467V1234.6M592.1 1467V1279.6M600.5 1467V1287.6M838.8 1467V1213.1M870.9 1467V1234.8M872.8 1467V1234.8M874.7 1467V1234.8M928 1467V1237.9M940.1 1467V1237.9M966.7 1467V1248.7M968.7 1467V1248.7M970.6 1467V1248.7" fill="none" stroke="#6E509A" stroke-width="5.4" stroke-linecap="round"/>
<path d="M123 1467V1134.6M124.9 1467V1134.6M126.9 1467V1134.6M132.2 1467V1161.1M137.6 1467V1081.6M138.8 1467V1081.6M143.5 1467V1155.8M148.1 1467V1200.8M153.5 1467V1158.4M154.8 1467V1158.4M156 1467V1158.4M161.4 1467V1137.2M163.4 1467V1137.2M165.3 1467V1137.2M170.7 1467V1110.7M172 1467V1110.7M173.3 1467V1110.7M178.7 1467V1109.4M179.9 1467V1109.4M183.9 1467V1131.9M187.9 1467V1053.7M192.5 1467V1106.7M197.2 1467V1137.2M201.8 1467V1086.9M206.5 1467V1135.9M207.8 1467V1135.9M209 1467V1135.9M214.4 1467V1175.6M219.7 1467V1137.2M225 1467V1161.1M230.3 1467V1154.4M235.6 1467V1203.5M237.6 1467V1203.5M239.5 1467V1203.5M244.9 1467V1182.3M249.5 1467V1206.1M254.1 1467V1161.1M259.4 1467V1184.9M264.7 1467V1211.4M270 1467V1162.4M275.4 1467V1158.4M277.3 1467V1158.4M279.3 1467V1158.4M284.7 1467V1232.6M286.6 1467V1232.6M288.6 1467V1232.6M294 1467V1162.4M295.2 1467V1162.4M300.5 1467V1190.2M305.8 1467V1183.6M311.2 1467V1175.6M312.4 1467V1175.6M317.8 1467V1214.1M319.4 1467V1214.1M321.1 1467V1214.1M322.7 1467V1214.1M324.3 1467V1214.1M329.7 1467V1259.1M335 1467V1183.6M340.3 1467V1211.4M345.6 1467V1269.7M347.6 1467V1269.7M349.5 1467V1269.7M354.9 1467V1188.9M360.2 1467V1232.6M365.5 1467V1237.9M370.1 1467V1211.4M374.7 1467V1137.2M380 1467V1222M385.4 1467V1243.2M387.1 1467V1243.2M388.9 1467V1243.2M390.6 1467V1243.2M395.9 1467V1232.6M401.2 1467V1264.4M405.9 1467V1218.1M408.9 1467V1214.1M412.7 1467V1213.4M414.2 1467V1213.4M419.6 1467V1218.7M420.9 1467V1218.7M426.3 1467V1155.1M427.5 1467V1155.1M432.8 1467V1186.9M438.2 1467V1160.4M439.4 1467V1160.4M444.8 1467V1237.2M449.4 1467V1261.1M454 1467V1212M459.3 1467V1255.8M464.7 1467V1237.2M465.9 1467V1237.2M471.3 1467V1269M473.2 1467V1269M475.2 1467V1269M480.5 1467V1163M485.8 1467V1279.6M491.1 1467V1133.9M496.5 1467V1300.8M498.3 1467V1300.8M500.1 1467V1300.8M501.9 1467V1300.8M503.7 1467V1300.8M505.5 1467V1300.8M507.3 1467V1300.8M509.2 1467V1300.8M511 1467V1300.8M516.3 1467V1284.9M521.6 1467V1290.2M527 1467V1208.1M528.2 1467V1208.1M533.5 1467V1290.2M538.9 1467V1279.6M540.9 1467V1279.6M542.8 1467V1279.6M544.8 1467V1279.6M546.7 1467V1279.6M551.4 1467V1242.5M556.1 1467V1279.6M561.4 1467V1237.2M566.7 1467V1300.8M568.6 1467V1300.8M570.6 1467V1300.8M572.5 1467V1300.8M574.4 1467V1300.8M576.3 1467V1300.8M578.2 1467V1300.8M580.2 1467V1300.8M582.1 1467V1300.8M584 1467V1300.8M585.9 1467V1300.8M587.8 1467V1300.8M593.2 1467V1282.3M594.5 1467V1282.3M595.8 1467V1282.3M601.2 1467V1290.2M602.8 1467V1290.2M604.4 1467V1290.2M606.1 1467V1290.2M607.7 1467V1290.2M613.1 1467V1231.9M614.3 1467V1231.9M619.7 1467V1279.6M621.7 1467V1279.6M623.7 1467V1304.1M625.6 1467V1304.1M627.6 1467V1279.6M633 1467V1176.3M634.3 1467V1176.3M635.5 1467V1176.3M640.9 1467V1188.2M642.9 1467V1188.2M644.8 1467V1188.2M650.2 1467V1208.1M652.2 1467V1208.1M654.1 1467V1208.1M658.8 1467V1177.6M663.5 1467V1208.1M665.3 1467V1301.4M667.1 1467V1301.4M669 1467V1301.4M670.8 1467V1208.1M672.6 1467V1208.1M678 1467V1186.9M679.3 1467V1186.9M684.7 1467V1208.1M686.6 1467V1208.1M688.5 1467V1208.1M693.9 1467V1182.9M695.2 1467V1182.9M698.9 1467V1282.3M702.7 1467V1282.7M704.3 1467V1328.4M706 1467V1328.4M707.6 1467V1282.7M709.2 1467V1282.7M710.9 1467V1282.7M716.3 1467V1285.8M718.2 1467V1285.8M720.1 1467V1285.8M725.5 1467V1264.2M727.3 1467V1239.2M729 1467V1264.2M730.8 1467V1264.2M732.5 1467V1264.2M737.9 1467V1261.1M739.7 1467V1261.1M741.5 1467V1261.1M743.3 1467V1261.1M745.1 1467V1261.1M746.9 1467V1261.1M748.7 1467V1186.1M750.5 1467V1261.1M752.3 1467V1261.1M754.1 1467V1261.1M759.5 1467V1224M760.7 1467V1224M761.9 1467V1224M767.3 1467V1233.2M768.4 1467V1233.2M769.6 1467V1233.2M775 1467V1239.4M776.7 1467V1239.4M778.4 1467V1306.7M780 1467V1306.7M781.7 1467V1306.7M783.4 1467V1239.4M785.1 1467V1239.4M790.5 1467V1236.3M792.3 1467V1236.3M794.2 1467V1286.3M796.1 1467V1286.3M798 1467V1286.3M799.9 1467V1236.3M801.7 1467V1236.3M803.6 1467V1236.3M809 1467V1254.9M810.8 1467V1304.9M812.5 1467V1304.9M814.2 1467V1254.9M816 1467V1254.9M821.4 1467V1261.1M823.1 1467V1261.1M824.7 1467V1261.1M826.4 1467V1261.1M828.1 1467V1261.1M829.8 1467V1261.1M831.4 1467V1261.1M836.8 1467V1279.6M838.8 1467V1279.6M840.7 1467V1303.6M842.6 1467V1303.6M844.6 1467V1279.6M846.5 1467V1325.3M848.4 1467V1325.3M850.4 1467V1279.6M852.3 1467V1279.6M854.3 1467V1279.6M856.2 1467V1279.6M861.6 1467V1279.6M863.5 1467V1279.6M865.5 1467V1279.6M870.9 1467V1279.6M872.9 1467V1279.6M874.8 1467V1302.1M876.8 1467V1302.1M878.8 1467V1302.1M880.8 1467V1279.6M882.8 1467V1279.6M884.8 1467V1279.6M886.8 1467V1279.6M888.8 1467V1279.6M890.8 1467V1279.6M892.8 1467V1279.6M894.8 1467V1279.6M896.8 1467V1279.6M898.8 1467V1279.6M900.8 1467V1279.6M902.8 1467V1279.6M904.8 1467V1279.6M906.8 1467V1279.6M908.8 1467V1279.6M914.2 1467V1261.1M915.9 1467V1275.8M917.6 1467V1275.8M919.4 1467V1275.8M921.1 1467V1261.1M926.5 1467V1254.9M928.4 1467V1254.9M930.3 1467V1254.9M932.2 1467V1254.9M934 1467V1254.9M935.9 1467V1254.9M937.8 1467V1254.9M939.7 1467V1254.9M945.1 1467V1261.1M947 1467V1261.1M949 1467V1261.1M951 1467V1261.1M952.9 1467V1261.1M954.9 1467V1261.1M956.9 1467V1261.1M958.8 1467V1261.1M960.8 1467V1261.1M962.7 1467V1261.1M964.7 1467V1261.1M966.7 1467V1261.1M968.6 1467V1261.1M970.6 1467V1261.1M976 1467V1254.9M977.2 1467V1254.9M978.3 1467V1254.9M983.7 1467V1236.3M984.9 1467V1236.3M986.1 1467V1236.3M991.5 1467V1211.6M992.6 1467V1211.6M993.8 1467V1211.6M999.2 1467V1214.7M1000.3 1467V1214.7M1001.5 1467V1214.7M1006.9 1467V1208.5M1008.9 1467V1208.5M1010.8 1467V1208.5M1016.2 1467V1208.5M1018.1 1467V1208.5M1020.1 1467V1208.5M1025.5 1467V1162.1M1025.6 1467V1162.1M1030.2 1467V1186.9M1034.7 1467V1176M1035.5 1467V1176" fill="none" stroke="#88A74B" stroke-width="5.4" stroke-linecap="round"/>
<path d="M139.1 1467V1256.5M152.2 1467V1288.3M153.4 1467V1288.3M154.7 1467V1288.3M173.3 1467V1306.8M259.7 1467V1288.3M430.8 1467V1290.2M515 1467V1334M516.8 1467V1334M550.1 1467V1332.6M598.5 1467V1340.6M599.8 1467V1340.6M607.4 1467V1311.4M639.6 1467V1361.8M644.9 1467V1340.6M646.1 1467V1340.6M707 1467V1316.7M707.8 1467V1316.7M787.4 1467V1316.7M788.2 1467V1316.7M796.6 1467V1341.5M797.4 1467V1341.5M861.6 1467V1313.6M862.4 1467V1313.6M908 1467V1326M908.8 1467V1326M973.4 1467V1254.9" fill="none" stroke="#B23E39" stroke-width="5.4" stroke-linecap="round"/>
<path d="M123 1467V1240.6M124.2 1467V1240.6M128.9 1467V1259.1M132.9 1467V1312.1M137.6 1467V1330.7M138.8 1467V1330.7M144.2 1467V1227.3M149.5 1467V1322.7M151.5 1467V1322.7M153.4 1467V1372.7M155.4 1467V1372.7M157.4 1467V1322.7M162.8 1467V1312.1M164 1467V1312.1M165.3 1467V1312.1M170.7 1467V1322.7M172 1467V1322.7M173.3 1467V1322.7M178.7 1467V1277.7M179.9 1467V1277.7M185.2 1467V1135.9M189.9 1467V1269.7M193.8 1467V1224.7M198.5 1467V1280.3M199.8 1467V1280.3M205.2 1467V1235.3M207 1467V1235.3M208.9 1467V1235.3M210.8 1467V1235.3M212.7 1467V1235.3M214.6 1467V1235.3M216.4 1467V1235.3M218.3 1467V1235.3M223.7 1467V1211.4M225.5 1467V1236.4M227.2 1467V1236.4M228.9 1467V1211.4M234.3 1467V1230M236.1 1467V1230M237.8 1467V1230M239.5 1467V1230M244.9 1467V1214.1M250.2 1467V1281.7M252 1467V1306.7M253.7 1467V1306.7M255.4 1467V1281.7M259.4 1467V1312.1M263.5 1467V1283M265.4 1467V1323M267.2 1467V1323M269.1 1467V1323M271 1467V1283M272.9 1467V1283M274.7 1467V1283M276.6 1467V1283M282 1467V1251.2M283.3 1467V1251.2M288.7 1467V1232.6M290.6 1467V1232.6M292.5 1467V1232.6M297.9 1467V1264.4M299.7 1467V1264.4M301.4 1467V1264.4M303.1 1467V1264.4M308.5 1467V1272.4M309.8 1467V1272.4M314.4 1467V1309.5M319.1 1467V1357.2M320.4 1467V1357.2M321.7 1467V1357.2M326.4 1467V1312.1M331.1 1467V1336M332.3 1467V1336M337.6 1467V1312.1M343 1467V1211.4M344.7 1467V1251.4M346.5 1467V1251.4M348.2 1467V1211.4M353.6 1467V1283M354.8 1467V1283M360.2 1467V1312.1M365.5 1467V1237.9M370.8 1467V1312.1M372.1 1467V1312.1M373.4 1467V1312.1M378.1 1467V1288.3M382.7 1467V1312.1M388 1467V1214.1M389.3 1467V1214.1M390.6 1467V1214.1M396 1467V1285.6M397.2 1467V1285.6M402.6 1467V1312.1M403.8 1467V1312.1M408.3 1467V1330.7M412.7 1467V1335.3M414.5 1467V1375.3M416.3 1467V1375.3M418.1 1467V1375.3M419.9 1467V1335.3M421.7 1467V1335.3M423.5 1467V1335.3M428.9 1467V1335.3M430.2 1467V1335.3M431.5 1467V1335.3M436.9 1467V1314.1M438.1 1467V1314.1M439.4 1467V1314.1M444.8 1467V1324.7M446.1 1467V1324.7M447.4 1467V1324.7M452 1467V1287.6M456.7 1467V1253.1M460.7 1467V1287.6M464.7 1467V1314.1M466.6 1467V1314.1M468.6 1467V1314.1M474 1467V1284.9M475.2 1467V1284.9M480.5 1467V1261.1M485.9 1467V1308.8M487.7 1467V1233.8M489.6 1467V1308.8M491.4 1467V1308.8M493.2 1467V1308.8M495.1 1467V1308.8M500.5 1467V1284.9M502.2 1467V1299.9M504 1467V1299.9M505.7 1467V1284.9M507.5 1467V1284.9M509.2 1467V1284.9M511 1467V1284.9M516.4 1467V1359.1M517.6 1467V1359.1M522.9 1467V1308.8M528.2 1467V1332.6M533.5 1467V1290.2M538.8 1467V1335.3M544.1 1467V1316.7M549.5 1467V1348.5M550.7 1467V1348.5M556.1 1467V1314.1M557.9 1467V1314.1M559.6 1467V1314.1M561.3 1467V1314.1M566 1467V1231.9M570.7 1467V1213.4M571.9 1467V1213.4M577.3 1467V1258.4M578.6 1467V1258.4M579.9 1467V1258.4M585.2 1467V1279.6M590.6 1467V1314.1M591.9 1467V1314.1M593.1 1467V1314.1M598.5 1467V1361.8M600.3 1467V1361.8M602 1467V1361.8M603.7 1467V1361.8M609.1 1467V1311.4M614.4 1467V1335.3M616.3 1467V1260.3M618.2 1467V1335.3M620.1 1467V1335.3M621.9 1467V1335.3M623.8 1467V1335.3M625.7 1467V1335.3M627.6 1467V1335.3M632.9 1467V1314.1M638.3 1467V1369.7M640 1467V1369.7M641.8 1467V1369.7M643.5 1467V1344.7M645.3 1467V1369.7M647 1467V1369.7M648.8 1467V1369.7M654.2 1467V1361.8M656.1 1467V1361.8M658.1 1467V1361.8M663.4 1467V1311.4M668.1 1467V1335.3M672.7 1467V1314.1M674 1467V1314.1M675.3 1467V1314.1M680.7 1467V1290.2M682 1467V1290.2M683.2 1467V1290.2M688.6 1467V1359.1M689.9 1467V1359.1M691.2 1467V1359.1M696.6 1467V1340.6M697.3 1467V1340.6M702.1 1467V1360M707 1467V1338.4M708.9 1467V1338.4M710.9 1467V1338.4M716.3 1467V1316.7M718.2 1467V1316.7M720.1 1467V1316.7M724.4 1467V1335.3M728.6 1467V1288.9M728.8 1467V1288.9M734.2 1467V1335.3M735.6 1467V1335.3M741 1467V1254.9M741.8 1467V1254.9M747.2 1467V1335.3M747.3 1467V1335.3M752.7 1467V1313.6M758 1467V1338.4M759.8 1467V1338.4M761.7 1467V1338.4M763.5 1467V1338.4M765.3 1467V1338.4M767.2 1467V1338.4M769 1467V1388.4M770.9 1467V1388.4M772.7 1467V1338.4M778.1 1467V1316.7M780 1467V1316.7M782 1467V1316.7M787.4 1467V1338.4M789.3 1467V1338.4M791.1 1467V1338.4M793 1467V1338.4M794.9 1467V1338.4M796.8 1467V1338.4M798.6 1467V1338.4M800.5 1467V1338.4M805.9 1467V1347.7M807.6 1467V1347.7M809.3 1467V1297.7M811 1467V1347.7M812.6 1467V1347.7M814.3 1467V1347.7M816 1467V1347.7M821.4 1467V1338.4M823.3 1467V1338.4M825.3 1467V1338.4M830.7 1467V1282.7M831.4 1467V1282.7M836.8 1467V1313.6M837.6 1467V1313.6M843 1467V1335.3M845 1467V1335.3M846.9 1467V1335.3M852.3 1467V1360M854 1467V1360M855.8 1467V1360M857.5 1467V1360M859.3 1467V1360M864.7 1467V1313.6M866.4 1467V1313.6M868.2 1467V1313.6M869.9 1467V1313.6M871.6 1467V1313.6M877 1467V1312.1M878.9 1467V1312.1M880.8 1467V1312.1M882.7 1467V1312.1M884.6 1467V1312.1M886.4 1467V1362.1M888.3 1467V1362.1M890.2 1467V1312.1M895.6 1467V1316.7M897.5 1467V1316.7M899.4 1467V1316.7M901.2 1467V1316.7M903.1 1467V1316.7M905 1467V1316.7M906.9 1467V1316.7M908.8 1467V1316.7M914.2 1467V1341.5M914.9 1467V1341.5M920.3 1467V1285.8M922 1467V1285.8M923.7 1467V1285.8M925.4 1467V1285.8M927 1467V1285.8M928.7 1467V1285.8M930.4 1467V1285.8M935.8 1467V1313.6M937.7 1467V1238.6M939.6 1467V1313.6M941.4 1467V1313.6M943.3 1467V1313.6M945.2 1467V1313.6M947.1 1467V1313.6M948.9 1467V1313.6M954.3 1467V1295.1M956.1 1467V1295.1M957.8 1467V1295.1M959.6 1467V1295.1M961.3 1467V1295.1M966.7 1467V1254.9M968.7 1467V1254.9M970.6 1467V1254.9M976 1467V1304.4M977.7 1467V1304.4M979.5 1467V1304.4M981.2 1467V1304.4M983 1467V1304.4M988.4 1467V1261.1M990.2 1467V1261.1M992.1 1467V1261.1M994 1467V1311.1M995.9 1467V1311.1M997.8 1467V1261.1M999.6 1467V1261.1M1001.5 1467V1261.1M1005.8 1467V1224M1009.6 1467V1186.9M1014.6 1467V1224M1015.8 1467V1224M1017 1467V1224M1022.4 1467V1261.1M1024.3 1467V1261.1M1026.3 1467V1261.1M1031.7 1467V1248.7M1033.6 1467V1248.7M1035.5 1467V1248.7" fill="none" stroke="#406FA9" stroke-width="5.4" stroke-linecap="round"/>
<path d="M189.4 1468.6V1451.4M190.4 1468.6V1451.4M221.2 1468.6V1450.1M222.7 1468.6V1450.1M224.2 1468.6V1450.1M225.7 1468.6V1450.1M227.1 1468.6V1450.1M228.6 1468.6V1450.1M230.1 1468.6V1450.1M229 1468.6V1427.6M348.8 1468.6V1454.1M140.7 1468.6V1454.1M578.9 1468.6V1458.7M679.5 1468.6V1448M679.7 1468.6V1448M990.3 1468.6V1448.5M991.8 1468.6V1448.5M993.4 1468.6V1448.5M994.9 1468.6V1448.5M996.5 1468.6V1448.5M998 1468.6V1448.5M999.6 1468.6V1448.5M1001.1 1468.6V1448.5M1002.7 1468.6V1448.5M1004.3 1468.6V1448.5M1005.8 1468.6V1448.5M998 1468.6V1439.2M999.4 1468.6V1439.2M1000.8 1468.6V1439.2M1002.2 1468.6V1439.2M1003.6 1468.6V1439.2M1005 1468.6V1439.2M1006.4 1468.6V1439.2M1005.7 1468.6V1422.2M1007.3 1468.6V1422.2M1008.9 1468.6V1422.2M1010.4 1468.6V1422.2M1012 1468.6V1422.2M974.8 1468.6V1448.5M975.6 1468.6V1448.5M976.4 1468.6V1448.5M889.8 1468.6V1451.6M890.6 1468.6V1451.6M891.4 1468.6V1451.6M812.5 1468.6V1451.6M812.5 1468.6V1451.6M774.9 1468.6V1454.7M785.6 1468.6V1453.1" fill="none" stroke="#C2413B" stroke-width="2.6"/>
<rect x="1035.6" y="1421" width="2.6" height="48" fill="#B5403A"/>
<rect x="987.8" y="1450" width="2.2" height="19" fill="#C9B36A"/>
<text x="114" y="1474.8" font-size="22.8" font-family='"Liberation Sans", sans-serif' text-anchor="end" font-weight="normal" >0</text>
<text x="114" y="1423.9" font-size="22.8" font-family='"Liberation Sans", sans-serif' text-anchor="end" font-weight="normal" >2</text>
<text x="114" y="1373" font-size="22.8" font-family='"Liberation Sans", sans-serif' text-anchor="end" font-weight="normal" >4</text>
<text x="114" y="1322.2" font-size="22.8" font-family='"Liberation Sans", sans-serif' text-anchor="end" font-weight="normal" >6</text>
<text x="114" y="1271.3" font-size="22.8" font-family='"Liberation Sans", sans-serif' text-anchor="end" font-weight="normal" >8</text>
<text x="114" y="1220.4" font-size="22.8" font-family='"Liberation Sans", sans-serif' text-anchor="end" font-weight="normal" >10</text>
<text x="114" y="1169.5" font-size="22.8" font-family='"Liberation Sans", sans-serif' text-anchor="end" font-weight="normal" >12</text>
<text x="114" y="1118.6" font-size="22.8" font-family='"Liberation Sans", sans-serif' text-anchor="end" font-weight="normal" >14</text>
<text x="114" y="1067.8" font-size="22.8" font-family='"Liberation Sans", sans-serif' text-anchor="end" font-weight="normal" >16</text>
<text x="114" y="1016.9" font-size="22.8" font-family='"Liberation Sans", sans-serif' text-anchor="end" font-weight="normal" >18</text>
<text x="122.2" y="1494.8" font-size="22.8" font-family='"Liberation Sans", sans-serif' text-anchor="middle" font-weight="normal" >0</text>
<text x="284.7" y="1494.8" font-size="22.8" font-family='"Liberation Sans", sans-serif' text-anchor="middle" font-weight="normal" >20</text>
<text x="467.5" y="1494.8" font-size="22.8" font-family='"Liberation Sans", sans-serif' text-anchor="middle" font-weight="normal" >40</text>
<text x="649.6" y="1494.8" font-size="22.8" font-family='"Liberation Sans", sans-serif' text-anchor="middle" font-weight="normal" >60</text>
<text x="832" y="1494.8" font-size="22.8" font-family='"Liberation Sans", sans-serif' text-anchor="middle" font-weight="normal" >80</text>
<text x="1015.2" y="1494.8" font-size="22.8" font-family='"Liberation Sans", sans-serif' text-anchor="middle" font-weight="normal" >100</text>
<text x="1103" y="1025.4" font-size="46" font-family='"Liberation Serif", serif' text-anchor="middle" font-weight="bold" transform="translate(0 1025) scale(1 1.04) translate(0 -1025)">C</text>
<text x="554" y="1538.7" font-size="29.5" font-family='"Liberation Serif", serif' text-anchor="middle" font-weight="bold" >Time</text>
<rect x="70" y="1557.6" width="1046" height="1" fill="#f3f3f3"/>
<rect x="69.3" y="1555.6" width="1" height="3.4" fill="#9a9a9a"/>
</g>
<g id="panelD">
<path d="M150.6 1668l1-5.8l1 7l1-5.4l1 9.4l1-7.5l1 9.6l1-7.7l1 6.1l1-5.7l1 7.1l1-6.3l1 8.2l1-6.1l1 6.1l1-6.3l1 5.3l1-4l1 8.8l1-5.3l1 5.9l1-7.7l1 8.3l1-4.6l1 9.3l1-6.6l1 8.6l1-8l1 7.9l1-8.3l1 7.6l1-5.6l1 7l1-8.5l1 7.5l1-6l1 8.2l1-8.8l1 7.5l1-9.4l1 6.7l1-6.6l1 5.6l1-6l1 7.9l1-7.2l1 6.7l1-6.5l1 7.1l1-6.3l1 7.3l1-6.1l1 8.2l1-7.4l1 5.3l1-6.6l1 7.8l1-7.8l1 4.8l1-4.4l1 7.3l1-6.6l1 9.5l1-8.5l1 7.9l1-9l1 7.2l1-6.1l1 7.8l1-6.8l1 6.8l1-7.8l1 8.6l1-5l1 7.2l1-9.5l1 6.6l1-5l1 6l1-5.6l1 6.7l1-6.8l1 7.8l1-9l1 10.1l1-10.5l1 8.7l1-8.3l1 7.4l1-6.1l1 9.1l1-10.2l1 7.7l1-8.1l1 7.5l1-8l1 5.5l1-7l1 7.1l1-6.7l1 9.8l1-7.5l1 7.8l1-3.7l1 7.8l1-7.4l1 7.1l1-5.5l1 4.5l1-8.8l1 8l1-8.6l1 7.4l1-6.5l1 7.4l1-6.7l1 8l1-7.5l1 5.5l1-5.6l1 7.4l1-7.5l1 9.5l1-6.7l1 5.8l1-5.4l1 5.3l1-6.6l1 8l1-6.2l1 5.8l1-5.9l1 6.5l1-7.8l1 9.8l1-9l1 6.8l1-5.6l1 7.9l1-9l1 8l1-5.3l1 5.8l1-8.4l1 5.5l1-6.5l1 6.2l1-7.2l1 7.5l1-7.3l1 6.7l1-5.6l1 6.4l1-6l1 7.4l1-8.3l1 7.2l1-5.9l1 7.1l1-7l1 7.3l1-8.2l1 7.6l1-8.2l1 5.5l1-8.4l1 7.6l1-6.9l1 9.1l1-7.2l1 7.6l1-6.6l1 8.9l1-4.9l1 5.5l1-6.9l1 6.6l1-8.2l1 6.6l1-6.6l1 8l1-6l1 5.1l1-6.2l1 6.6l1-5.1l1 6l1-7l1 7.5l1-7.5l1 7.9l1-6.2l1 4.6l1-6.3l1 6.1l1-6.8l1 8.5l1-8.6l1 8.6l1-7.7l1 8.4l1-8.5l1 6.5l1-7.6l1 6.8l1-7.2l1 7.9l1-5.7l1 7.3l1-5.7l1 5.4l1-7.5l1 9.4l1-7.9l1 6l1-6.9l1 6.7l1-8l1 8.7l1-5.7l1 7.9l1-7.9l1 6.5l1-8.5l1 6.1l1-5.3l1 6.7l1-8.2l1 7.6l1-7.3l1 9l1-7.4l1 6.3l1-7.6l1 8.2l1-7.5l1 8.4l1-7.3l1 6.9l1-9.6l1 8.8l1-6.6l1 6.6l1-8.2l1 9.3l1-7l1 6.1l1-7.9l1 7.9l1-5.2l1 6l1-5.9l1 7.2l1-5.7l1 7l1-6.6l1 5.3l1-6.3l1 6.1l1-7.2l1 7.1l1-7.5l1 8.2l1-6.6l1 6.3l1-9l1 7.6l1-7l1 4.4l1-5.1l1 5.8l1-6.7l1 9.4l1-9.2l1 8.2l1-8.2l1 7.2l1-6.9l1 7.4l1-5.7l1 9.3l1-8.7l1 7.2l1-7.9l1 7.2l1-7.1l1 6.5l1-8.2l1 8.1l1-9.3l1 8.3l1-7.6l1 8.7l1-7.2l1 5.7l1-7.9l1 8.2l1-7.5l1 7.3l1-7.6l1 6.5l1-4.7l1 6.2l1-7.4l1 9.2l1-9.8l1 9.8l1-6.7l1 7.5l1-8.2l1 8.8l1-6l1 7.3l1-6.9l1 8.2l1-7.4l1 6.2l1-7.3l1 8.6l1-7.6l1 5.1l1-7.7l1 7.9l1-8.8l1 8.6l1-7.5l1 4.2l1-5.5l1 8.9l1-7.4l1 5.2l1-6.6l1 8.2l1-8.1l1 9.2l1-8.1l1 8.1l1-7.5l1 7.1l1-6.2l1 6.6l1-5.9l1 7.8l1-7.9l1 8.3l1-7.9l1 5.4l1-5.5l1 5.3l1-4.2l1 5.4l1-9.3l1 6.3l1-7.2l1 6.7l1-4.3l1 6.8l1-8.2l1 6.9l1-7.3l1 7.3l1-5.4l1 7.6l1-5.5l1 6.3l1-6.7l1 8.1l1-7.5l1 4.9l1-6.8l1 7.4l1-8l1 6.9l1-5.3l1 8.8l1-7.6l1 8.3l1-8.5l1 6.3l1-6.3l1 6.7l1-7.9l1 9.5l1-7.8l1 7.9l1-8l1 7.9l1-5.7l1 8l1-8.9l1 7.3l1-9l1 7.7l1-7.5l1 7.8l1-7.5l1 5.9l1-7.2l1 6.4l1-4.1l1 4l1-5.6l1 5.4l1-7.3l1 10.2l1-7.5l1 8.5l1-9.5l1 5.7l1-5.4l1 8l1-8.5l1 6.2l1-5.3l1 4.8l1-4.6l1 4.4l1-8.4l1 8.2l1-8.1l1 9.1l1-7.9l1 7.3l1-7.6l1 9.6l1-8.2l1 8.7l1-8.8l1 7.5l1-5.4l1 6.5l1-6.2l1 6.7l1-7.9l1 4.4l1-5l1 4.9l1-6.6l1 6l1-7.7l1 9.6l1-6.5l1 6.1l1-5.2l1 5.3l1-8.5l1 5.6l1-4.7l1 6.6l1-5.9l1 7.5l1-7.5l1 7.6l1-6.3l1 7.3l1-7.3l1 5.7l1-7l1 6.9l1-7l1 9l1-7.9l1 8.4l1-6.8l1 7.9l1-7.4l1 4.7l1-5.8l1 8.3l1-9.9l1 6.6l1-6.5l1 7.1l1-7.4l1 8.7l1-7.1l1 5.4l1-6l1 7.6l1-8.2l1 10.8l1-10.6l1 7.6l1-5.2l1 7.7l1-7.7l1 7.7l1-9.7l1 7l1-6.6l1 5.1l1-6.5l1 6.2l1-7.6l1 6.9l1-6.8l1 8.8l1-7.6l1 8.3l1-6.8l1 7l1-7.4l1 7l1-8l1 6.6l1-5.5l1 5.8l1-4.5l1 3.7l1-5.1l1 4.6l1-6.3l1 6.5l1-6.6l1 7.5l1-7.3l1 7l1-9.4l1 8.3l1-6.3l1 7.5l1-6.5l1 9l1-7.2l1 6.4l1-6.4l1 7.1l1-8.3l1 5.5l1-4.9l1 6.5l1-7.1l1 8.2l1-5l1 6.5l1-7.1l1 5.2l1-6.9l1 7.1l1-5.5l1 7.1l1-9l1 8l1-7.7l1 6.5l1-8.5l1 9.8l1-7.2l1 7.3l1-7.4l1 8.1l1-8.3l1 6.3l1-7.3l1 5.7l1-5.1l1 6.6l1-5.9l1 7l1-5l1 6.8l1-6.8l1 4.3l1-4.4l1 5.4l1-5l1 7.4l1-7.6l1 6.7l1-7.2l1 4.3l1-5.6l1 7.4l1-7l1 6.4l1-7.2l1 8.1l1-7.4l1 7.8l1-8.5l1 7.3l1-6.5l1 4.6l1-6.5l1 4.9l1-5.4l1 7.7l1-8l1 9.3l1-6.6l1 6.6l1-7.9l1 6.9l1-6.9l1 5.9l1-7.1l1 7l1-7.7l1 6.9l1-7.9l1 9.8l1-8l1 6.2l1-9.2l1 7.7l1-7.7l1 7.2l1-6.6l1 7l1-6l1 6.3l1-5.2l1 8.7l1-8.5l1 5.6l1-5.9l1 6.8l1-6.4l1 6l1-7.9l1 6.7l1-7l1 5.4l1-5.5l1 8.2l1-6.2l1 6.3l1-8.2l1 6.2l1-5.7l1 8.9l1-8.3l1 8.9l1-5.5l1 8.2l1-8.6l1 4.6l1-4.6l1 5.4l1-6.4l1 7.3l1-8.4l1 7.7l1-7.4l1 8.2l1-6l1 6.9l1-5.3l1 5.9l1-4.1l1 4.8l1-6.6l1 6.1l1-6.7l1 9l1-7l1 3.1l1-8l1 8.7l1-8.5l1 9.5l1-9.8l1 4.7l1-5.4l1 6.2l1-6.4l1 8l1-5.9l1 6.9l1-6.1l1 6l1-9.1l1 8l1-6l1 6.2l1-7.1l1 6l1-4.4l1 7l1-8l1 8l1-6.2l1 8.5l1-8.3l1 8.1l1-6.3l1 7.1l1-8.1l1 6.8l1-8l1 7.5l1-8.9l1 7.9l1-8l1 4.7l1-5.7l1 8l1-5.9l1 7.1l1-6.3l1 5.9l1-8.5l1 7.2l1-7.4l1 6.7l1-6.2l1 6.4l1-8l1 8l1-6.2l1 6.5l1-7.5l1 8l1-5.3l1 7l1-6.3l1 6.7l1-6.3l1 6.1l1-5.5l1 6.7l1-6.9l1 6.4l1-7.5l1 7.2l1-8.7l1 7.5l1-6.9l1 7.1l1-6.9l1 6.6l1-3.4l1 3.9l1-7.3l1 7.3l1-6.7l1 7.9l1-8.6l1 7.6l1-7.6l1 6.8l1-5.7l1 6.1l1-5.2l1 6.6l1-9.9l1 5.1l1-5.4l1 6.7l1-6.7l1 6.7l1-5.6l1 5.7l1-4.6l1 6.1l1-4.8l1 6.8l1-7.5l1 5.3l1-6.6l1 8.1l1-9.7l1 7l1-7.7l1 8.8l1-6.5l1 8.6l1-6.5l1 6.5l1-8.4" fill="none" stroke="#406FA9" stroke-width="2.6" stroke-linejoin="round" stroke-linecap="round" />
<path d="M150.6 1672.7l1-7.7l1 9.4l1-6.1l1 7.2l1-5.6l1 6.4l1-6l1 9.6l1-7.1l1 8.3l1-5.9l1 9.4l1-10.9l1 7.8l1-7.9l1 5.4l1-6.1l1 10.8l1-8.4l1 6.4l1-7.4l1 9.9l1-7.5l1 8.1l1-8.9l1 9.4l1-7.7l1 8.2l1-8l1 5.7l1-6.9l1 8.9l1-8.4l1 8.1l1-8l1 11l1-9.1l1 6.9l1-7l1 6.6l1-7.3l1 9.8l1-9.6l1 8.9l1-9.1l1 7.5l1-7.9l1 8.6l1-7l1 8.9l1-6.6l1 7.2l1-8.5l1 9.8l1-9.7l1 7.4l1-8l1 7.7l1-9.1l1 7.3l1-8.6l1 8.5l1-6.4l1 7.3l1-8.8l1 10.8l1-9.5l1 8l1-6.7l1 9.3l1-10.7l1 10.1l1-10l1 10.5l1-10.3l1 9.6l1-9.5l1 7.8l1-9l1 6.4l1-11.4l1 9l1-7.2l1 8.5l1-9.1l1 7.3l1-8.1l1 10.4l1-3.6l1 9.3l1-6.3l1 10.4l1-7.9l1 5.4l1-6.5l1 10.2l1-9.2l1 9.5l1-5.2l1 7.7l1-8.3l1 8.3l1-5.7l1 6.2l1-6.3l1 7.4l1-9.8l1 10.1l1-8.5l1 9.1l1-7.3l1 8.6l1-8.4l1 9.7l1-9.5l1 8.7l1-5.1l1 7.3l1-7.5l1 8.8l1-6.6l1 7l1-8l1 7l1-7.4l1 8.8l1-7.9l1 9.1l1-8.2l1 11l1-8.9l1 7.4l1-8.7l1 9l1-8.9l1 8.8l1-8.8l1 8.3l1-6.3l1 8.7l1-6.8l1 7.2l1-5.9l1 9.3l1-8.3l1 6.8l1-7.8l1 9.3l1-8l1 6.7l1-8.1l1 6.1l1-9.2l1 10.7l1-6.3l1 7.9l1-8.7l1 9.9l1-7.5l1 6.3l1-6.9l1 9.4l1-7.7l1 9.7l1-9.8l1 9.2l1-9.1l1 7.6l1-10.2l1 8.6l1-5.6l1 6.9l1-6l1 10.3l1-10l1 7.1l1-8.9l1 7.6l1-6.5l1 7.4l1-9.1l1 8.7l1-8.6l1 6.6l1-6.8l1 6.3l1-5.8l1 6.5l1-8.3l1 8.3l1-9l1 11l1-7.5l1 6.5l1-6.8l1 6.5l1-8.5l1 7.9l1-8.7l1 9l1-7.7l1 7.9l1-8l1 8.6l1-7.8l1 6.2l1-6.6l1 5.1l1-6.8l1 7.3l1-10.1l1 9.7l1-5.6l1 7.9l1-8l1 4.7l1-7.2l1 9.4l1-10.4l1 7l1-6.6l1 9.3l1-8.4l1 7.5l1-6.6l1 7.8l1-7.1l1 8.2l1-7.7l1 6.8l1-9.1l1 10.7l1-9.7l1 6.6l1-7l1 8.3l1-8.8l1 9.2l1-7.8l1 9.8l1-10.1l1 8.9l1-4.8l1 7.7l1-9.6l1 7.8l1-7.9l1 8.2l1-7.2l1 6.4l1-4.4l1 6.4l1-7.9l1 7.5l1-5.5l1 7.2l1-7.8l1 6.9l1-7.9l1 6.7l1-7.1l1 9.3l1-9.2l1 10.2l1-7.8l1 6.7l1-6.9l1 7.5l1-9.1l1 6.6l1-7.2l1 7.3l1-8.7l1 8l1-7.5l1 7.6l1-5.4l1 8l1-7.6l1 7.7l1-8.7l1 6.5l1-5.9l1 9.6l1-8.6l1 4.7l1-6.4l1 9l1-8.3l1 7.8l1-8.9l1 8.4l1-5l1 6.7l1-7.4l1 7.9l1-5.6l1 6.2l1-7.1l1 6.9l1-9.7l1 7l1-9.3l1 9.5l1-7.7l1 9.6l1-10.3l1 10l1-7.5l1 7.6l1-7.6l1 5.9l1-7.5l1 8.2l1-6.9l1 7l1-9.2l1 11.4l1-8.7l1 6.9l1-7.1l1 7.8l1-8.6l1 7.7l1-7l1 7.9l1-8.2l1 7l1-8.8l1 7l1-9l1 10.6l1-8.2l1 8.3l1-4.3l1 7l1-7.5l1 8.1l1-7.2l1 6.1l1-5.7l1 7.6l1-10.9l1 9.6l1-5.6l1 8.2l1-8.8l1 7.3l1-7.2l1 8.2l1-9.4l1 8.1l1-8.9l1 10.1l1-10.4l1 8.4l1-6.3l1 6.4l1-8.1l1 8.3l1-7l1 9.1l1-7.8l1 8.1l1-8.1l1 9.2l1-9.7l1 8.1l1-8.3l1 7.6l1-8.9l1 8.2l1-9.4l1 8l1-6.9l1 9.8l1-8.5l1 9.5l1-5.4l1 7.8l1-9.6l1 9.3l1-8.4l1 7.5l1-8.1l1 7.5l1-8.3l1 8.2l1-7.6l1 8.5l1-6.6l1 7.8l1-10.2l1 8.4l1-10.8l1 9.5l1-9.2l1 9.9l1-9.4l1 10.4l1-8.9l1 7.4l1-8l1 8.7l1-7.1l1 6l1-7.3l1 8.8l1-8.5l1 6.2l1-6.6l1 6.3l1-8.2l1 8.2l1-8.3l1 7.5l1-6.8l1 8.6l1-7l1 7.7l1-7.8l1 8.5l1-7.1l1 9.2l1-7.2l1 6.6l1-5.9l1 4.9l1-9.3l1 9l1-7.1l1 6l1-7.1l1 6.6l1-7.1l1 9l1-10.3l1 9l1-8.6l1 7.9l1-9.6l1 7.3l1-9.5l1 9.8l1-7.1l1 6.1l1-5.3l1 8l1-7.3l1 8.4l1-7.9l1 6.8l1-7.8l1 7.2l1-6.4l1 7.7l1-8.9l1 10.2l1-9.8l1 8.2l1-10.1l1 9.3l1-8.1l1 7.6l1-8.6l1 6.6l1-7.1l1 9l1-5.3l1 6.6l1-8.1l1 9.1l1-7.8l1 6.6l1-7l1 7.8l1-8.9l1 8.4l1-10.3l1 10.3l1-7.6l1 8.3l1-10.6l1 10.1l1-9.4l1 10.4l1-8.9l1 6.2l1-8.8l1 8.8l1-7.4l1 8.2l1-7.1l1 5.7l1-7.9l1 9.1l1-8l1 9.7l1-7.3l1 8.6l1-8.1l1 8.7l1-8.6l1 8l1-8.7l1 7.2l1-9.4l1 10.1l1-9l1 10.3l1-8.5l1 7l1-7.7l1 6.5l1-6.1l1 9.8l1-8.5l1 6.8l1-6.9l1 7.4l1-7.6l1 9.1l1-7.8l1 5.8l1-8.1l1 7l1-7.6l1 7.1l1-7l1 8.4l1-9.4l1 8.1l1-8.5l1 8.4l1-8.7l1 8.4l1-7.9l1 5.8l1-8l1 9.7l1-8.8l1 9.8l1-8.8l1 7.3l1-7.9l1 7.2l1-7.7l1 8.3l1-6.7l1 5.9l1-6.3l1 7.7l1-6.9l1 7.3l1-7.9l1 8l1-9.4l1 9.1l1-6.7l1 7.2l1-6.9l1 8l1-8.5l1 6.4l1-6.8l1 5.6l1-6.8l1 9.5l1-8l1 7.3l1-6.6l1 6.1l1-8.6l1 8l1-7.5l1 6.6l1-7.3l1 9.4l1-10.6l1 8.3l1-6.5l1 6l1-7.5l1 9.3l1-6.1l1 8.3l1-8l1 8.3l1-10.3l1 7.7l1-7.5l1 8.5l1-9.5l1 8.9l1-9l1 7.5l1-6.3l1 8.3l1-6.2l1 5.5l1-6.1l1 6.3l1-7.7l1 6.8l1-6.6l1 8.3l1-9.4l1 10l1-8.1l1 7.4l1-8.3l1 7.7l1-7.2l1 9.5l1-9.9l1 8.5l1-7.5l1 6.5l1-8.8l1 9.7l1-8.3l1 7.2l1-6.1l1 4.6l1-6.9l1 7.8l1-6.8l1 9.8l1-8.5l1 7.6l1-7.4l1 7.1l1-7.3l1 6.7l1-9.5l1 9l1-7.7l1 8.3l1-8.2l1 7.5l1-8.3l1 7.9l1-7.5l1 7.5l1-8.5l1 8.8l1-9.6l1 9.3l1-8.9l1 10l1-9.6l1 10.6l1-10.9l1 9.8l1-10.1l1 7.2l1-7l1 7.5l1-7.6l1 8.8l1-9l1 10.3l1-10l1 7.9l1-4.6l1 6.9l1-7.3l1 8l1-9.6l1 4.9l1-6.7l1 7l1-6.1l1 7.1l1-8.2l1 9.1l1-7.6l1 8.3l1-10.3l1 8l1-9.2l1 7.3l1-7.1l1 7.3l1-6.3l1 8.4l1-8.4l1 10.4l1-9.1l1 9.1l1-7.9l1 7.9l1-8.4l1 9.6l1-9l1 10l1-8.9l1 5.3l1-9.2l1 9.5l1-7.8l1 6.1l1-8l1 11l1-10.7l1 8.5l1-6.7l1 9.3l1-9.3l1 8l1-8l1 8.9l1-10.7l1 8.4l1-7.3l1 7.8l1-8.9l1 10.7l1-9.8l1 6.9l1-8.8l1 8.8l1-9.4l1 10.4l1-9.4l1 9.8l1-9.3l1 9.9l1-9.4l1 9.2l1-10l1 10.1l1-9l1 6l1-7.3l1 7.9l1-5.7l1 9.3l1-9.2l1 9.3l1-8.8l1 9.3l1-8.4l1 4.6l1-6.2l1 6.7l1-7.9l1 8.2l1-7.7l1 8.9l1-9.6l1 9.5l1-8.7l1 7.2l1-6.1l1 7.5l1-7.4l1 8.3l1-7.8l1 10.2l1-10l1 9.5l1-8.7l1 9.9l1-7.6l1 8.1l1-7.3l1 6.1l1-6.5" fill="none" stroke="#B23E39" stroke-width="2.6" stroke-linejoin="round" stroke-linecap="round" />
<path d="M150.6 1672.5l1-5.6l1 9.9l1-8.3l1 8.8l1-5.2l1 10.1l1-7.8l1 12l1-8l1 6.5l1-6.9l1 9.2l1-5.4l1 8.1l1-9.1l1 10.5l1-8.2l1 6.9l1-6.8l1 8.9l1-9.8l1 6.4l1-7.6l1 8.1l1-9.4l1 7l1-8.2l1 9l1-10.5l1 5.8l1-6.5l1 9.4l1-7l1 9l1-7.9l1 10.3l1-8.1l1 11.5l1-9.5l1 8.7l1-9.2l1 8.1l1-7.4l1 7.4l1-7.2l1 6.7l1-6.8l1 7l1-10.4l1 8.9l1-6.4l1 8.5l1-7l1 6.4l1-7.7l1 7.4l1-9.2l1 11.1l1-8.9l1 8.2l1-9.3l1 7.3l1-9.1l1 8.1l1-7.9l1 8.9l1-10.3l1 7.5l1-7.2l1 8.3l1-6.5l1 5.7l1-6l1 8.8l1-9.8l1 8.6l1-9l1 8.7l1-7.6l1 7.8l1-7.6l1 8.7l1-9.3l1 7.8l1-7.6l1 8.9l1-9.2l1 7.9l1-7.2l1 8.3l1-7.3l1 7.4l1-7.6l1 7.1l1-7.7l1 8.9l1-7.7l1 8l1-7.9l1 6.2l1-5.1l1 7.8l1-7.4l1 6.9l1-8.2l1 9.9l1-9.7l1 8.6l1-7.9l1 6.4l1-7.5l1 8.9l1-8.8l1 7.1l1-7.7l1 8.4l1-9l1 8.8l1-8.4l1 8.7l1-7.6l1 8.5l1-8l1 9l1-9.1l1 9.1l1-8l1 7.5l1-7.4l1 5.8l1-8.1l1 10.3l1-10.2l1 6.9l1-9.4l1 9.9l1-9.2l1 7.3l1-8.9l1 7.3l1-6.2l1 7.8l1-8l1 7.8l1-7.1l1 9.2l1-9l1 8.8l1-9.4l1 10.4l1-7.4l1 8.5l1-7.7l1 9.4l1-9.6l1 9.1l1-6.3l1 7.4l1-7.5l1 7.3l1-7.1l1 7.1l1-6.9l1 6.6l1-7.1l1 6.6l1-8.5l1 6.6l1-9.1l1 8.9l1-8.3l1 8.1l1-8.2l1 8.1l1-9.5l1 10l1-8.8l1 9.2l1-7.2l1 7.6l1-7.6l1 8.6l1-12.7l1 10.2l1-9.3l1 8.2l1-4.9l1 7.2l1-5.7l1 7.7l1-7.5l1 9.7l1-9.1l1 8l1-5.3l1 5.2l1-6.7l1 5.7l1-6.7l1 8.7l1-7.8l1 7.2l1-7.3l1 7.9l1-7.5l1 7.3l1-10.8l1 9l1-9.5l1 8.2l1-9.5l1 8.3l1-6l1 9.9l1-9.1l1 7.5l1-7.6l1 7.9l1-8.2l1 7l1-6.9l1 5.9l1-6.9l1 6.5l1-6.8l1 9.8l1-8.7l1 8.4l1-9.9l1 6.9l1-7.9l1 7.8l1-6.9l1 7.4l1-9l1 9.1l1-4.9l1 7.7l1-7.9l1 7l1-7.8l1 8.3l1-7.9l1 8.8l1-10.1l1 7.7l1-8.9l1 9.7l1-9.7l1 6.9l1-7l1 9.5l1-9.3l1 7.9l1-8.2l1 6.9l1-5.8l1 7.3l1-6.6l1 7.3l1-8.5l1 7.5l1-5.4l1 6.8l1-8.7l1 5.7l1-9.1l1 10.4l1-9.4l1 6.9l1-5.5l1 8.8l1-7.9l1 6.6l1-8.5l1 9.5l1-7.6l1 6.9l1-6.8l1 7.6l1-7.7l1 9.7l1-8.6l1 7.8l1-9.7l1 9.3l1-10.8l1 10.3l1-10.3l1 9.6l1-5.9l1 7.9l1-7.9l1 8.1l1-8.6l1 8.7l1-7.1l1 7.9l1-7.7l1 8.1l1-7l1 7.6l1-6.9l1 6l1-8.2l1 9.4l1-8.3l1 6.4l1-7l1 11.2l1-8.6l1 9.7l1-8.7l1 7l1-9.1l1 9.4l1-8.3l1 6.1l1-6.2l1 6.6l1-7.6l1 7.8l1-6.2l1 6.1l1-9.3l1 10.2l1-7.4l1 6.7l1-8.6l1 8.6l1-6.7l1 9l1-9.9l1 8.6l1-8.5l1 9l1-8.7l1 10l1-8.4l1 8.6l1-9.3l1 8.6l1-9.8l1 10.5l1-9l1 7l1-7l1 6.5l1-7.2l1 8.4l1-7.6l1 6.3l1-7l1 7.2l1-7.9l1 7.4l1-8.4l1 9l1-6.3l1 7.2l1-8l1 6.2l1-7.4l1 9.9l1-8.4l1 8.7l1-9l1 6.5l1-7.4l1 8.6l1-10.1l1 10.4l1-10.5l1 9l1-9.4l1 9.2l1-6.5l1 6.7l1-7.7l1 6.6l1-7.4l1 8.1l1-10.1l1 9.7l1-7.3l1 7.4l1-7.4l1 8l1-5.8l1 8.7l1-7l1 6.9l1-7.3l1 9l1-9.3l1 9.1l1-8.2l1 7l1-7.8l1 9.3l1-8l1 10.2l1-10.2l1 7.4l1-7.7l1 8.1l1-9.3l1 10l1-8l1 8.7l1-8.1l1 6.5l1-6.8l1 7.8l1-7.4l1 8.7l1-7.3l1 9.1l1-10.2l1 7l1-7.1l1 8.8l1-8.7l1 10l1-9.4l1 9.5l1-7.7l1 8.4l1-9.1l1 7.1l1-6.8l1 7.9l1-8.8l1 10l1-7.7l1 8.4l1-7.7l1 7.9l1-8.1l1 7.8l1-6.6l1 8.6l1-9.9l1 9.4l1-9.3l1 9.4l1-7l1 6.4l1-7.8l1 7.9l1-9.7l1 9l1-7.2l1 6.4l1-5.2l1 7.4l1-7.2l1 9.8l1-8.7l1 6.4l1-7.7l1 10.9l1-8.8l1 9.1l1-8.4l1 9.6l1-9.6l1 9l1-7.6l1 7.7l1-7.8l1 7.1l1-7.6l1 10l1-8.9l1 7.8l1-7.1l1 7.6l1-9.8l1 10.6l1-9.9l1 7.9l1-7.7l1 9.2l1-6.2l1 8.1l1-7.3l1 8.5l1-9.1l1 8.4l1-5.9l1 8.3l1-11.4l1 7.2l1-7.7l1 9.3l1-7.2l1 8.8l1-6.7l1 8.2l1-8.9l1 5.4l1-7.1l1 7.4l1-6.3l1 8.9l1-9.8l1 9.6l1-10l1 6.8l1-5.1l1 5.2l1-6.6l1 6.2l1-8l1 8l1-8.1l1 6.9l1-9.1l1 8.5l1-6.1l1 9l1-8.6l1 7.4l1-5.5l1 6.3l1-8.1l1 9.4l1-7.2l1 8.2l1-7.9l1 8l1-6.6l1 8.2l1-8l1 9.7l1-10.1l1 6.9l1-8.4l1 6.6l1-7.5l1 9.3l1-8.8l1 8.2l1-8.7l1 9l1-7.5l1 7.4l1-8.9l1 10l1-8.7l1 9.6l1-8.5l1 7l1-8.7l1 7.7l1-6.6l1 8l1-8.3l1 7.3l1-7.6l1 8.4l1-8.9l1 8.4l1-7.4l1 6.7l1-8.1l1 7.8l1-7.6l1 8.9l1-10.3l1 10.5l1-10.6l1 8.3l1-8.9l1 9.5l1-7.8l1 8.8l1-9.2l1 6.3l1-7l1 7.1l1-4.2l1 9.4l1-10.9l1 8.9l1-7.5l1 5.8l1-6.7l1 8.6l1-9.5l1 9.4l1-7.7l1 8.7l1-9.6l1 9l1-7.9l1 8.1l1-6.1l1 6.6l1-7.6l1 6.8l1-7.5l1 8.4l1-9.3l1 6.3l1-7.1l1 9l1-5.9l1 6.8l1-10.1l1 9.2l1-7l1 8.4l1-10.8l1 8l1-7l1 7.9l1-8.5l1 10.1l1-8l1 8.6l1-7.8l1 7.5l1-8.4l1 8.8l1-8l1 8.3l1-7.5l1 7.3l1-9.3l1 7.3l1-7.7l1 9.8l1-9.1l1 9.3l1-7.1l1 7.4l1-9.1l1 8.4l1-7l1 6.7l1-7.1l1 8l1-7.4l1 5.4l1-8.1l1 8.5l1-7l1 8.8l1-8.6l1 7.9l1-6.3l1 7.6l1-6.1l1 6.6l1-8l1 9.7l1-11.3l1 9.1l1-7.5l1 8.5l1-7.3l1 8.7l1-9.4l1 7l1-7.7l1 8.3l1-7.7l1 5.8l1-9.1l1 8.4l1-7.3l1 10.4l1-9.6l1 7.9l1-8l1 8.3l1-9l1 8l1-8.8l1 7.5l1-7.4l1 7.8l1-6.9l1 5.8l1-9.5l1 8.1l1-9.8l1 8.5l1-6.9l1 9.5l1-8.4l1 9.5l1-7l1 7.5l1-7.7l1 6.8l1-7.9l1 8.2l1-6.9l1 4.5l1-5.6l1 8.1l1-6.8l1 6.2l1-6.8l1 5.7l1-8.4l1 10.2l1-10.1l1 10.8l1-10.1l1 10.1l1-8l1 7.8l1-9l1 9.3l1-7.4l1 9.2l1-8.5l1 5.8l1-6.3l1 6.5l1-10l1 8.3l1-7.9l1 9.7l1-10.1l1 9.1l1-8.1l1 9.2l1-9l1 9.3l1-7.5l1 5.7l1-7.1l1 6.3l1-4.2l1 7.4l1-8.8l1 8.8l1-8.1l1 7.9l1-8.3l1 8.8l1-8.4l1 9.2l1-9.1l1 5.8l1-8.8l1 8.5l1-7l1 8l1-8.4l1 7.9l1-8.4l1 5.9l1-8l1 8.4l1-5.7l1 6.6l1-7.3l1 7.9l1-8.5l1 10.1l1-8.5l1 7.9l1-9.4" fill="none" stroke="#88A74B" stroke-width="2.6" stroke-linejoin="round" stroke-linecap="round" />
<path d="M150.6 1659.8l1-10l1 12.5l1-6.5l1 11.5l1-7.4l1 8.9l1-4.7l1 8.3l1-7.6l1 9.1l1-5.7l1 8.8l1-8.5l1 9l1-5.2l1 8.3l1-7.1l1 9.8l1-10.9l1 9.9l1-8l1 10.6l1-6.2l1 9.7l1-9.6l1 9.3l1-6.9l1 6.6l1-7.2l1 8l1-6.4l1 9.3l1-7.2l1 7.9l1-9.2l1 10.2l1-7.3l1 9.9l1-12.1l1 10.6l1-8l1 6.9l1-8.3l1 11.9l1-8.3l1 8.3l1-8.7l1 8l1-10.2l1 11.1l1-10.9l1 8.3l1-8l1 8.3l1-10.9l1 10.9l1-7.6l1 9.4l1-8.2l1 6.9l1-7.2l1 8.1l1-7.1l1 8.4l1-8.4l1 9.8l1-8.9l1 9.4l1-6.8l1 8.1l1-11.3l1 8.3l1-9l1 8.4l1-8.2l1 9.1l1-6.6l1 8.2l1-8.5l1 8.4l1-6.5l1 8.3l1-10.5l1 9.7l1-9.9l1 9.5l1-8.9l1 9.1l1-6.6l1 6.4l1-8.2l1 9l1-8.2l1 9.4l1-7.8l1 7.1l1-7.8l1 8.6l1-9.8l1 11.9l1-10.1l1 7.1l1-8.9l1 8.4l1-8.5l1 8.1l1-6.6l1 8.4l1-10.1l1 6.1l1-8.2l1 10.5l1-8.8l1 7.6l1-8.4l1 10.4l1-8.7l1 9.9l1-11.6l1 9.9l1-7.7l1 8.8l1-9.9l1 10.2l1-9.5l1 8.8l1-6.7l1 8.8l1-11.8l1 7.6l1-7.8l1 11.2l1-11.1l1 10l1-10.9l1 8.5l1-9.6l1 10.7l1-10.2l1 9.6l1-7.1l1 9.4l1-10.6l1 7.7l1-7.6l1 8.1l1-9.9l1 8.2l1-6l1 9.4l1-9.2l1 9.2l1-9.6l1 9.8l1-9.2l1 9.3l1-10l1 9.9l1-8.9l1 8.7l1-7.1l1 9.3l1-11l1 10.6l1-8.9l1 10l1-9.7l1 8.8l1-10.8l1 9l1-9.4l1 9.8l1-7.9l1 9.9l1-10.1l1 9.4l1-8.7l1 7.9l1-10.8l1 10.9l1-10l1 9.3l1-10.5l1 9.8l1-10.5l1 8.8l1-10.6l1 10.5l1-7.4l1 8l1-7.4l1 7.1l1-6.2l1 6.9l1-6.8l1 9.7l1-8.7l1 8.1l1-11.5l1 7.8l1-10.2l1 11.2l1-9.5l1 9.1l1-7.5l1 8.2l1-9.6l1 9.8l1-9.3l1 8.7l1-9.5l1 9.4l1-10.2l1 8.9l1-7.9l1 7.5l1-9.6l1 9.6l1-9.6l1 11l1-7.1l1 8.5l1-8.9l1 9.2l1-10.6l1 9.1l1-7.8l1 8.7l1-7.8l1 8l1-8.3l1 6.8l1-9.5l1 8.3l1-8.4l1 9.5l1-11.1l1 9.2l1-7.9l1 12l1-9.9l1 8l1-6.6l1 7.4l1-10.2l1 6.9l1-5.8l1 6l1-6.7l1 6.6l1-8.4l1 8l1-8.3l1 9.2l1-9.1l1 8.8l1-7.4l1 10.2l1-10.3l1 10.3l1-7.5l1 7.6l1-8.7l1 7.2l1-7.5l1 8.8l1-10.5l1 8.7l1-9.9l1 12.3l1-11.6l1 10.2l1-7.9l1 10l1-10.3l1 8.6l1-9.2l1 9.4l1-10l1 11.8l1-10.4l1 6.7l1-8.8l1 7.6l1-7.8l1 8.8l1-5.3l1 9.7l1-9l1 7l1-6.9l1 8.3l1-8.2l1 10.8l1-9.8l1 11.5l1-9.8l1 8.5l1-8.6l1 5.5l1-9.5l1 9.5l1-9.8l1 7.1l1-8.3l1 10.4l1-8.5l1 8l1-8.7l1 7.9l1-9.5l1 10.7l1-9.8l1 10.1l1-9l1 8.1l1-7.6l1 9.8l1-9.6l1 9.9l1-8.1l1 7.5l1-9.8l1 7.3l1-7l1 8.6l1-9.8l1 9.5l1-8.6l1 6.8l1-6.8l1 6.8l1-8.2l1 6.9l1-8.5l1 9.8l1-8.2l1 8.7l1-11l1 11.2l1-10.6l1 9.7l1-8.5l1 8.9l1-7.6l1 8l1-8.4l1 8.6l1-12.3l1 11.2l1-10.7l1 10.4l1-9.4l1 8l1-7.6l1 8.7l1-9.6l1 11.1l1-12.2l1 9.5l1-6.8l1 8.8l1-7.9l1 6.2l1-6.3l1 8.4l1-6.7l1 7l1-9.2l1 10.2l1-10.2l1 9.1l1-8.7l1 10.6l1-8.6l1 10.4l1-9.7l1 8.9l1-9.4l1 9.2l1-9.2l1 9.2l1-7.3l1 9.1l1-8.4l1 6.3l1-6.4l1 7.2l1-8.6l1 10.2l1-9.6l1 8l1-8.6l1 8.9l1-9.7l1 7.4l1-9.3l1 8.7l1-8.5l1 9.5l1-8.1l1 7.5l1-9l1 9.6l1-9.8l1 9.7l1-8.8l1 8.4l1-10l1 9.4l1-8.4l1 10.1l1-6.3l1 8.7l1-10.3l1 8.8l1-9.5l1 8.8l1-9.9l1 9.3l1-6.6l1 7.6l1-7.7l1 8.9l1-8.5l1 8.3l1-8.9l1 8.4l1-10.1l1 9.8l1-8.4l1 7.5l1-8.8l1 10.2l1-9.3l1 9.3l1-9.1l1 11.1l1-10.9l1 9.3l1-10.1l1 7.2l1-7.2l1 6.6l1-7l1 8.3l1-8.8l1 9.2l1-10.6l1 10.2l1-7.4l1 10.1l1-7.5l1 5.3l1-8.3l1 8.6l1-7.4l1 8.7l1-6.9l1 7.3l1-9.8l1 9l1-9l1 8.9l1-7.2l1 7.8l1-8.5l1 8.8l1-11.7l1 8.1l1-6.5l1 8.7l1-7.9l1 9.7l1-9.6l1 7.3l1-7.7l1 8.3l1-10.2l1 9.9l1-11.7l1 10.8l1-9.9l1 10.3l1-7.8l1 10.2l1-9l1 7.1l1-8.9l1 9.4l1-10l1 8l1-8l1 8l1-6.3l1 9.3l1-9.6l1 9.1l1-10.4l1 11.3l1-11.3l1 11.3l1-9.5l1 8.3l1-10l1 8.8l1-10.4l1 8.3l1-7.8l1 8.6l1-6.7l1 6.8l1-8.7l1 10.7l1-7.3l1 9.3l1-7.6l1 7.2l1-9.3l1 10.1l1-9.6l1 8.9l1-8.9l1 6.2l1-7.5l1 8l1-8l1 9.6l1-11l1 11.4l1-10.4l1 8.8l1-8.2l1 9.9l1-10.2l1 8.1l1-8.1l1 6.5l1-8.7l1 10.2l1-8.5l1 7.5l1-7.9l1 9l1-8.2l1 9.1l1-7.9l1 9.6l1-7.5l1 6.4l1-8l1 8.8l1-7.7l1 6.4l1-7.4l1 7.9l1-10.7l1 10l1-8.6l1 9.2l1-8.1l1 7.6l1-9.1l1 8.7l1-7.2l1 6.9l1-7.4l1 7l1-8.3l1 7.8l1-7.9l1 10.3l1-10.4l1 9.6l1-9.6l1 8.1l1-8.2l1 9.4l1-7.3l1 6.5l1-6.7l1 7.4l1-7.4l1 9.5l1-8.8l1 9.2l1-9l1 8.5l1-10l1 9.1l1-9.9l1 9.1l1-8l1 9.6l1-7.3l1 7l1-11.7l1 11.2l1-10.2l1 7.3l1-8.2l1 9.9l1-8l1 9.7l1-9l1 8.8l1-10.9l1 8l1-7.8l1 9l1-10.1l1 11.3l1-8.7l1 10.5l1-9.4l1 10.2l1-7.9l1 6.1l1-7.4l1 8.4l1-6.3l1 8.6l1-10.9l1 9l1-8l1 11.3l1-10l1 9.3l1-9.7l1 8.9l1-9.9l1 9.8l1-11.2l1 10l1-7.9l1 7.1l1-6.4l1 9.3l1-8.5l1 10.7l1-10.3l1 10.2l1-10.6l1 7l1-7.3l1 7l1-9.8l1 7.9l1-5.9l1 6.8l1-9.6l1 8.2l1-7.9l1 9.3l1-10.2l1 8.2l1-7.9l1 6.2l1-5.8l1 8.9l1-9.9l1 7.6l1-8.6l1 11.3l1-10.5l1 10.9l1-9.9l1 10.9l1-6l1 7.9l1-8.9l1 7l1-7.3l1 5.6l1-9.2l1 7.8l1-8.1l1 7l1-7l1 10.3l1-8.5l1 9.8l1-9.8l1 10l1-9.2l1 8.6l1-8.3l1 11.9l1-10.8l1 8.6l1-10.4l1 8.7l1-8l1 9.7l1-7.3l1 7.3l1-9.2l1 6.7l1-7.8l1 9.1l1-8.8l1 9.7l1-8.7l1 8l1-7.4l1 9l1-9.6l1 6.4l1-7.4l1 6.6l1-6.5l1 9.1l1-9.5l1 7.4l1-5.5l1 7l1-7.1l1 8.1l1-10.7l1 8.4l1-8.6l1 9.6l1-9.3l1 7.5l1-9l1 9l1-8.7l1 10.2l1-10.8l1 10.1l1-7.7l1 10l1-10.1l1 9.7l1-9l1 6.9l1-7.7l1 11.4l1-11.3l1 9.6l1-8.2l1 8.3l1-8.6l1 7.6l1-7.7l1 10.7l1-9.7l1 8.8l1-9.4l1 8.3l1-5l1 7.4l1-10.4l1 7.2l1-6.4l1 7.6l1-8.7l1 6.8l1-7.7l1 6.8l1-8.9l1 8.7l1-9.3l1 7.1l1-9.4l1 10.1l1-6l1 7.6l1-8.9" fill="none" stroke="#6E509A" stroke-width="2.6" stroke-linejoin="round" stroke-linecap="round" />
<path d="M150.6 1664.5l1-9.1l1 8.6l1-6.2l1 9.2l1-6.4l1 9l1-5.4l1 7.7l1-4l1 8.9l1-8.4l1 4.8l1-5.3l1 7.4l1-6.6l1 10.7l1-10.9l1 10.6l1-7l1 7.4l1-7.1l1 8.3l1-7.3l1 9.8l1-7.6l1 5.8l1-8.4l1 9.7l1-9l1 9.3l1-8.6l1 5.8l1-6.2l1 9.2l1-7l1 7.7l1-7.2l1 8l1-6.3l1 6.2l1-7.2l1 7.3l1-7.1l1 9.9l1-8.9l1 8.1l1-6.6l1 7.3l1-8.5l1 8l1-7l1 8.6l1-7l1 9l1-7.7l1 8.1l1-6.9l1 7.8l1-6.5l1 7.9l1-7.6l1 6.1l1-6l1 5.6l1-7.8l1 8l1-5.7l1 5.6l1-7.8l1 8.9l1-9.3l1 10.2l1-7.9l1 12.3l1-6.3l1 6.8l1-7.5l1 6.1l1-7.4l1 8.2l1-10.2l1 6.8l1-7.1l1 9l1-9.5l1 7.2l1-6.6l1 7.8l1-6.4l1 7.1l1-6.1l1 5.7l1-6.6l1 7l1-8.3l1 8.6l1-8.3l1 7.9l1-8.6l1 7.2l1-6.1l1 5.9l1-8.6l1 9.3l1-7.4l1 7.7l1-10.5l1 10.3l1-8.6l1 9.4l1-7.1l1 8.2l1-9.6l1 9.1l1-8.7l1 8.1l1-8.6l1 8.5l1-7.3l1 8l1-8.9l1 7.5l1-6.6l1 5.8l1-6l1 9.3l1-9.3l1 6.5l1-6.9l1 8.1l1-7.8l1 6.5l1-6.8l1 8.7l1-8.2l1 7.7l1-5l1 7.4l1-6.3l1 6.4l1-7.2l1 6.6l1-8.3l1 6.2l1-8.9l1 7.9l1-6.9l1 7.6l1-8.7l1 7.1l1-7.8l1 7.8l1-6.9l1 8.3l1-10.3l1 9.6l1-8.5l1 7.1l1-7.3l1 7.5l1-8.6l1 8.2l1-6.8l1 7l1-6.9l1 7.6l1-7.7l1 8l1-6l1 9.6l1-6.8l1 5.3l1-8.5l1 9.2l1-10.1l1 9.6l1-9.4l1 8.7l1-6.8l1 8.5l1-8.1l1 7.8l1-7.5l1 7.9l1-7.7l1 6.9l1-6.3l1 8.5l1-9.2l1 7l1-7.3l1 8.6l1-9l1 7.9l1-8.2l1 7l1-6.7l1 7.3l1-8l1 7.7l1-5.4l1 7.4l1-9l1 7.9l1-8.8l1 9.6l1-9.8l1 8.6l1-6.5l1 5.7l1-8.3l1 8.5l1-4.6l1 5.6l1-6.9l1 8.6l1-7.2l1 8.2l1-7.5l1 8.3l1-8.2l1 8.3l1-9.1l1 7.8l1-6.9l1 6.5l1-7.4l1 7.2l1-8.2l1 7l1-8.9l1 8.7l1-7.8l1 7.9l1-7.3l1 5.5l1-5.2l1 7.6l1-8.9l1 7.5l1-7.7l1 8.4l1-7l1 8.5l1-9.3l1 8.1l1-6.9l1 9.2l1-8.2l1 7.4l1-9.7l1 9.5l1-9.4l1 8.5l1-5.9l1 6.5l1-8.9l1 10.5l1-9l1 8l1-8.2l1 6.4l1-7.3l1 8.3l1-8.2l1 6.4l1-6.3l1 5l1-6.7l1 10.2l1-8.6l1 8.3l1-7.7l1 8.3l1-6.1l1 8.5l1-6.4l1 8.4l1-7.4l1 9.2l1-8.4l1 7.2l1-10.6l1 8.7l1-9.8l1 6.2l1-8.8l1 6.6l1-7.4l1 6.9l1-6.4l1 7.1l1-9.7l1 11.4l1-8.7l1 7.4l1-7.3l1 10.3l1-9.1l1 9.2l1-7.9l1 6.8l1-8.7l1 7.6l1-5.8l1 8.3l1-6.4l1 6.6l1-6.6l1 6.4l1-5.1l1 7.7l1-8.9l1 7l1-6.8l1 6.9l1-6.6l1 7.6l1-11.3l1 7.4l1-5.9l1 8.7l1-8.4l1 9.5l1-7l1 7l1-8l1 7.3l1-6.2l1 7.9l1-7.6l1 3.9l1-4.2l1 8.7l1-10.4l1 8.6l1-9.6l1 8.5l1-9.8l1 9l1-7.5l1 8.3l1-8.2l1 9.1l1-7.1l1 9l1-7.1l1 9.4l1-8.8l1 7.4l1-8.4l1 9.1l1-7l1 7.2l1-5.8l1 4l1-7.9l1 8.3l1-8.5l1 9.2l1-7.7l1 6.3l1-6.1l1 9.5l1-7.8l1 6.6l1-7.3l1 8l1-8.2l1 6.3l1-8.9l1 8.3l1-9.6l1 8.5l1-5.2l1 8.3l1-7.7l1 7.9l1-9.6l1 8.1l1-6.5l1 6l1-7.5l1 8.9l1-7.6l1 7.8l1-8.4l1 8.1l1-6.9l1 8.4l1-7.9l1 9.7l1-10.6l1 8l1-6.7l1 6.5l1-7.2l1 7.5l1-7.5l1 9.4l1-7.8l1 6.4l1-6.8l1 7.3l1-8l1 8.2l1-6.3l1 7.8l1-6.2l1 6.1l1-9.8l1 6.7l1-7.4l1 8.7l1-7l1 5.6l1-6.7l1 10l1-6.3l1 6.3l1-9l1 8.8l1-6.4l1 7.6l1-6.9l1 6.6l1-8.6l1 5.4l1-8.4l1 8.7l1-8.4l1 7.3l1-4.4l1 8l1-8.6l1 9.2l1-6.9l1 8.1l1-6.8l1 6.8l1-8.5l1 7.1l1-7.5l1 5.9l1-5.4l1 7.1l1-10.1l1 9l1-7.1l1 7.2l1-6.2l1 7.1l1-7.4l1 7.3l1-7.1l1 6.3l1-6.2l1 7.6l1-8.7l1 6.5l1-8.4l1 8.6l1-8.8l1 8.4l1-8.2l1 6.7l1-6.3l1 9.6l1-8.3l1 7.8l1-8l1 9l1-7.3l1 7.2l1-6.4l1 7.9l1-8.4l1 8.4l1-8.4l1 9.7l1-8.9l1 7l1-8l1 7.7l1-8.1l1 10.3l1-8.1l1 9.3l1-7l1 6.6l1-8.6l1 7.4l1-7.1l1 7.1l1-5.9l1 7.4l1-7.9l1 6.6l1-9.3l1 7.1l1-7.7l1 7.9l1-6.3l1 5.3l1-8.6l1 8.5l1-7.9l1 9.3l1-7.1l1 7.2l1-8.1l1 8.3l1-7.2l1 6.8l1-7.3l1 7.9l1-4.8l1 6.1l1-6.9l1 7.7l1-5.9l1 6.9l1-9.3l1 8.8l1-6.4l1 5l1-6.3l1 7.9l1-9.5l1 9.3l1-7.9l1 7.1l1-6.7l1 10l1-8.1l1 7.5l1-8.3l1 6.4l1-7.3l1 7.6l1-9.7l1 8.6l1-6.4l1 6.2l1-7.1l1 8.7l1-7.3l1 6.5l1-7.3l1 7.2l1-9.2l1 9.2l1-6.2l1 5.7l1-6.4l1 7l1-5.7l1 7.4l1-9.8l1 7.9l1-6.2l1 7.7l1-9.4l1 7.7l1-7.1l1 9.1l1-9.3l1 7.4l1-7.3l1 8.9l1-8l1 7.8l1-7.9l1 7.8l1-7.9l1 7.2l1-8.1l1 7l1-6l1 9l1-6.9l1 8.6l1-8.3l1 7.4l1-9.3l1 9.4l1-8.5l1 9.1l1-8.7l1 9.3l1-9.2l1 8.1l1-8.2l1 6.2l1-6.3l1 6.4l1-8.2l1 7.5l1-7.3l1 8.8l1-7.1l1 8l1-5.8l1 6l1-7l1 7.5l1-4.9l1 6.2l1-7.2l1 5.8l1-7.9l1 8.8l1-8.9l1 8.7l1-7.9l1 7.9l1-8.7l1 10.2l1-7.6l1 7.9l1-8.1l1 9.1l1-7.2l1 6.3l1-6l1 6.2l1-8.4l1 7.8l1-6.5l1 5.6l1-8l1 9.3l1-9.1l1 6.9l1-7.2l1 7.9l1-8.5l1 5l1-5.1l1 7.2l1-6.9l1 8.2l1-10.2l1 9.3l1-9.1l1 6.1l1-7.8l1 10.8l1-9.4l1 8l1-6.9l1 7.1l1-7.2l1 9.6l1-8.5l1 8.5l1-8.3l1 7.7l1-7.8l1 8.9l1-10.1l1 8.2l1-7l1 5.8l1-5.7l1 5.7l1-8.2l1 7.6l1-8.9l1 10.6l1-7l1 7.3l1-6l1 5.5l1-6.5l1 8.4l1-9.2l1 6.5l1-6.4l1 8.2l1-8.9l1 6l1-5.9l1 5.4l1-5.9l1 8.9l1-6.6l1 6.5l1-5.3l1 7.3l1-8.3l1 6.2l1-7.7l1 7.2l1-7l1 5.9l1-7l1 7.8l1-7.9l1 7.5l1-7.1l1 7.8l1-7.9l1 6.7l1-5.5l1 7.1l1-9.2l1 8.6l1-6.6l1 9.5l1-9.4l1 7.2l1-6.1l1 6.8l1-7.8l1 7.6l1-7.2l1 7.5l1-8.7l1 6.9l1-6.9l1 9.6l1-9.8l1 9.9l1-9.4l1 7l1-9.5l1 10l1-9.8l1 9.7l1-7.2l1 6.8l1-7.6l1 7l1-6.5l1 8.5l1-10.9l1 9.3l1-7l1 7.4l1-8.2l1 7l1-7.4l1 8.8l1-11l1 7.8l1-5.7l1 6.7l1-7.6l1 8.4l1-8.6l1 8.2l1-6.9l1 8l1-8.1l1 7.4l1-8.1l1 9.3l1-6.4l1 8.3l1-10.8l1 8.8l1-6.2l1 9.2l1-7l1 4.9l1-5.7l1 7.8l1-7.4" fill="none" stroke="#3B99B6" stroke-width="2.6" stroke-linejoin="round" stroke-linecap="round" />
<path d="M150.6 1673.7l1-8.3l1 10.4l1-5.4l1 9.1l1-5.9l1 7.5l1-7.7l1 8.7l1-5.9l1 8l1-8.5l1 9.5l1-10.6l1 11l1-11.8l1 7.1l1-7.1l1 6.2l1-8.3l1 8.9l1-10.4l1 10l1-8.7l1 6l1-8.4l1 7.5l1-9.5l1 9.5l1-7.1l1 12.3l1-10l1 9.3l1-9.5l1 8.9l1-7.3l1 8.2l1-7.6l1 9.6l1-11.1l1 10.5l1-11l1 11.5l1-13.2l1 10.5l1-8.5l1 10.6l1-10.2l1 9l1-10l1 9.5l1-10.3l1 9.6l1-5.7l1 9.2l1-7.2l1 7.7l1-9.4l1 10l1-10.8l1 9.6l1-6.7l1 7.7l1-7l1 8.2l1-8.7l1 8.7l1-10.7l1 10l1-10.1l1 10.6l1-8.3l1 7.8l1-6.4l1 7.3l1-8.7l1 8.2l1-8.7l1 10.4l1-9.2l1 5.2l1-9.3l1 10.3l1-8.1l1 11.3l1-9l1 8.7l1-7.6l1 7.6l1-7.7l1 8.8l1-10.2l1 9.3l1-7.1l1 10l1-10.1l1 9.6l1-8.5l1 10.8l1-9.3l1 10l1-9.3l1 8.7l1-8.1l1 8.5l1-10.5l1 9.4l1-8.1l1 12.2l1-11.2l1 8.7l1-6.2l1 11.8l1-9.9l1 8.9l1-9.9l1 9.3l1-8.7l1 9l1-9.6l1 9.4l1-9l1 11.5l1-7.3l1 7.4l1-5.3l1 9.8l1-9.4l1 6.9l1-8.7l1 9.8l1-6.8l1 9.8l1-8.6l1 6.2l1-9.1l1 9.7l1-9l1 10.3l1-9.6l1 9.7l1-12.5l1 10.8l1-7.7l1 8.3l1-7.3l1 8.1l1-6.6l1 7.3l1-10.5l1 9l1-7.8l1 11.6l1-10.2l1 8.5l1-8.9l1 7.9l1-8.5l1 7.3l1-9.4l1 11l1-7.7l1 6.5l1-8.1l1 8.4l1-8.9l1 10.4l1-10.7l1 10.8l1-9.4l1 10l1-10.3l1 10.9l1-8l1 12.1l1-12.3l1 11.4l1-11.4l1 10l1-9.1l1 7.9l1-8.6l1 9.8l1-8.6l1 8.3l1-7.6l1 8.8l1-8.2l1 7.9l1-9.3l1 11.3l1-9.1l1 10.3l1-10l1 5.6l1-9.4l1 8.6l1-6.8l1 7.8l1-7.9l1 8.7l1-10l1 8.7l1-7l1 9.1l1-7.5l1 6.6l1-7.8l1 8l1-11.7l1 10l1-8.7l1 11.3l1-11.1l1 7.1l1-8.7l1 8.1l1-8.3l1 8.1l1-7.3l1 9.8l1-9.3l1 10.1l1-9.4l1 8.1l1-6.9l1 8.9l1-10.2l1 9.1l1-6.1l1 6.6l1-9l1 8.4l1-8.7l1 8.4l1-7.9l1 10.1l1-9l1 9.9l1-9.9l1 7.6l1-6l1 7.2l1-8.7l1 11.6l1-10.6l1 7.1l1-7.7l1 6.5l1-7.8l1 9.3l1-9.1l1 8.8l1-8l1 9.8l1-9.2l1 8.3l1-8.2l1 8.6l1-8.7l1 9.4l1-9.5l1 5.8l1-5.7l1 8.3l1-10.3l1 10.6l1-8.6l1 11l1-9.2l1 9.3l1-9.1l1 9.2l1-7.1l1 10.5l1-9.3l1 8.9l1-9l1 8.2l1-7.2l1 8l1-11l1 7.3l1-6.3l1 7.8l1-8.7l1 10l1-13.1l1 12.3l1-8.3l1 8.9l1-9.2l1 7.4l1-9.2l1 9.4l1-9.5l1 11l1-8.3l1 7.2l1-9.1l1 9.6l1-8l1 7.9l1-9.9l1 7.7l1-9l1 9.5l1-10.5l1 11.3l1-10.8l1 7.9l1-8.5l1 9.7l1-7.8l1 9.4l1-9.8l1 7.8l1-7.1l1 11.3l1-8.8l1 9.3l1-9l1 8.9l1-11l1 11l1-9.6l1 9.8l1-9.9l1 11.3l1-9.5l1 7.6l1-8.2l1 9.3l1-7.7l1 7.4l1-6.3l1 6.4l1-8.7l1 7.6l1-9.2l1 9.3l1-7.1l1 8.7l1-9.5l1 9.4l1-10.4l1 8.6l1-8.4l1 8.5l1-9.2l1 10.8l1-10.3l1 9.8l1-8.1l1 6.8l1-7l1 9.5l1-9l1 9.2l1-10l1 10.9l1-12l1 10.3l1-8.8l1 10.6l1-8.7l1 9l1-9.7l1 7.9l1-8.7l1 10.4l1-8l1 7.6l1-9.3l1 7.5l1-7.9l1 9.8l1-8l1 8.9l1-10.2l1 9.4l1-8.5l1 7l1-7.5l1 10.2l1-10.3l1 8.7l1-10.4l1 10.1l1-9.1l1 11l1-8.7l1 6.8l1-11.1l1 6.8l1-7.6l1 9.2l1-10l1 9.5l1-6.9l1 8.1l1-8.4l1 8.9l1-10.3l1 9l1-9l1 8.9l1-9.5l1 10.5l1-10l1 8.9l1-4.9l1 7.9l1-8l1 6.9l1-9.7l1 9.3l1-9.8l1 9.2l1-9l1 9.8l1-6.1l1 10.1l1-11.1l1 10.1l1-11.3l1 11.3l1-10.6l1 8.4l1-9.6l1 9.7l1-10.1l1 8l1-10l1 9.2l1-9.8l1 9l1-6.2l1 8.2l1-9.3l1 10.1l1-8.6l1 7.7l1-7.4l1 9l1-6.7l1 6.5l1-9.5l1 8.4l1-7.7l1 7.9l1-11l1 11.7l1-9.5l1 10.3l1-10.5l1 10.6l1-9.9l1 10.4l1-12.3l1 11.7l1-10.5l1 7.8l1-8.7l1 10.3l1-9l1 11.4l1-8.8l1 8.4l1-6.8l1 8l1-9.3l1 7.2l1-9l1 8.8l1-10l1 10.6l1-7.4l1 6.5l1-7.9l1 8.6l1-8.4l1 8.4l1-8.2l1 8.2l1-8.8l1 8.2l1-9.6l1 9l1-10.1l1 8.2l1-8.4l1 10.2l1-9.1l1 8.3l1-7.9l1 7.9l1-9.1l1 7.8l1-9l1 10.3l1-8.9l1 9.9l1-10.4l1 9.5l1-8.5l1 8.8l1-7.8l1 8.5l1-12l1 11.2l1-11.1l1 9l1-9.8l1 9.5l1-9.5l1 9.3l1-9.8l1 9.3l1-9l1 8l1-8.4l1 10.8l1-9.6l1 7.7l1-7.5l1 10.1l1-11.5l1 10l1-7.1l1 7.8l1-7l1 8.5l1-9.9l1 8.6l1-7.3l1 6.8l1-8.2l1 9.5l1-7l1 9.1l1-9l1 9.2l1-9.4l1 8.5l1-8.9l1 9.9l1-11.2l1 9.3l1-9.8l1 10.5l1-10.8l1 9.7l1-8.6l1 8.4l1-8.9l1 8.2l1-8.6l1 10.6l1-8.5l1 9.1l1-8.2l1 8.5l1-7.7l1 8.4l1-12.3l1 10.5l1-8.5l1 8l1-7.3l1 9.4l1-10l1 8.7l1-10.2l1 11.6l1-8.6l1 7.5l1-10.4l1 11.1l1-10.8l1 7l1-7.3l1 8l1-7.9l1 7.8l1-9l1 10.7l1-7.6l1 9.7l1-11.6l1 8.6l1-10.4l1 8.1l1-8.1l1 9.8l1-8.3l1 12.5l1-9l1 8.4l1-8.1l1 8.5l1-10l1 9.3l1-10.6l1 10.8l1-10.4l1 8.2l1-8l1 9.9l1-9.4l1 8.5l1-9.4l1 11l1-8.8l1 9.2l1-8.2l1 9.3l1-9.5l1 8.8l1-7l1 7.3l1-9.5l1 9.8l1-9.6l1 11.1l1-9.2l1 9.6l1-11l1 10l1-9l1 8.3l1-11.3l1 8.7l1-8.3l1 9.7l1-8.9l1 8.7l1-10.8l1 10.4l1-10.6l1 8.8l1-9.6l1 9.4l1-7.7l1 8.8l1-8.4l1 8.1l1-9.5l1 10.4l1-10.8l1 9.5l1-9.4l1 8.6l1-9.3l1 7.5l1-6.8l1 8.1l1-8.9l1 9l1-8.4l1 10.2l1-8.3l1 7.9l1-7.3l1 6.5l1-7.3l1 9.3l1-9.4l1 7.3l1-5.9l1 9.1l1-7.7l1 8.1l1-11.5l1 7.8l1-7.9l1 8.4l1-9l1 8.7l1-10l1 11.6l1-10.6l1 8.3l1-9.2l1 8l1-7.1l1 11.9l1-10.4l1 10l1-11.4l1 10.3l1-8.2l1 8.6l1-9l1 11.4l1-9.1l1 8.8l1-9.7l1 7.6l1-9.4l1 7.4l1-6.4l1 9.4l1-13.3l1 10.7l1-8.3l1 8.4l1-9.3l1 8.7l1-8.4l1 4.5l1-6.3l1 9.5l1-9.9l1 10.8l1-7.8l1 9.7l1-9.9l1 9.5l1-8.1l1 8.1l1-9.2l1 7.2l1-6.6l1 7.4l1-8.5l1 6.7l1-7.9l1 8l1-8l1 9.8l1-9.5l1 11.1l1-8.8l1 9.1l1-9.7l1 11.1l1-9.9l1 6.9l1-8.2l1 8.3l1-8.2l1 8.7l1-7.9l1 10.4l1-10.7l1 7.5l1-5.8l1 8.5l1-9.4l1 9l1-7.7l1 8.6l1-8.4l1 5.9l1-5.5l1 6.9l1-6.2l1 7l1-10l1 7.2l1-10.4l1 8.7l1-9.8l1 7.9l1-7.1l1 7.5l1-6.9l1 10.8l1-9.6" fill="none" stroke="#DF8436" stroke-width="2.6" stroke-linejoin="round" stroke-linecap="round" />
<path d="M150.6 1659.1l1-5.7l1 11.2l1-8.5l1 9.1l1-10.1l1 12l1-6.9l1 12.2l1-8.4l1 9.8l1-8.2l1 9.1l1-7.6l1 6.5l1-8.2l1 12.1l1-9.7l1 10.3l1-11.5l1 10.2l1-10.2l1 11.4l1-10.7l1 13.6l1-9.9l1 11.2l1-9.4l1 9.4l1-8.5l1 12.8l1-12.9l1 12.3l1-8.5l1 9.3l1-11.1l1 8.9l1-11.3l1 11.6l1-8.6l1 10.7l1-7.5l1 8.9l1-9.8l1 9l1-11.1l1 10.9l1-13l1 13.4l1-12.1l1 10.6l1-9.2l1 11.1l1-8.8l1 10.8l1-8.5l1 10.2l1-9.1l1 11.9l1-13.4l1 12l1-10.7l1 10.4l1-10.9l1 9.1l1-12.5l1 10.6l1-12.4l1 11.9l1-11.8l1 10.6l1-8.7l1 13.3l1-13.2l1 9.7l1-10.7l1 10.8l1-10.6l1 12.1l1-12.3l1 10.6l1-6.8l1 8.9l1-9.6l1 11.2l1-12.2l1 14.1l1-11.9l1 11.4l1-11.2l1 9.7l1-9.5l1 11.5l1-11.8l1 8.5l1-9l1 10.7l1-12.4l1 12.5l1-7.7l1 9.7l1-12.8l1 8.1l1-8l1 11.9l1-13l1 10l1-11.6l1 12.7l1-11.2l1 11.3l1-12.1l1 11.2l1-10l1 12.8l1-13.5l1 10.1l1-9l1 10.5l1-8.8l1 12.6l1-11.1l1 8.9l1-8.2l1 8l1-8.4l1 9.7l1-9.2l1 10.5l1-11.6l1 13.6l1-12.1l1 9.3l1-10l1 10.1l1-10l1 12.6l1-11.3l1 10.5l1-12.9l1 12.1l1-12.5l1 12.5l1-14l1 10.4l1-9.8l1 10.1l1-7.3l1 7.6l1-8.4l1 10.4l1-8.9l1 11.2l1-13l1 13.4l1-13.3l1 12.5l1-12.2l1 9l1-7.7l1 8.9l1-9.8l1 10.3l1-8.7l1 12.4l1-10.8l1 8.4l1-11.2l1 11.1l1-10.8l1 10.4l1-9l1 8.9l1-9.6l1 9.6l1-10.5l1 11.5l1-12.2l1 10.9l1-11.4l1 9.1l1-11.1l1 13.5l1-11.3l1 11.3l1-12.8l1 11l1-11.6l1 14l1-10.5l1 7.3l1-9.2l1 9.9l1-9.6l1 11.8l1-11.8l1 9.2l1-12.4l1 11.5l1-8.2l1 8.4l1-9.5l1 12.9l1-10.8l1 10.3l1-13l1 12.5l1-10.7l1 7.9l1-10.6l1 12.1l1-9.4l1 10.1l1-9.7l1 10.8l1-8.7l1 10.9l1-11.3l1 7.2l1-10l1 12.6l1-10.9l1 8.8l1-10.1l1 13.5l1-11.5l1 11.6l1-12.5l1 12.6l1-9.4l1 9.6l1-9.9l1 11.6l1-11.8l1 11.9l1-10.1l1 7.2l1-9.5l1 7.7l1-8.1l1 9.6l1-12.4l1 13.6l1-11.4l1 7.8l1-9.1l1 11.7l1-11.3l1 12l1-12.4l1 12l1-10.8l1 11.3l1-10.7l1 10.3l1-10.2l1 9.1l1-11.9l1 11l1-10.2l1 10l1-11.6l1 10.8l1-12.4l1 12.9l1-10.3l1 9.5l1-8l1 8.8l1-9.8l1 10.4l1-10.2l1 13l1-13.8l1 10.4l1-11.6l1 15.1l1-10.5l1 8l1-8.6l1 10.6l1-13.2l1 11.9l1-10.5l1 11.9l1-12.2l1 10.5l1-7.9l1 9.2l1-8.2l1 8.5l1-8.5l1 12.8l1-11.1l1 11.1l1-11.5l1 11.5l1-12l1 11.7l1-11.7l1 9.4l1-10.6l1 10.9l1-9.4l1 9.6l1-10l1 8.1l1-8.4l1 8.6l1-8.7l1 8.5l1-11.3l1 11.1l1-12.3l1 12.6l1-11.4l1 10.2l1-10.5l1 9.9l1-9.4l1 12.5l1-11l1 11.3l1-10.3l1 12.7l1-11.9l1 10.3l1-12l1 13.6l1-9.3l1 6.8l1-10.7l1 12.9l1-10.3l1 10.5l1-10.9l1 11.1l1-8.5l1 9.6l1-8.5l1 10.1l1-11.2l1 10.8l1-9.9l1 9.2l1-10.2l1 9.9l1-9.3l1 8.1l1-8l1 8.7l1-10l1 10.8l1-9.6l1 11.7l1-10.1l1 11l1-9.7l1 9.9l1-11.4l1 10.6l1-9.3l1 9.9l1-10.5l1 8.7l1-11.6l1 13.1l1-13.3l1 14l1-11.3l1 10.8l1-13.1l1 9.8l1-7.8l1 8.5l1-9.3l1 11.7l1-12.5l1 8l1-8.9l1 11.3l1-10.3l1 9.4l1-8.3l1 11.1l1-10.6l1 11.8l1-10.3l1 11l1-12.2l1 10.7l1-9.1l1 9.6l1-8.3l1 9.6l1-11.5l1 11.9l1-12.9l1 12.8l1-13l1 9.4l1-11.1l1 12.7l1-11l1 11.3l1-11.7l1 11.9l1-12.5l1 9.9l1-9.3l1 9.9l1-9.6l1 9.7l1-11.8l1 14.2l1-11.5l1 9.4l1-9.5l1 9.5l1-10.2l1 9.5l1-13l1 10.7l1-10.2l1 12.4l1-11.9l1 10l1-9.1l1 12.1l1-11.1l1 12.5l1-11.4l1 8l1-11.1l1 10.6l1-8.3l1 11.7l1-9.9l1 9.8l1-11.7l1 11.1l1-10.8l1 10.7l1-11.9l1 14.9l1-11l1 8.4l1-10.2l1 10l1-11.7l1 11.8l1-11l1 11.3l1-7.5l1 10.1l1-14.7l1 11.4l1-8.6l1 7.6l1-10.2l1 10.4l1-9l1 9.8l1-9.7l1 8.4l1-9l1 9.1l1-7.3l1 10.6l1-12.5l1 10.4l1-9l1 8.2l1-9.2l1 10.4l1-10.5l1 9.1l1-12.5l1 8.8l1-9.5l1 11.1l1-12.5l1 11.5l1-10.7l1 13.3l1-9.5l1 9.9l1-10l1 8.9l1-10.1l1 11.7l1-11.4l1 9.5l1-8.3l1 10.3l1-10.9l1 10.5l1-10.9l1 10l1-8.7l1 9.7l1-9.3l1 11.2l1-9.2l1 8.7l1-9.8l1 13l1-12.2l1 10.6l1-10.7l1 8.2l1-9.1l1 9.2l1-11.5l1 12l1-10.6l1 9.5l1-9.3l1 8.6l1-8.3l1 12.2l1-11.2l1 10.4l1-11.6l1 11.4l1-11.1l1 11.8l1-13.4l1 11.7l1-12.3l1 11.6l1-8.2l1 8.2l1-9.8l1 11.2l1-13.1l1 9.1l1-9.2l1 13.2l1-9.9l1 10.5l1-11.9l1 10.1l1-11.7l1 10.5l1-8.3l1 8.6l1-10.3l1 9.3l1-10.7l1 9.7l1-9.6l1 10.7l1-12.7l1 13.8l1-10.7l1 9l1-8.5l1 8.8l1-11.8l1 12.1l1-10.4l1 10l1-8.9l1 10.7l1-10.5l1 9.3l1-7.9l1 8.7l1-10.1l1 8.9l1-8l1 8l1-11.7l1 11l1-10.2l1 9.1l1-11l1 10.4l1-7.8l1 10l1-11.2l1 9.3l1-10.7l1 12.4l1-9.5l1 9.3l1-8.4l1 8.5l1-11.2l1 13.1l1-10.1l1 8.8l1-7.5l1 7.4l1-8.4l1 9.9l1-13.4l1 10.1l1-8.3l1 8.1l1-8.6l1 11.5l1-12.7l1 12.3l1-10.7l1 11.1l1-12l1 11.1l1-10.3l1 7.4l1-10.4l1 11.7l1-10.1l1 10.3l1-14.7l1 12.7l1-10.9l1 11.8l1-12.2l1 14.2l1-10.4l1 10.9l1-11.1l1 10.5l1-11.9l1 12.7l1-10.3l1 10.8l1-9l1 9.8l1-11.2l1 11.7l1-13.2l1 10.7l1-9.8l1 9.9l1-11.9l1 13.4l1-12.9l1 12l1-10.3l1 10.4l1-10.2l1 9.9l1-11.6l1 12.9l1-9.6l1 9.4l1-9.9l1 11l1-11.7l1 12.6l1-10.5l1 10.1l1-11.5l1 10.4l1-9.9l1 12.2l1-12.2l1 12l1-10.8l1 12.1l1-13.9l1 13l1-14.8l1 10.3l1-9.2l1 10l1-10.5l1 10.3l1-12.3l1 13.8l1-13.4l1 10.7l1-8.7l1 10.6l1-10.5l1 9.2l1-8.7l1 9.8l1-12.9l1 12.6l1-9.4l1 9.1l1-9.7l1 10.9l1-10.3l1 10.6l1-12.6l1 13.2l1-9l1 8.9l1-8l1 9.6l1-9.7l1 8.8l1-11.9l1 12.4l1-11.6l1 9.5l1-10.5l1 8.8l1-10.9l1 12.2l1-13l1 8.6l1-9.7l1 13.3l1-11.1l1 10.7l1-9.7l1 9.8l1-9.9l1 11.3l1-12l1 10.8l1-11.8l1 12.6l1-10.8l1 9l1-10.1l1 11.9l1-10l1 13.5l1-12.4l1 9.2l1-11.9l1 11.9l1-9.2l1 9.7l1-10.9l1 10.9l1-9l1 8.6l1-10.5l1 11l1-11.1l1 10.3l1-10.5l1 12.7l1-13.2l1 11.3l1-11.8l1 10.8l1-9.7l1 8.9l1-10.1l1 10.5l1-7.1l1 7.6l1-10.8l1 11.5l1-7.5l1 7.8l1-10.2l1 10l1-9.5l1 9.9l1-10.8l1 11.8l1-12.4l1 11.7l1-10.2l1 9.4l1-11l1 12.2l1-12.5l1 8.3l1-8.4" fill="none" stroke="#8EA7D1" stroke-width="2.6" stroke-linejoin="round" stroke-linecap="round" />
<line x1="150.6" y1="1618.3" x2="150.6" y2="1894.5" stroke="#868686" stroke-width="1.5"/>
<line x1="150" y1="1893.8" x2="1073.5" y2="1893.8" stroke="#868686" stroke-width="1.6"/>
<text x="129.2" y="1900.7" font-size="16.6" font-family='"DejaVu Sans", "Liberation Sans", sans-serif' text-anchor="end" font-weight="normal" letter-spacing="0.8" stroke="#0a0a0a" stroke-width="0.5">0</text>
<text x="129.2" y="1854.8" font-size="16.6" font-family='"DejaVu Sans", "Liberation Sans", sans-serif' text-anchor="end" font-weight="normal" letter-spacing="0.8" stroke="#0a0a0a" stroke-width="0.5">50</text>
<text x="129.2" y="1809" font-size="16.6" font-family='"DejaVu Sans", "Liberation Sans", sans-serif' text-anchor="end" font-weight="normal" letter-spacing="0.8" stroke="#0a0a0a" stroke-width="0.5">100</text>
<text x="129.2" y="1763.1" font-size="16.6" font-family='"DejaVu Sans", "Liberation Sans", sans-serif' text-anchor="end" font-weight="normal" letter-spacing="0.8" stroke="#0a0a0a" stroke-width="0.5">150</text>
<text x="129.2" y="1717.3" font-size="16.6" font-family='"DejaVu Sans", "Liberation Sans", sans-serif' text-anchor="end" font-weight="normal" letter-spacing="0.8" stroke="#0a0a0a" stroke-width="0.5">200</text>
<text x="129.2" y="1671.4" font-size="16.6" font-family='"DejaVu Sans", "Liberation Sans", sans-serif' text-anchor="end" font-weight="normal" letter-spacing="0.8" stroke="#0a0a0a" stroke-width="0.5">250</text>
<text x="129.2" y="1625.6" font-size="16.6" font-family='"DejaVu Sans", "Liberation Sans", sans-serif' text-anchor="end" font-weight="normal" letter-spacing="0.8" stroke="#0a0a0a" stroke-width="0.5">300</text>
<text x="150.1" y="1929.6" font-size="16.6" font-family='"DejaVu Sans", "Liberation Sans", sans-serif' text-anchor="middle" font-weight="normal" letter-spacing="0.8" stroke="#0a0a0a" stroke-width="0.5">0</text>
<text x="286.6" y="1929.6" font-size="16.6" font-family='"DejaVu Sans", "Liberation Sans", sans-serif' text-anchor="middle" font-weight="normal" letter-spacing="0.8" stroke="#0a0a0a" stroke-width="0.5">20</text>
<text x="439.6" y="1929.6" font-size="16.6" font-family='"DejaVu Sans", "Liberation Sans", sans-serif' text-anchor="middle" font-weight="normal" letter-spacing="0.8" stroke="#0a0a0a" stroke-width="0.5">40</text>
<text x="594.5" y="1929.6" font-size="16.6" font-family='"DejaVu Sans", "Liberation Sans", sans-serif' text-anchor="middle" font-weight="normal" letter-spacing="0.8" stroke="#0a0a0a" stroke-width="0.5">60</text>
<text x="746.4" y="1929.6" font-size="16.6" font-family='"DejaVu Sans", "Liberation Sans", sans-serif' text-anchor="middle" font-weight="normal" letter-spacing="0.8" stroke="#0a0a0a" stroke-width="0.5">80</text>
<text x="901.2" y="1929.6" font-size="16.6" font-family='"DejaVu Sans", "Liberation Sans", sans-serif' text-anchor="middle" font-weight="normal" letter-spacing="0.8" stroke="#0a0a0a" stroke-width="0.5">100</text>
<text x="1103.9" y="1644.5" font-size="55" font-family='"Liberation Serif", serif' text-anchor="middle" font-weight="bold" >D</text>
<text x="554" y="1944.3" font-size="29.5" font-family='"Liberation Serif", serif' text-anchor="middle" font-weight="bold" >Time(ns)</text>
<circle cx="1031" cy="1709" r="1.1" fill="#222"/>
<text transform="translate(29.7 1925.6) rotate(-90)" font-size="28.8" font-family='"Liberation Serif", serif' font-weight="bold" text-anchor="middle">Nanometer</text>
</g>
<g id="panelE">
<path d="M137.8 2144.2l1.4-0.5l1.3 3.2l1.4 0.1l1.4-0.3l1.4 0.7l1.4 5.5l1.3 1.6l1.4 0.3l1.4-1.3l1.4 4.3l1.4-5.3l1.3 0l1.4-2.3l1.4 8.4l1.4-6.2l1.4-0.8l1.3-8.7l1.4-5.6l1.4-1l1.4 2.7l1.4 7.6l1.3 3.3l1.4 0.6l1.4 5l1.4-3.1l1.4 2l1.3 2.9l1.4 1.2l1.4-3.9l1.4 2.7l1.4-1.3l1.3 0.9l1.4-2.9l1.4-4.7l1.4 2.6l1.4-5.5l1.3-3.1l1.4-0.7l1.4-2.7l1.4-5.6l1.4-2.1l1.3-2.4l1.4-7.1l1.4 5.3l1.4 2.4l1.4 2.3l1.3 1.2l1.4 0l1.4 0l1.4 0l1.4 0l1.3 0l1.4 0l1.4 0l1.4 0l1.4 0l1.3 0l1.4 0l1.4 0l1.4 0l1.4 0l1.3 0l1.4 0l1.4 0l1.4 0l1.4 0l1.3 0l1.4 0l1.4 0l1.4 0l1.4 2.6l1.3 3.2l1.4 4l1.4 3.8l1.4-0.5l1.4 1.2l1.3 4.8l1.4-3.7l1.4-2.5l1.4 1.5l1.4 3.8l1.3-3.3l1.4 1.6l1.4 3.7l1.4 0.4l1.4-4.2l1.3-1l1.4-1.1l1.4-0.8l1.4-2.6l1.4 4.4l1.3-4.5l1.4-3.1l1.4-0.8l1.4 1.5l1.4-6.6l1.3 2.6l1.4-1.4l1.4-0.6l1.4-2.9l1.4 0.7l1.3-6.4l1.4 4.5l1.4-2.9l1.4-1.4l1.4-3.4l1.3 2.3l1.4-0.3l1.4 3.4l1.4-1.2l1.4 4.1l1.3-3.4l1.4 4.1l1.4 0.5l1.4-0.3l1.4-2l1.3 3l1.4 0.5l1.4 0l1.4 1l1.4-6.3l1.3 3.4l1.4-0.6l1.4-3l1.4-3l1.4 0.5l1.3-0.6l1.4 4.1l1.4-4.2l1.4-0.8l1.4-3.5l1.3 0l1.4 2l1.4 0l1.4-1.3l1.4 1.8l1.3 0.7l1.4-2.2l1.4 5l1.4-0.1l1.4 2.3l1.3 0.2l1.4-0.4l1.4 8.3l1.4 1.2l1.4 2l1.3 2l1.4 0.1l1.4-0.5l1.4-0.8l1.4 1.5l1.3 0.4l1.4 0.9l1.4-1.2l1.4-1.6l1.4-1.3l1.3 0.1l1.4-2.7l1.4-1l1.4 2.4l1.4 0.5l1.3-1.3l1.4 3.1l1.4 2.5l1.4 4.9l1.4 2.2l1.3-3.8l1.4 7.8l1.4-6.8l1.4 3l1.4-3.4l1.3-5.3l1.4-0.9l1.4 1.3l1.4 1.7l1.4-1.9l1.3-4.3l1.4 1.4l1.4 4.1l1.4-1.3l1.4 0.6l1.3 0.9l1.4 0.7l1.4-1.9l1.4 4.8l1.4 0.2l1.3 2l1.4 1.1l1.4-0.5l1.4-2.3l1.4 1.6l1.3-2.6l1.4-2.5l1.4 0.2l1.4 0.2l1.4 0.3l1.3 0.3l1.4 0.2l1.4 0.3l1.4 0.3l1.4 0.2l1.3 0.3l1.4 0.2l1.4 0.3l1.4 0.3l1.4 0.2l1.3 0.3l1.4 0.3l1.4 0.2l1.4 0.3l1.4 0.2l1.3 0.3l1.4 0.3l1.4 0.2l1.4 0.3l1.4 0.3l1.3 0.2l1.4 0.3l1.4 0.2l1.4 0.3l1.4 0.3l1.3 0.2l1.4 1.2l1.4 2.3l1.4 2.6l1.4-2l1.3 4.8l1.4 4.5l1.4-1l1.4-2.1l1.4 0.2l1.3 2.6l1.4-4.9l1.4 2.1l1.4-0.4l1.4 1.8l1.3 2.8l1.4-1.4l1.4-4l1.4 1l1.4-4.3l1.3-2l1.4 1.8l1.4-5.1l1.4-0.7l1.4-2.1l1.3-3.2l1.4-4l1.4 0.1l1.4 0.1l1.4 0.1l1.3 0.1l1.4 0.1l1.4 0.1l1.4 0.1l1.4 0.1l1.3 0.1l1.4 0.1l1.4 0.1l1.4 0.1l1.4 0.1l1.3 0.1l1.4 0.1l1.4 0.1l1.4 0.1l1.4 0.1l1.3 0.1l1.4 0.1l1.4 0.1l1.4 0.1l1.4 0.1l1.3 0.1l1.4 0.1l1.4 0.1l1.4 0.1l1.4 0.1l1.3 0.1l1.4 0.1l1.4 0.2l1.4 0.1l1.4 0.1l1.3 0.1l1.4 0.1l1.4 0.1l1.4 0.1l1.4 0.1l1.3 1.2l1.4-0.3l1.4 0.3l1.4 1.8l1.4 2.4l1.3-1.2l1.4 3.8l1.4-1.6l1.4-1.1l1.4-0.4l1.3 1.9l1.4-3.8l1.4 0.6l1.4 1.8l1.4 5.1l1.3-6.1l1.4 6l1.4-3.6l1.4 1.2l1.4 4.9l1.3 2.4l1.4-2l1.4 2.6l1.4-1.1l1.4 1.2l1.3-0.4l1.4 3.2l1.4-1.5l1.4 1.1l1.4 3l1.3-0.7l1.4 1.1l1.4-4.3l1.4 3.1l1.4-0.7l1.3-2.6l1.4-0.2l1.4-1.1l1.4-0.7l1.4 1.7l1.3 0.3l1.4-3.6l1.4-0.3l1.4-2.2l1.4-0.9l1.3-3.2l1.4 2.2l1.4-2.3l1.4-0.3l1.4-3.5l1.3-0.1l1.4-4.7l1.4 3.6l1.4-0.9l1.4-1.3l1.3-1.9l1.4 6l1.4 1.7l1.4-0.4l1.4-0.7l1.3 0.4l1.4 3.8l1.4-3.1l1.4-1.1l1.4 4.8l1.3 0l1.4 3.8l1.4-0.3l1.4 1.5l1.4 1.5l1.3 2.2l1.4-1.4l1.4 2.2l1.4-0.9l1.4 2.5l1.3 5.4l1.4-5.2l1.4 1.5l1.4-3.4l1.4-1l1.3 0.8l1.4 1.6l1.4-4.4l1.4 3.4l1.4-5.2l1.3-0.9l1.4 3.4l1.4-2.9l1.4-0.8l1.4 0l1.3-2.2l1.4-3.7l1.4-1l1.4-2.6l1.4-0.6l1.3-1l1.4-3l1.4-3.5l1.4-2.8l1.4 3.8l1.3-6.4l1.4 0.2l1.4-5.5l1.4 0.8l1.4-1.4l1.3 4.7l1.4 3.4l1.4-1.5l1.4 3.7l1.4-1l1.3-0.6l1.4 1.3l1.4-0.4l1.4 0l1.4-2.2l1.3 1l1.4-0.5l1.4-2.4l1.4 1.6l1.4-2.6l1.3-3.2l1.4 0.4l1.4-0.1l1.4-1.3l1.4-3l1.3-4.5l1.4 6.1l1.4-1.7l1.4-1.1l1.4-2l1.3 1.3l1.4 3.6l1.4 1.5l1.4 1l1.4 0.2l1.3 3.9l1.4 3.2l1.4-0.5l1.4 6.5l1.4-2.4l1.3-2.9l1.4-1.5l1.4-1.9l1.4-1.7l1.4-2.7l1.3-0.2l1.4-3.4l1.4-3.3l1.4-4.2l1.4-2.2l1.3-5.7l1.4-6.7l1.4 2l1.4-6.6l1.4-2.3l1.3-0.8l1.4 8.1l1.4 8.3l1.4-1.5l1.4 2l1.3 4.4l1.4 5.8l1.4 4.2l1.4 1.6l1.4 5l1.3-0.3l1.4 2.1l1.4 5.4l1.4-1.7l1.4 0.2l1.3-2l1.4 3.3l1.4-1.5l1.4 2.2l1.4-6.8l1.3 0.9l1.4 5.2l1.4-1.8l1.4 1.4l1.4-2.6l1.3 1.8l1.4 1l1.4-2.9l1.4 2.5l1.4 0.5l1.3-1.1l1.4 1.7l1.4-0.5l1.4 0.1l1.4 1.3l1.3-2.4l1.4-1.2l1.4 5.4l1.4 0.3l1.4 0.1l1.3-4l1.4-1.1l1.4 0.1l1.4 2.9l1.4 4.2l1.3 1l1.4-4.4l1.4 1.7l1.4 1.6l1.4-0.6l1.3 0.4l1.4-1l1.4 1.7l1.4 2.1l1.4-3l1.3 6.3l1.4-2.9l1.4 2.9l1.4 3.4l1.4-1.1l1.3 3l1.4-5.1l1.4 3.1l1.4-0.1l1.4 0.2l1.3 1.1l1.4 2.2l1.4 1.4l1.4 3.7l1.4-1.9l1.3 1.3l1.4-1.1l1.4 0.8l1.4-1.2l1.4 0l1.3 1.7l1.4-1.8l1.4-1.3l1.4 0.8l1.4 0.5l1.3-0.9l1.4 0.7l1.4-4l1.4 0.7l1.4 0.9l1.3-3.9l1.4 7.8l1.4-2l1.4-3.1l1.4-0.4l1.3 0.4l1.4-3.3l1.4 1.3l1.4 5.1l1.4-5.9l1.3 3.3l1.4-1.4l1.4 0.3l1.4-0.6l1.4-0.3l1.3 0.3l1.4 0.1l1.4-1.6l1.4 0.7l1.4 1l1.3-1.5l1.4 3l1.4 3.2l1.4-6.3l1.4 2.7l1.3 2.9l1.4-4l1.4-2.2l1.4 4.7l1.4 0.2l1.3-3l1.4 3.5l1.4 3l1.4-4.7l1.4 5.8l1.3-1l1.4-0.1l1.4-1.6l1.4-1.3l1.4 2.7l1.3 1.6l1.4-1.1l1.4-4.2l1.4 2.7l1.4 3.4l1.3-4.7l1.4-1l1.4-2.1l1.4-2.3l1.4 0l1.3 0.1l1.4-2.6l1.4-2.5l1.4-1.7l1.4-1.8l1.3-0.9l1.4 0.7l1.4 3.8l1.4 3.6l1.4-4.4l1.3 7.7l1.4-1.8l1.4-1l1.4 2l1.4 3.9l1.3-1l1.4-1.1l1.4 4.1l1.4 2l1.4-1.3l1.3-5.6l1.4 2.5l1.4-0.9l1.4-3.5l1.4 1.3l1.3-3.5l1.4-1.6l1.4 0.8l1.4-5.4l1.4 0.6l1.3-5.9l1.4-3.6" fill="none" stroke="#406FA9" stroke-width="4.1" stroke-linejoin="round" stroke-linecap="round" />
<path d="M137.8 2123.2l1.4 4.7l1.3 6.4l1.4 2.4l1.4 4.2l1.4 5.2l1.4 5.1l1.3 9.7l1.4 1.4l1.4-1.1l1.4-1.8l1.4-1.2l1.3-4.7l1.4-3.1l1.4 4.5l1.4-4l1.4-0.5l1.3-7.1l1.4-5.6l1.4-8.3l1.4 7l1.4 2.8l1.3 7.1l1.4 6.4l1.4 2.7l1.4 1.9l1.4 4.9l1.3 0.2l1.4 3.8l1.4-7.1l1.4-0.8l1.4-1.1l1.3 1.2l1.4-2.2l1.4-3.1l1.4-2.2l1.4-5.8l1.3-1.4l1.4-2.1l1.4-5.7l1.4-0.8l1.4-8.4l1.3-4.8l1.4-1l1.4 2.5l1.4 8.6l1.4-3.7l1.3-0.1l1.4 0.3l1.4 0.2l1.4 0.3l1.4 0.3l1.3 0.3l1.4 0.3l1.4 0.3l1.4 0.2l1.4 0.3l1.3 0.3l1.4 0.3l1.4 0.3l1.4 0.3l1.4 0.3l1.3 0.2l1.4 0.3l1.4 0.3l1.4 0.3l1.4 0.3l1.3 0.3l1.4 0.2l1.4 0.3l1.4 0.3l1.4 2.5l1.3 4.8l1.4 2.1l1.4-1l1.4 3.3l1.4 2l1.3 1.8l1.4 0.5l1.4 1.1l1.4-1.6l1.4 5.2l1.3 2.9l1.4 0.9l1.4 3.3l1.4-3.6l1.4 0.8l1.3-4.4l1.4 1.2l1.4-2.9l1.4-7.1l1.4 4.8l1.3-3l1.4-1.3l1.4-2.5l1.4-0.9l1.4 0.5l1.3-4.4l1.4-1.7l1.4-4.9l1.4-1.2l1.4-3.8l1.3-4.9l1.4-0.9l1.4 0l1.4-4.4l1.4-2.5l1.3 7.9l1.4 1.9l1.4-0.7l1.4-1.6l1.4 2.2l1.3-0.6l1.4 0.4l1.4 2.1l1.4 1.3l1.4-0.1l1.3 0.3l1.4-1.7l1.4-3.5l1.4 2.8l1.4-0.6l1.3 0l1.4-6.1l1.4 2.7l1.4 1.9l1.4-5.3l1.3 0.7l1.4-0.3l1.4-3.3l1.4 4.3l1.4-0.1l1.3-3.6l1.4-0.7l1.4 2.1l1.4 0.1l1.4 0.1l1.3-8.9l1.4 2.5l1.4 6.8l1.4-2.8l1.4 5.4l1.3 0.8l1.4 3.2l1.4 6.3l1.4 5.6l1.4 2l1.3 1.4l1.4 1.9l1.4 0.7l1.4 1l1.4-4.2l1.3-1.1l1.4-1.4l1.4 1.6l1.4-3.8l1.4-1.7l1.3-3.7l1.4-2.8l1.4-0.6l1.4-2.4l1.4-4.2l1.3 6.9l1.4 2.3l1.4 5.2l1.4 7.4l1.4 4.5l1.3 5.6l1.4 4l1.4 4l1.4 1.9l1.4 0.4l1.3 2.2l1.4 0.8l1.4-5.1l1.4-5.2l1.4-4.9l1.3-6.6l1.4 1.8l1.4 3.8l1.4-1.4l1.4 2.5l1.3-0.8l1.4 2.1l1.4 1.9l1.4 2.8l1.4-0.6l1.3 1.6l1.4 3.2l1.4-2.6l1.4-2.2l1.4 0.8l1.3-2.1l1.4-3.4l1.4 0.2l1.4 0.2l1.4 0.3l1.3 0.2l1.4 0.2l1.4 0.3l1.4 0.2l1.4 0.2l1.3 0.2l1.4 0.3l1.4 0.2l1.4 0.2l1.4 0.3l1.3 0.2l1.4 0.2l1.4 0.3l1.4 0.2l1.4 0.2l1.3 0.2l1.4 0.3l1.4 0.2l1.4 0.2l1.4 0.3l1.3 0.2l1.4 0.2l1.4 0.3l1.4 0.2l1.4 0.2l1.3 0.2l1.4 1l1.4 3.7l1.4 0.6l1.4 0.2l1.3 2.4l1.4 1.9l1.4 1.7l1.4-1.4l1.4-3.6l1.3 4.6l1.4 0.4l1.4 2.1l1.4 0.6l1.4-2.3l1.3-1.4l1.4 1.9l1.4-1.4l1.4-6.5l1.4 2.8l1.3-3.6l1.4-3.6l1.4-4.2l1.4-5.7l1.4-1.2l1.3-6.8l1.4-6.3l1.4 0.1l1.4 0.1l1.4 0.2l1.3 0.1l1.4 0.1l1.4 0.2l1.4 0.1l1.4 0.1l1.3 0.1l1.4 0.2l1.4 0.1l1.4 0.1l1.4 0.2l1.3 0.1l1.4 0.1l1.4 0.1l1.4 0.2l1.4 0.1l1.3 0.1l1.4 0.1l1.4 0.2l1.4 0.1l1.4 0.1l1.3 0.2l1.4 0.1l1.4 0.1l1.4 0.1l1.4 0.2l1.3 0.1l1.4 0.1l1.4 0.2l1.4 0.1l1.4 0.1l1.3 0.1l1.4 0.2l1.4 0.1l1.4 0.1l1.4 0.2l1.3 2.2l1.4 2.3l1.4 0.6l1.4 2.7l1.4 2.4l1.3 5.2l1.4-0.4l1.4-0.2l1.4-2.5l1.4 3.3l1.3 0.1l1.4 0.8l1.4 3.8l1.4-0.1l1.4 0.9l1.3 0.9l1.4 1.1l1.4-0.1l1.4 1.4l1.4 2.7l1.3 0.7l1.4-1.2l1.4 1.8l1.4 2.8l1.4-1l1.3 5.3l1.4-6.7l1.4 1.3l1.4-1.3l1.4 2.7l1.3-1.2l1.4 3l1.4 1.6l1.4-3.7l1.4 1.4l1.3 2.1l1.4-1.9l1.4-1.8l1.4 4.3l1.4-5l1.3-0.3l1.4-1.3l1.4 1.6l1.4-1.5l1.4-1.9l1.3-1.8l1.4 1.1l1.4-2.5l1.4 0.1l1.4-3.6l1.3 0.8l1.4-2l1.4-0.9l1.4-4.9l1.4 4.6l1.3 2.2l1.4 4l1.4-2.4l1.4 2.5l1.4 0.9l1.3 4.2l1.4-4.4l1.4 0.7l1.4-0.8l1.4-2.2l1.3-5.6l1.4 2.7l1.4-4.5l1.4 0.9l1.4-0.8l1.3 2.6l1.4 0.5l1.4 5.8l1.4 2.3l1.4 1.3l1.3 1.5l1.4 1.2l1.4 0.9l1.4-2.4l1.4 3.7l1.3-1.1l1.4-7l1.4 1.6l1.4 0.1l1.4-0.5l1.3-3.9l1.4 2l1.4-2.7l1.4 1.7l1.4-3l1.3 0.1l1.4-1l1.4-2.9l1.4-2.8l1.4 2.7l1.3-0.6l1.4-4.9l1.4 1l1.4-5.5l1.4-0.4l1.3-4l1.4 0.8l1.4-3.5l1.4-2.2l1.4 2.3l1.3-0.6l1.4 0.6l1.4-6.2l1.4 3.2l1.4-1.9l1.3 6.2l1.4 3.1l1.4-6.3l1.4 11.3l1.4-4.5l1.3 2.4l1.4 0.3l1.4 1.9l1.4-1l1.4-3.2l1.3-0.1l1.4-1.3l1.4-3.1l1.4-4.3l1.4 3.1l1.3-3.3l1.4-3.2l1.4-1.8l1.4 0.1l1.4-0.6l1.3 2.8l1.4-0.1l1.4 6.2l1.4-0.6l1.4 0.4l1.3 1.2l1.4 6.7l1.4-1.6l1.4 0.9l1.4 3.2l1.3-0.7l1.4 1.7l1.4 1.4l1.4-3l1.4-4.9l1.3-1.8l1.4-1l1.4-0.2l1.4 0.3l1.4-2.7l1.3 0.5l1.4 4.9l1.4-3.7l1.4-0.9l1.4-7.2l1.3 6.3l1.4-4.7l1.4 0.6l1.4 0.6l1.4 0.5l1.3 0.9l1.4 1.4l1.4 1.3l1.4 2l1.4 3.3l1.3 3.1l1.4 3.6l1.4-1l1.4 1.9l1.4 2.6l1.3-1l1.4 3.8l1.4-3.7l1.4 3.8l1.4-2.1l1.3-2.2l1.4-1.8l1.4 0.8l1.4 0.4l1.4-2.7l1.3-3.7l1.4 3l1.4-0.4l1.4 3.4l1.4-0.7l1.3 5.3l1.4 0.2l1.4-0.3l1.4-1.6l1.4-0.2l1.3-3.4l1.4-0.1l1.4-2.5l1.4-5.4l1.4-0.2l1.3 3.7l1.4-2.6l1.4 7.1l1.4 0.7l1.4 0.7l1.3 2.7l1.4 1.1l1.4 0.9l1.4 0.2l1.4-2.8l1.3 0.8l1.4-4l1.4 1l1.4 4.3l1.4 0l1.3-2.6l1.4-2l1.4 4.6l1.4 1.2l1.4-2.1l1.3 3l1.4 0.4l1.4 1.9l1.4-1.3l1.4 4.4l1.3 3l1.4-5.3l1.4 2.7l1.4 4.8l1.4-2.2l1.3 1.3l1.4-1.1l1.4 1.7l1.4 5.6l1.4-6.1l1.3 5l1.4-3.7l1.4 0l1.4-1.7l1.4 1.8l1.3-1.3l1.4 4.1l1.4-6.1l1.4 0.3l1.4 0.8l1.3 0.4l1.4 0.6l1.4 1l1.4 0.2l1.4-2.6l1.3 2.5l1.4-2.2l1.4 2.9l1.4 1l1.4 1.6l1.3-2.2l1.4 1.5l1.4-2.8l1.4-1.4l1.4 0.3l1.3-0.7l1.4 2.3l1.4-6.3l1.4-1.5l1.4 4.6l1.3-1.4l1.4-0.1l1.4 1.4l1.4 0.7l1.4-3.2l1.3 2.4l1.4-0.6l1.4 3l1.4-0.5l1.4 2.2l1.3-2.3l1.4 0.2l1.4-0.4l1.4 2.4l1.4-1.5l1.3 3.1l1.4-4.3l1.4-1l1.4 1.7l1.4 0.7l1.3 1.5l1.4 0.1l1.4-1.4l1.4-3.9l1.4 3l1.3-1.9l1.4-5.8l1.4-0.5l1.4 2l1.4-4l1.3-4.7l1.4 2.7l1.4-3.9l1.4-5.4l1.4 2.8l1.3 2.6l1.4 4.7l1.4-1.5l1.4-0.5l1.4 1.1l1.3-0.2l1.4 2.7l1.4 0.5l1.4 1.8l1.4 2.8l1.3-2.7l1.4 3.9l1.4-3.8l1.4 10.9l1.4-3.1l1.3-3.5l1.4 2.9l1.4-3.1l1.4-3.1l1.4 1.7l1.3-1.6l1.4 2.3l1.4-4.6l1.4-2.6l1.4 0l1.3-5.2l1.4-3.4" fill="none" stroke="#B23E39" stroke-width="4.1" stroke-linejoin="round" stroke-linecap="round" />
<path d="M137.8 2105.4l1.4 9l1.3 2.6l1.4 1.2l1.4 4l1.4 2.6l1.4-2.9l1.3-1.4l1.4-4.4l1.4-4.5l1.4-4.4l1.4-6.5l1.3 6.7l1.4 0.1l1.4 10.3l1.4 2.8l1.4 5.5l1.3-1l1.4-3l1.4 0.5l1.4-3.1l1.4 6.4l1.3-1.7l1.4 2.8l1.4-0.2l1.4 3.5l1.4 6.1l1.3 10l1.4 1.4l1.4-7.2l1.4-1.1l1.4 0.6l1.3-2.9l1.4-1.5l1.4-6.7l1.4 2.1l1.4-0.7l1.3-2l1.4-8.6l1.4 0.3l1.4 0.6l1.4-5.7l1.3 1l1.4-1.6l1.4 1.3l1.4-0.3l1.4 0.3l1.3 0.3l1.4 0.2l1.4 0.3l1.4 0.3l1.4 0.3l1.3 0.3l1.4 0.3l1.4 0.3l1.4 0.3l1.4 0.3l1.3 0.3l1.4 0.3l1.4 0.2l1.4 0.3l1.4 0.3l1.3 0.3l1.4 0.3l1.4 0.3l1.4 0.3l1.4 0.3l1.3 0.3l1.4 0.3l1.4 0.2l1.4 0.3l1.4 0.3l1.3 0.4l1.4 2l1.4 1.1l1.4-4.9l1.4 12.4l1.3 1l1.4 1.6l1.4-1.1l1.4 3.8l1.4-0.2l1.3-1l1.4 1.9l1.4-1.4l1.4 1.1l1.4-1.9l1.3-0.3l1.4 2.7l1.4-0.2l1.4-3l1.4-0.9l1.3 1.3l1.4 1.1l1.4-3.7l1.4-0.9l1.4-2l1.3 2.1l1.4-7.9l1.4 0l1.4-1.5l1.4-2.8l1.3-1.8l1.4-1.2l1.4-0.5l1.4 3.5l1.4-5.6l1.3 3.7l1.4-4.5l1.4 4.4l1.4-2.6l1.4 0.8l1.3 1.1l1.4-1.3l1.4 1.3l1.4 1.9l1.4 0.3l1.3-2l1.4-2.1l1.4-2.7l1.4 5.5l1.4 0.4l1.3-5.7l1.4 4l1.4-1.6l1.4 1.4l1.4-4l1.3-1.3l1.4-1.4l1.4-0.5l1.4-0.6l1.4-3.3l1.3-0.1l1.4 0l1.4-1.1l1.4-4.4l1.4 2.8l1.3-1.7l1.4-1.7l1.4-0.8l1.4 2.2l1.4 1.3l1.3 7l1.4 6.5l1.4 3.5l1.4 1.9l1.4 2.6l1.3-0.1l1.4-2.1l1.4 2.4l1.4-1.1l1.4 0.7l1.3-6.2l1.4 3.6l1.4-0.8l1.4-4.6l1.4-0.8l1.3-2.2l1.4 0.5l1.4-3.5l1.4-2.4l1.4 0.2l1.3 2.3l1.4-0.6l1.4-2.8l1.4 4.9l1.4 4.7l1.3 4.5l1.4 1.2l1.4 4.9l1.4-6.7l1.4-1.8l1.3-2.5l1.4-6.5l1.4-6.2l1.4-0.1l1.4 9.7l1.3 1.9l1.4 3.1l1.4-3l1.4-3.4l1.4 0.8l1.3-5l1.4-1.6l1.4-1.7l1.4-3.7l1.4-0.6l1.3 2.2l1.4 3.8l1.4 0.9l1.4-3.4l1.4-5.6l1.3-2.7l1.4-0.8l1.4 0.1l1.4 0.1l1.4 0.2l1.3 0.1l1.4 0.1l1.4 0.1l1.4 0.2l1.4 0.1l1.3 0.1l1.4 0.2l1.4 0.1l1.4 0.1l1.4 0.1l1.3 0.2l1.4 0.1l1.4 0.1l1.4 0.2l1.4 0.1l1.3 0.1l1.4 0.1l1.4 0.2l1.4 0.1l1.4 0.1l1.3 0.2l1.4 0.1l1.4 0.1l1.4 0.1l1.4 0.2l1.3 0.1l1.4 1.3l1.4 2.5l1.4 1.1l1.4 0.8l1.3 2l1.4 8.1l1.4 6.9l1.4 12.7l1.4 2.2l1.3-1.7l1.4-1.8l1.4-1.4l1.4 0.4l1.4-1l1.3 0l1.4-0.1l1.4 1.1l1.4-0.8l1.4 1.6l1.3-3.2l1.4-5l1.4-8.6l1.4-3.3l1.4-1.3l1.3-6.3l1.4-4.4l1.4-3.6l1.4 0.1l1.4 0.1l1.3 0.1l1.4 0.1l1.4 0.1l1.4 0.1l1.4 0.1l1.3 0.1l1.4 0.1l1.4 0.1l1.4 0.1l1.4 0.1l1.3 0.1l1.4 0.1l1.4 0.1l1.4 0.1l1.4 0.1l1.3 0.1l1.4 0.1l1.4 0.1l1.4 0.2l1.4 0.1l1.3 0.1l1.4 0.1l1.4 0.1l1.4 0.1l1.4 0.1l1.3 0.1l1.4 0.1l1.4 0.1l1.4 0.1l1.4 0.1l1.3 0.1l1.4 0.1l1.4 0.1l1.4 0.1l1.4 0.3l1.3 5.6l1.4 7l1.4 4.6l1.4 8.1l1.4 10.9l1.3 1l1.4-3.2l1.4-2.1l1.4 0l1.4 0l1.3 0l1.4 0l1.4 0l1.4 0l1.4 0l1.3 0l1.4 0l1.4 0l1.4 0l1.4 0l1.3 0l1.4 1.7l1.4 0.9l1.4 5.1l1.4-6.7l1.3-0.9l1.4-1.5l1.4-1.7l1.4-3.9l1.4-1.2l1.3 9.6l1.4 4.5l1.4 1.7l1.4 6.1l1.4 1.8l1.3 0.5l1.4 0.6l1.4 1.2l1.4 1.2l1.4-4.6l1.3-3.1l1.4 3.7l1.4-4.8l1.4 7.1l1.4-6.3l1.3 1.9l1.4-3.7l1.4-1.2l1.4-4l1.4-0.7l1.3 0.6l1.4-3l1.4 1.2l1.4-0.8l1.4-0.4l1.3 4.2l1.4 1.7l1.4 0.9l1.4-2.5l1.4 4.9l1.3 3.3l1.4-5.1l1.4 2.1l1.4-0.9l1.4-3.7l1.3 1.4l1.4-3.6l1.4-2.1l1.4-2.4l1.4 3.6l1.3 2.7l1.4 0.4l1.4 1.7l1.4-4.9l1.4 8.2l1.3 3.8l1.4 5l1.4 3.3l1.4 2.3l1.4 2.7l1.3 2.1l1.4-4.2l1.4-2.1l1.4 1.3l1.4-6.1l1.3 2.9l1.4-4.9l1.4-2.3l1.4 0.1l1.4-4.4l1.3-0.6l1.4 1.7l1.4-5.3l1.4-4.9l1.4-3.2l1.3-2l1.4-3.2l1.4-3.6l1.4 3.2l1.4-7.5l1.3-1.6l1.4 0.4l1.4-7.2l1.4 3.4l1.4-3.6l1.3-1.2l1.4 4l1.4 1.1l1.4-6.8l1.4 4.1l1.3 5.6l1.4 3.9l1.4 8.2l1.4-1.7l1.4 0.5l1.3 1.4l1.4-2.6l1.4-0.8l1.4 0.3l1.4-5.5l1.3-1.2l1.4 0.1l1.4-0.1l1.4-3.8l1.4 3.6l1.3-1.3l1.4-2.3l1.4 0.3l1.4 3l1.4-0.5l1.3-0.2l1.4 1.1l1.4-2l1.4-2.4l1.4-1.5l1.3-2.4l1.4 5.7l1.4 3.1l1.4 2l1.4 0.4l1.3 1.8l1.4-0.9l1.4 0.8l1.4-0.8l1.4-6.7l1.3-4.9l1.4 1.9l1.4-4.8l1.4-0.8l1.4-3.3l1.3-4.4l1.4-7.4l1.4-8l1.4-12.8l1.4-15.8l1.3-17.4l1.4 20l1.4 22.4l1.4 8.6l1.4-0.9l1.3 1.4l1.4 1.5l1.4 6.3l1.4 3.1l1.4 10.3l1.3 1.5l1.4 1.1l1.4 0.2l1.4 0.4l1.4-5.5l1.3 0.9l1.4 3.1l1.4-7l1.4 0.4l1.4-2.4l1.3-0.4l1.4-2.4l1.4 1.9l1.4-1.2l1.4 5.9l1.3-0.8l1.4 3.3l1.4 4.4l1.4 4.5l1.4 3.6l1.3-1.9l1.4 6.1l1.4 0.4l1.4-4.6l1.4 6.7l1.3-5.5l1.4-0.6l1.4-2.2l1.4 4.3l1.4-6.9l1.3 8.6l1.4 3.3l1.4-0.3l1.4 3.5l1.4-3.1l1.3 2.1l1.4 2.9l1.4-3.7l1.4-6.8l1.4-2.2l1.3-5.1l1.4 2.4l1.4-8.7l1.4-0.9l1.4-3.3l1.3-7.2l1.4 8.4l1.4 1.7l1.4 2.9l1.4 2.9l1.3 3.1l1.4 4.5l1.4 4.2l1.4-3.1l1.4 3.6l1.3 11l1.4 4.3l1.4 5.3l1.4 0.5l1.4-0.6l1.3 3.7l1.4 2.7l1.4-2.3l1.4 0.4l1.4-4.2l1.3 6l1.4-3.1l1.4 3.1l1.4-5.6l1.4 1.8l1.3-4.9l1.4 0.2l1.4-6l1.4-4.7l1.4 1.8l1.3-3.4l1.4-5.8l1.4 0.7l1.4-2.9l1.4-0.1l1.3-4.7l1.4 0.1l1.4-5.4l1.4-0.6l1.4 1.9l1.3 1.7l1.4 1.8l1.4 5.3l1.4 2.8l1.4 0.4l1.3 2.1l1.4 0.7l1.4 3.4l1.4 6.2l1.4-2.2l1.3 4.7l1.4 1.2l1.4 3.4l1.4 3.3l1.4-5.9l1.3 5.6l1.4-2.2l1.4-1.2l1.4 0.1l1.4 1.4l1.3-6.4l1.4 3.1l1.4-1.8l1.4-1.5l1.4-1.5l1.3 1.8l1.4-0.5l1.4-0.8l1.4 3l1.4 1.7l1.3 3.8l1.4 3.3l1.4 2.5l1.4-4.2l1.4-4.2l1.3-5.2l1.4 0.1l1.4-8.4l1.4 0.9l1.4-10.5l1.3-2.2l1.4-7.5l1.4-3.9l1.4-0.9l1.4-1l1.3 1.3l1.4 1.2l1.4 3.7l1.4-0.1l1.4 4.9l1.3 8.6l1.4 1.4l1.4 1.3l1.4 7.3l1.4 1.9l1.3 6.2l1.4 3.6l1.4 4.8l1.4 3.8l1.4-0.4l1.3-2.3l1.4-2.6l1.4 1l1.4-3l1.4 2.2l1.3-0.6l1.4-3l1.4 0.8l1.4-0.5l1.4-2.5l1.3-3.8l1.4-3.1" fill="none" stroke="#88A74B" stroke-width="4.1" stroke-linejoin="round" stroke-linecap="round" />
<path d="M137.8 2145.9l1.4 4.4l1.3-0.7l1.4 2.4l1.4 4.5l1.4-2.2l1.4 1.5l1.3 2.1l1.4 1.7l1.4-0.7l1.4 0.1l1.4-3.9l1.3 6.5l1.4-4.1l1.4 0.6l1.4 1.5l1.4-4l1.3 2.9l1.4-0.1l1.4 3.4l1.4-3.2l1.4 4.8l1.3 2.7l1.4-2l1.4-1.4l1.4 0.7l1.4-1.8l1.3 3.1l1.4 5.8l1.4-8.7l1.4-0.9l1.4-1.4l1.3 1.5l1.4-5.7l1.4 1.1l1.4-0.5l1.4-2l1.3-3.1l1.4-2.7l1.4 0.7l1.4-1.3l1.4-2.2l1.3-3.5l1.4-2l1.4-0.8l1.4 0.3l1.4 0l1.3 0.3l1.4-0.1l1.4-0.1l1.4-0.1l1.4-0.2l1.3-0.1l1.4-0.1l1.4-0.1l1.4-0.1l1.4-0.2l1.3-0.1l1.4-0.1l1.4-0.1l1.4-0.2l1.4-0.1l1.3-0.1l1.4-0.1l1.4-0.1l1.4-0.2l1.4-0.1l1.3-0.1l1.4-0.1l1.4-0.2l1.4-0.1l1.4 1.6l1.3 4.5l1.4 2.6l1.4 2.1l1.4 1.8l1.4-3.1l1.3 2l1.4-2l1.4 3.6l1.4-5.8l1.4 4.2l1.3-7.3l1.4 5.3l1.4-0.3l1.4 1.9l1.4-0.5l1.3-2.6l1.4 1.2l1.4 1.2l1.4-0.9l1.4-4.5l1.3 0.5l1.4 3.8l1.4-2.8l1.4 0l1.4-1.5l1.3-3.9l1.4 1.2l1.4-1.8l1.4-2.2l1.4 0.8l1.3-0.8l1.4 0.5l1.4 0.6l1.4-1.5l1.4 1.9l1.3-3.8l1.4 0.4l1.4 1.3l1.4 0.2l1.4 0.1l1.3 0.7l1.4-1.4l1.4 0.8l1.4 3.8l1.4-2.4l1.3 0.3l1.4 2.4l1.4-3.5l1.4 4.5l1.4-0.6l1.3-1.1l1.4 4.1l1.4-4.8l1.4 2.7l1.4 4.4l1.3 2.5l1.4-4l1.4 1.3l1.4-1.9l1.4-2.5l1.3 2.6l1.4-0.7l1.4 1.1l1.4-1.2l1.4 0.7l1.3 1.9l1.4-0.4l1.4 1l1.4-0.1l1.4 2.2l1.3-3.7l1.4 8.4l1.4-2.4l1.4-1.2l1.4-0.6l1.3 4.3l1.4 1.5l1.4-2.4l1.4-0.4l1.4-1.6l1.3 3.5l1.4-1.6l1.4-0.3l1.4-3.2l1.4 2.1l1.3-1.6l1.4 0.7l1.4-0.2l1.4-2.7l1.4 1.8l1.3 0.4l1.4 8.2l1.4-2.5l1.4-4.6l1.4 9.3l1.3-1.8l1.4-0.9l1.4 0.4l1.4-1.8l1.4-1.6l1.3-5.4l1.4 5.4l1.4-1.1l1.4-6.3l1.4 0.3l1.3-4.5l1.4-1.5l1.4 1.4l1.4 2.5l1.4 0.3l1.3-0.6l1.4 1.9l1.4 1.2l1.4-0.8l1.4-0.5l1.3 1.5l1.4 6.1l1.4-3.5l1.4 4.7l1.4-5.8l1.3 2.8l1.4-6.1l1.4-4.9l1.4 0.4l1.4 0.4l1.3 0.4l1.4 0.4l1.4 0.4l1.4 0.4l1.4 0.4l1.3 0.4l1.4 0.4l1.4 0.4l1.4 0.4l1.4 0.4l1.3 0.5l1.4 0.4l1.4 0.4l1.4 0.4l1.4 0.4l1.3 0.4l1.4 0.4l1.4 0.4l1.4 0.4l1.4 0.4l1.3 0.4l1.4 0.4l1.4 0.4l1.4 0.4l1.4 0.4l1.3 0.4l1.4 1.3l1.4 1.3l1.4 3.1l1.4 2.3l1.3 1.5l1.4 0.2l1.4 1.7l1.4 4.1l1.4-3.7l1.3-0.8l1.4-0.3l1.4 2.1l1.4-2.5l1.4 3.3l1.3-1.6l1.4 1.8l1.4 1.3l1.4-5.4l1.4 0.1l1.3 2.2l1.4-3.4l1.4-2l1.4-0.9l1.4-3.6l1.3-1l1.4-1.7l1.4-2l1.4 0.1l1.4 0.1l1.3 0.2l1.4 0.1l1.4 0.1l1.4 0.2l1.4 0.1l1.3 0.1l1.4 0.2l1.4 0.1l1.4 0.1l1.4 0.1l1.3 0.2l1.4 0.1l1.4 0.1l1.4 0.2l1.4 0.1l1.3 0.1l1.4 0.2l1.4 0.1l1.4 0.1l1.4 0.1l1.3 0.2l1.4 0.1l1.4 0.1l1.4 0.2l1.4 0.1l1.3 0.1l1.4 0.2l1.4 0.1l1.4 0.1l1.4 0.1l1.3 0.2l1.4 0.1l1.4 0.1l1.4 0.2l1.4 0.1l1.3 1.2l1.4 1.5l1.4 0l1.4 2.6l1.4 0.2l1.3 2.5l1.4-0.9l1.4 2.4l1.4-2.9l1.4-2l1.3-1.5l1.4 0.9l1.4 1l1.4-1.2l1.4 0l1.3 4.1l1.4 1l1.4-2.3l1.4 5.4l1.4-1.4l1.3 2.1l1.4 1.6l1.4-5.7l1.4 4.1l1.4 1.2l1.3 0.3l1.4 2.8l1.4 0.2l1.4-0.9l1.4-3l1.3 3.6l1.4 1.7l1.4-1.9l1.4 0l1.4 0.8l1.3-2.1l1.4 0.6l1.4-0.1l1.4 1.6l1.4-3.8l1.3-2.7l1.4 1.2l1.4 1.5l1.4-1.8l1.4-1.3l1.3-4.1l1.4-0.8l1.4 0.6l1.4-2.2l1.4 3.5l1.3-0.7l1.4-4.5l1.4-0.1l1.4 1.1l1.4-1.9l1.3-1.2l1.4-0.2l1.4 0.2l1.4 4.8l1.4-1.1l1.3 0.8l1.4-1l1.4 3l1.4 0.6l1.4 2.1l1.3-2.3l1.4 3.6l1.4-0.2l1.4 2.2l1.4 3.3l1.3-7.5l1.4 4.7l1.4 1.8l1.4 1.4l1.4 4.7l1.3-2.1l1.4-0.8l1.4-2.1l1.4 5.3l1.4-1.6l1.3-0.7l1.4 1.1l1.4-5.5l1.4 2.7l1.4-1.2l1.3-2.6l1.4-0.3l1.4-2.9l1.4 0.2l1.4-3.2l1.3-1.3l1.4-1.1l1.4 0.8l1.4 1.3l1.4 0.5l1.3 0.1l1.4 1.4l1.4-4.1l1.4-4.6l1.4 3.9l1.3-0.1l1.4-1.8l1.4 2.6l1.4-2.7l1.4 0.2l1.3-1.9l1.4 1.6l1.4 2l1.4-2.2l1.4-2.7l1.3 4.1l1.4-1.7l1.4-0.9l1.4 4l1.4-0.4l1.3-2.8l1.4-3l1.4 1.4l1.4 1.2l1.4-1.4l1.3-2l1.4-2l1.4-0.9l1.4-1.9l1.4-0.7l1.3 3.9l1.4-0.8l1.4 0l1.4-2.1l1.4 0.7l1.3-1.5l1.4-2.8l1.4 5.3l1.4-0.4l1.4 1.1l1.3 2l1.4 4.2l1.4 2.7l1.4 0.6l1.4-2.5l1.3 6.9l1.4 0l1.4-3.6l1.4 0.9l1.4-0.9l1.3-0.8l1.4 0.3l1.4-1.7l1.4-1.1l1.4-6.3l1.3 4.1l1.4-3.2l1.4-1.5l1.4 5.9l1.4-2.5l1.3-3.8l1.4 2l1.4-3.1l1.4 0.4l1.4 3.7l1.3-1.1l1.4 1.2l1.4 3.9l1.4 1l1.4-4.3l1.3 2.8l1.4 2.8l1.4-1l1.4-0.2l1.4-1.4l1.3-0.8l1.4 1.7l1.4 0.6l1.4 1.3l1.4-2.2l1.3 1.1l1.4-3.2l1.4-3.5l1.4-6l1.4 3l1.3 3.4l1.4-1.4l1.4 6l1.4-0.7l1.4 4l1.3-1.5l1.4 4.5l1.4-0.1l1.4-5.9l1.4-1.2l1.3-1l1.4-4.7l1.4-2l1.4 0.3l1.4 6.8l1.3 0.5l1.4-0.4l1.4 4.8l1.4-0.7l1.4 1.6l1.3 2.6l1.4 1.5l1.4-2.4l1.4-5l1.4 2.1l1.3 3.3l1.4-5.4l1.4 1.8l1.4 0.9l1.4-2.9l1.3 1.1l1.4-2.8l1.4 2.6l1.4 0.6l1.4-0.2l1.3 5.8l1.4-1.4l1.4-0.4l1.4 0.7l1.4-0.1l1.3 0.6l1.4-1l1.4 5.3l1.4-3.5l1.4 5.3l1.3 0.7l1.4-1.6l1.4-0.9l1.4-2.8l1.4 5.3l1.3-0.2l1.4-2.9l1.4 3.3l1.4-0.7l1.4-4.6l1.3 5.3l1.4-4.3l1.4 1.1l1.4-1.2l1.4 4.6l1.3-5l1.4-0.5l1.4 3.3l1.4-4.9l1.4 2.4l1.3 0.5l1.4-3.5l1.4 1.4l1.4 3.9l1.4-2.9l1.3-1.6l1.4-1.7l1.4 4.9l1.4-3.8l1.4 2.4l1.3-4.1l1.4 0.8l1.4 1.3l1.4-0.2l1.4 1.7l1.3 1.3l1.4-0.3l1.4-1.6l1.4 1.1l1.4-1.5l1.3 4l1.4 1.2l1.4-3.9l1.4 4.8l1.4-0.1l1.3-2.4l1.4-0.3l1.4-1.5l1.4 3.8l1.4 2.9l1.3-1.4l1.4-1.9l1.4-2.5l1.4 6.5l1.4-3.7l1.3 1.7l1.4-1.9l1.4-0.6l1.4 3.1l1.4-5l1.3-0.2l1.4 2.6l1.4-4l1.4 0.7l1.4-6.3l1.3-0.5l1.4 2.8l1.4-1.4l1.4-0.9l1.4-3.9l1.3-0.3l1.4-0.3l1.4 3.9l1.4-3.2l1.4 6.1l1.3-0.6l1.4-0.6l1.4 3.8l1.4-1.7l1.4-0.7l1.3 1l1.4 2.6l1.4 3.7l1.4 0.5l1.4 2.1l1.3-1.6l1.4 0.6l1.4-1.4l1.4 0.5l1.4-4.5l1.3 0.6l1.4 1.5l1.4-8.3l1.4-1.9l1.4-8.6l1.3-14.5l1.4-16" fill="none" stroke="#6E509A" stroke-width="4.1" stroke-linejoin="round" stroke-linecap="round" />
<path d="M137.8 2137.8l1.4 2.1l1.3 1.5l1.4 2.7l1.4-2.9l1.4 2.5l1.4 1.4l1.3 0.2l1.4 3.3l1.4-4.4l1.4-0.5l1.4 0.5l1.3-0.9l1.4-1.4l1.4-6.1l1.4-3.7l1.4-6.8l1.3-6.9l1.4 2.3l1.4 1.4l1.4 5.8l1.4 4.2l1.3 5.1l1.4 4.4l1.4 2.2l1.4-1.2l1.4 3.8l1.3 0.8l1.4 0.3l1.4-2.7l1.4 0.3l1.4-3l1.3-0.6l1.4-2.7l1.4-1.5l1.4-2.3l1.4-4.7l1.3-4.6l1.4-2.3l1.4-3.7l1.4-4.1l1.4-5.7l1.3-5.7l1.4-3.5l1.4 10.3l1.4 0.3l1.4 6.5l1.3 3.5l1.4 0.2l1.4 0.1l1.4 0.2l1.4 0.1l1.3 0.2l1.4 0.1l1.4 0.2l1.4 0.1l1.4 0.2l1.3 0.1l1.4 0.2l1.4 0.1l1.4 0.2l1.4 0.2l1.3 0.1l1.4 0.2l1.4 0.1l1.4 0.2l1.4 0.1l1.3 0.2l1.4 0.1l1.4 0.2l1.4 0.1l1.4 0.2l1.3 0.4l1.4 3l1.4 3.3l1.4 2.5l1.4-4.6l1.3 4.2l1.4 1.9l1.4 0.9l1.4 0.2l1.4-2.4l1.3-4.1l1.4 3.9l1.4-3.4l1.4 5.2l1.4 0.9l1.3-2.7l1.4 1.3l1.4-2.9l1.4 1.1l1.4-3.7l1.3 0.3l1.4 1.4l1.4-2.6l1.4 2.9l1.4-1l1.3-2.1l1.4-2.2l1.4 1.4l1.4-5.9l1.4-8.3l1.3-3.3l1.4-7.9l1.4 6l1.4-7.8l1.4-5.2l1.3-0.4l1.4 5.2l1.4 7.7l1.4 1.9l1.4 6.5l1.3-2.9l1.4 3.4l1.4 0.4l1.4-1.7l1.4 0l1.3 2.6l1.4-0.5l1.4-3l1.4-0.7l1.4 2l1.3-0.2l1.4-4.2l1.4-0.8l1.4 0.1l1.4-3.5l1.3 4.9l1.4-4.5l1.4 3.1l1.4-3.9l1.4 0.3l1.3-3.1l1.4 0.9l1.4-0.9l1.4-5.1l1.4 2.4l1.3-0.2l1.4-2l1.4 2.2l1.4 1.2l1.4 6.9l1.3 7.5l1.4 2.2l1.4 1.9l1.4 8.8l1.4-2.3l1.3 6.2l1.4 4l1.4-4.5l1.4-0.5l1.4 3.2l1.3-5.4l1.4 2.8l1.4 3.8l1.4-4.3l1.4 1.8l1.3-0.8l1.4-1.3l1.4-0.8l1.4 2.6l1.4-5.3l1.3 4.8l1.4 1.7l1.4 2.4l1.4 3.3l1.4-1l1.3 6.4l1.4 4.7l1.4-3l1.4 2.6l1.4 4.1l1.3-6.7l1.4 1.5l1.4-3.9l1.4-1.9l1.4-2.5l1.3-3.4l1.4-0.3l1.4 0.3l1.4 0.8l1.4-2l1.3 5.2l1.4-1.5l1.4-1l1.4 1.1l1.4-3.8l1.3 6.3l1.4 1.9l1.4-1.3l1.4-10.4l1.4-9.6l1.3-5.8l1.4 0.2l1.4 0.3l1.4 0.2l1.4 0.3l1.3 0.5l1.4 0.6l1.4 0.5l1.4 0.5l1.4 0.6l1.3 0.5l1.4 0.6l1.4 0.5l1.4 0.6l1.4 0.5l1.3 0.6l1.4 0.5l1.4 0.6l1.4 0.5l1.4 0.5l1.3 0.6l1.4 0.5l1.4 0.6l1.4 0.5l1.4 0.6l1.3 0.5l1.4 0.6l1.4 0.5l1.4 0.5l1.4 0.6l1.3 0.5l1.4 2.8l1.4 7l1.4 3.1l1.4 3.6l1.3 2l1.4 0.5l1.4 3.6l1.4 1.2l1.4 2.1l1.3-6.1l1.4-2l1.4-4.2l1.4-0.8l1.4 3.3l1.3-1l1.4 1.2l1.4 1.8l1.4-3.9l1.4 3.8l1.3-1.6l1.4 3.2l1.4-2.5l1.4 5.2l1.4-9.4l1.3-5.5l1.4-6.1l1.4 0.4l1.4 0.3l1.4 0.3l1.3 0.4l1.4 0.3l1.4 0.3l1.4 0.4l1.4 0.3l1.3 0.3l1.4 0.4l1.4 0.3l1.4 0.3l1.4 0.4l1.3 0.3l1.4 0.3l1.4 0.4l1.4 0.3l1.4 0.3l1.3 0.4l1.4 0.3l1.4 0.3l1.4 0.4l1.4 0.3l1.3 0.3l1.4 0.4l1.4 0.3l1.4 0.3l1.4 0.3l1.3 0.4l1.4 0.3l1.4 0.3l1.4 0.4l1.4 0.3l1.3 0.3l1.4 0.4l1.4 0.3l1.4 0.3l1.4 0.4l1.3-0.1l1.4 0.3l1.4-3.3l1.4 1.7l1.4-4.4l1.3-1.2l1.4 0.7l1.4-1.9l1.4 0.9l1.4 6.4l1.3-4.8l1.4 1.2l1.4 4.2l1.4-2.6l1.4 2.5l1.3-4.8l1.4 0.2l1.4 4.2l1.4-1.6l1.4-3l1.3 0.3l1.4 3.9l1.4-2.4l1.4 5l1.4-1.6l1.3 2.8l1.4 0.9l1.4-0.1l1.4-0.4l1.4 4.3l1.3-2.7l1.4 2.4l1.4 0l1.4 1.2l1.4 0.8l1.3-3l1.4-0.1l1.4 1.4l1.4-2.9l1.4 2.2l1.3-1.4l1.4-1.5l1.4 0.9l1.4 1.4l1.4-4l1.3 0.3l1.4-4.7l1.4-0.5l1.4-7l1.4 1l1.3-3.9l1.4-1.1l1.4-0.6l1.4-9.2l1.4-1.9l1.3-3.1l1.4 11.2l1.4 4.9l1.4 2.5l1.4 0l1.3 5.7l1.4 0.7l1.4 0.2l1.4-4.6l1.4-1.8l1.3 1.1l1.4 3.7l1.4 9.3l1.4-3.7l1.4 5.9l1.3 3l1.4 0.9l1.4 6l1.4-1.4l1.4 2.1l1.3 1.7l1.4-1.5l1.4 1.1l1.4 1.1l1.4-3.7l1.3-1.9l1.4-1.9l1.4-1.1l1.4-0.5l1.4-3.5l1.3 3.6l1.4-3.7l1.4-1l1.4-4.4l1.4 1.7l1.3-0.6l1.4-2.4l1.4 1.4l1.4-5.3l1.4 0.7l1.3-2.7l1.4 0.2l1.4-2.2l1.4 1.4l1.4-6.1l1.3 0.5l1.4 2.5l1.4-2.6l1.4-0.5l1.4-0.8l1.3-0.6l1.4 3.9l1.4-3.3l1.4 3.9l1.4 0.3l1.3-0.3l1.4 4.1l1.4 1.8l1.4-4l1.4-2.1l1.3-2.8l1.4-1.2l1.4-5.9l1.4-2.8l1.4-7.6l1.3-3.4l1.4-3.2l1.4 1l1.4 3.1l1.4-5.2l1.3 1.7l1.4-1l1.4-2.4l1.4 1l1.4-1.9l1.3 6.1l1.4 5.2l1.4-0.6l1.4 7l1.4 0.5l1.3 4.2l1.4 1.8l1.4-1.3l1.4 3.4l1.4 4.6l1.3-4.5l1.4-0.4l1.4 1.8l1.4-1.3l1.4-1.7l1.3-5.9l1.4 2.8l1.4-2.5l1.4-2.6l1.4-5.1l1.3-4.5l1.4 0.8l1.4 0.2l1.4-0.5l1.4 4.6l1.3-6.4l1.4 6.1l1.4-2.7l1.4 1.1l1.4-0.9l1.3 4.7l1.4-2.5l1.4 0.9l1.4 1.7l1.4 7.8l1.3 5.1l1.4 2.9l1.4 6.2l1.4-1.2l1.4 0.1l1.3 1.2l1.4-3.1l1.4 2.9l1.4-2.1l1.4 3.4l1.3-4.1l1.4-0.4l1.4 0.5l1.4-2.1l1.4 0.3l1.3-2.3l1.4-4.4l1.4 3.4l1.4-0.8l1.4 2.8l1.3-7.2l1.4 3.3l1.4-3.3l1.4-1.9l1.4 4.2l1.3-2.1l1.4 2.7l1.4 1l1.4 0.3l1.4-1.3l1.3 2.9l1.4-0.7l1.4-0.7l1.4 0.6l1.4 0.9l1.3 5.1l1.4 0.8l1.4 0.7l1.4 0l1.4-1l1.3 4.1l1.4-6.9l1.4 2.2l1.4-0.5l1.4-1.5l1.3 0.4l1.4 2l1.4-1.8l1.4 2.2l1.4 1.2l1.3 0.2l1.4 2.4l1.4-4.3l1.4 6.9l1.4-0.6l1.3-2.9l1.4 2.5l1.4-1l1.4 1.8l1.4 1.2l1.3 1.7l1.4 1.4l1.4-0.3l1.4 2.1l1.4 3l1.3 1.1l1.4-3.1l1.4-0.9l1.4 3.3l1.4 0.6l1.3-2.7l1.4 1.2l1.4-1.5l1.4 2.8l1.4-4.4l1.3 2.1l1.4-1.4l1.4 0.8l1.4-0.9l1.4-2.8l1.3 3.7l1.4-4l1.4 3.6l1.4-3.3l1.4 2.4l1.3-2.2l1.4-1.8l1.4-1.7l1.4 0.7l1.4 3l1.3-3.1l1.4-0.8l1.4-2.1l1.4 0.1l1.4-0.5l1.3 2.1l1.4-1.1l1.4 1.3l1.4-3.3l1.4 4.7l1.3-0.2l1.4 3.3l1.4 1.3l1.4-1.6l1.4-1.7l1.3 2.9l1.4 3.1l1.4 2.2l1.4-4.5l1.4 1.1l1.3 1.2l1.4-1.9l1.4 1.1l1.4-2.8l1.4 2.4l1.3-2.2l1.4 3l1.4 0l1.4 1.1l1.4-1.5l1.3-3.6l1.4-2.9l1.4 2.4l1.4-4.2l1.4-0.3l1.3-1.2l1.4-0.4l1.4-0.5l1.4 0.2l1.4-1.7l1.3 1.4l1.4 0.2l1.4 0.8l1.4-3.5l1.4 4.6l1.3-3l1.4 3.4l1.4-2.3l1.4 2.5l1.4 5.5l1.3 0.3l1.4 0.7l1.4 6.4l1.4-0.6l1.4 2.7l1.3-7.3l1.4 2.2l1.4-5.4l1.4 3.8l1.4-5.4l1.3 2.1l1.4-5.7l1.4-1.7l1.4-0.6l1.4-2.5l1.3-1.6l1.4-5.8" fill="none" stroke="#3B99B6" stroke-width="4.1" stroke-linejoin="round" stroke-linecap="round" />
<path d="M137.8 2133.8l1.4 1.5l1.3 7.1l1.4 3.8l1.4 0.8l1.4 2.1l1.4 0.9l1.3 0.7l1.4 0.4l1.4-4.5l1.4-0.1l1.4 0.1l1.3-1.1l1.4-2.2l1.4 3.2l1.4 0.2l1.4-8.3l1.3-3.9l1.4-8.1l1.4 4.1l1.4 7.8l1.4 3.3l1.3 8.3l1.4 2l1.4 5.3l1.4 1.7l1.4-2.6l1.3 1.9l1.4 3l1.4-5l1.4 1.4l1.4 1.6l1.3-6.8l1.4 1.9l1.4-2.4l1.4-5l1.4-5.8l1.3-1.8l1.4 0.1l1.4-3.6l1.4-7.7l1.4 1.5l1.3-12.1l1.4-3l1.4 8.7l1.4 0.9l1.4 4.7l1.3 1.2l1.4 0.2l1.4 0.1l1.4 0.1l1.4 0.1l1.3 0.1l1.4 0.2l1.4 0.1l1.4 0.1l1.4 0.1l1.3 0.2l1.4 0.1l1.4 0.1l1.4 0.1l1.4 0.1l1.3 0.2l1.4 0.1l1.4 0.1l1.4 0.1l1.4 0.1l1.3 0.2l1.4 0.1l1.4 0.1l1.4 0.1l1.4 2.1l1.3 4.5l1.4 2.5l1.4 3l1.4 0l1.4 2.1l1.3-2.7l1.4 1.7l1.4 2.3l1.4 3.7l1.4 0.7l1.3-1l1.4 3.8l1.4 4l1.4-2.7l1.4-2.3l1.3-2.8l1.4 1.4l1.4 1.7l1.4-2.2l1.4-3.2l1.3-2.4l1.4-1.3l1.4-0.7l1.4 0.3l1.4-2.3l1.3-2.8l1.4-3.5l1.4 2l1.4-5.3l1.4-5.3l1.3 4.5l1.4-6.9l1.4 1.3l1.4 0.6l1.4-2.7l1.3 3.2l1.4 9.4l1.4 2.8l1.4-0.9l1.4 0.5l1.3 0.6l1.4 4.6l1.4-8.7l1.4-1.2l1.4-0.3l1.3-6l1.4 4.1l1.4-0.8l1.4 0.1l1.4-3.1l1.3 3.6l1.4-0.6l1.4-2.9l1.4-4.4l1.4 3.3l1.3 0l1.4 0.4l1.4-0.3l1.4-0.2l1.4-6l1.3 1.7l1.4 0.8l1.4-1.6l1.4 2.9l1.4-5.1l1.3-0.6l1.4-0.1l1.4-1.8l1.4 0.8l1.4 5.2l1.3 6.2l1.4 1.8l1.4 7.3l1.4 3.5l1.4-4.7l1.3 4.1l1.4 2.4l1.4 0l1.4 0.6l1.4-0.1l1.3-6.1l1.4 1.3l1.4-2.9l1.4-2.5l1.4 3.4l1.3-5.1l1.4 2.9l1.4-6.1l1.4-1.9l1.4-1.9l1.3 5.9l1.4 5.9l1.4 2.1l1.4 1.6l1.4 5.6l1.3 3l1.4 0.9l1.4 2.2l1.4 2.3l1.4-2l1.3-3.8l1.4 0.4l1.4-2.6l1.4-1.5l1.4 0.7l1.3-0.6l1.4-2.1l1.4-1.7l1.4-2.1l1.4 0.8l1.3 1.7l1.4-1.1l1.4-6.8l1.4 8.6l1.4 1.3l1.3 1.8l1.4 0l1.4 0.1l1.4 4.9l1.4-9.2l1.3-14.2l1.4-4.5l1.4 0l1.4 0l1.4 0l1.3 0l1.4 0l1.4 0l1.4 0l1.4 0l1.3 0l1.4 0l1.4 0l1.4 0l1.4 0l1.3 0l1.4 0l1.4 0l1.4 0l1.4 0l1.3 0l1.4 0l1.4 0l1.4 0l1.4 0l1.3 0l1.4 0l1.4 0l1.4 0l1.4 0l1.3 0l1.4 1.5l1.4 3l1.4 2.8l1.4 4.6l1.3 4.8l1.4 5.9l1.4 8.1l1.4 7l1.4-3.7l1.3 4.7l1.4-1.5l1.4 0.8l1.4 0.7l1.4-0.3l1.3-0.6l1.4-2.6l1.4-2.8l1.4 3.8l1.4-0.6l1.3-2.9l1.4-0.3l1.4-5.7l1.4 1.5l1.4-7.3l1.3-3.1l1.4-4.1l1.4 0.1l1.4 0.2l1.4 0.1l1.3 0.2l1.4 0.1l1.4 0.2l1.4 0.1l1.4 0.2l1.3 0.1l1.4 0.2l1.4 0.1l1.4 0.2l1.4 0.1l1.3 0.2l1.4 0.2l1.4 0.1l1.4 0.2l1.4 0.1l1.3 0.2l1.4 0.1l1.4 0.2l1.4 0.1l1.4 0.2l1.3 0.1l1.4 0.2l1.4 0.1l1.4 0.2l1.4 0.1l1.3 0.2l1.4 0.2l1.4 0.1l1.4 0.2l1.4 0.1l1.3 0.2l1.4 0.1l1.4 0.2l1.4 0.1l1.4 0.1l1.3-2.3l1.4-2.6l1.4 1.3l1.4-0.8l1.4 3.8l1.3 5l1.4-1.8l1.4 1.7l1.4-5.6l1.4-0.4l1.3-0.6l1.4 0.4l1.4 1l1.4 1.8l1.4 0.7l1.3 2.3l1.4-3.3l1.4 2.2l1.4-0.2l1.4-2.3l1.3 4.2l1.4-3.5l1.4 6.5l1.4 1.7l1.4-4.6l1.3 5.1l1.4 0.5l1.4-6.2l1.4-8.9l1.4 3.5l1.3 4.4l1.4 3.8l1.4 4.1l1.4 6l1.4 6.5l1.3-5.9l1.4 2.8l1.4 2.3l1.4-1.8l1.4 2.3l1.3-0.2l1.4 0.6l1.4 0.7l1.4 0.7l1.4-3.8l1.3-5.1l1.4 2l1.4-1.3l1.4-2l1.4-4.4l1.3 3.7l1.4-2.4l1.4 1.2l1.4-4.2l1.4-0.5l1.3 2.5l1.4 0.7l1.4 4.9l1.4-1.8l1.4 6.7l1.3 0.9l1.4-0.9l1.4-3.2l1.4 1l1.4-1.2l1.3-4.4l1.4-4l1.4-0.7l1.4-9.7l1.4 8.2l1.3 3.1l1.4 7.5l1.4-1.3l1.4-4.3l1.4 6.1l1.3-2.3l1.4 0.1l1.4 1.8l1.4 5.5l1.4-4l1.3-6.2l1.4 1.1l1.4-3.8l1.4 2.8l1.4-4l1.3 2l1.4 0.6l1.4 0.8l1.4 0.7l1.4-1.6l1.3-1l1.4 1.1l1.4-1.4l1.4-4.3l1.4-0.4l1.3 2.4l1.4-2.7l1.4-3.4l1.4-0.1l1.4-4.5l1.3-3.3l1.4 2.1l1.4-0.3l1.4-4.5l1.4 3l1.3-1.2l1.4 4l1.4 3.7l1.4 2.5l1.4-5.6l1.3 4.5l1.4 0.4l1.4 2.5l1.4-1.3l1.4-1.3l1.3 1.5l1.4-3.4l1.4-2.6l1.4-2.3l1.4-0.8l1.3-5.8l1.4 6.2l1.4-8.3l1.4 4.4l1.4-1.5l1.3-3l1.4-4.1l1.4-1.5l1.4-1.5l1.4-0.6l1.3 5l1.4-1.2l1.4 6.4l1.4 2.9l1.4-2.3l1.3 4.2l1.4 3.7l1.4 2.7l1.4-2.6l1.4 4.1l1.3-5.9l1.4 4.7l1.4-0.4l1.4 1l1.4-5.5l1.3-0.7l1.4-3.8l1.4-3.3l1.4 1.8l1.4-6.9l1.3 0.1l1.4-8.1l1.4-1.7l1.4 5.3l1.4-4.6l1.3 3.4l1.4-0.6l1.4 4.5l1.4 2.2l1.4-3l1.3 3.5l1.4-1.9l1.4 3.9l1.4-0.7l1.4 1.1l1.3 6l1.4 2.8l1.4-3.2l1.4-3.2l1.4 4.6l1.3 1.6l1.4-3.5l1.4 1.7l1.4 2l1.4 0.3l1.3-1.8l1.4-0.8l1.4-5.4l1.4 3.9l1.4-5.2l1.3 2.8l1.4-0.1l1.4-0.9l1.4 3.4l1.4 2.8l1.3 5.9l1.4 1.4l1.4-5.5l1.4-4l1.4-2l1.3-2l1.4-3.7l1.4 2.8l1.4-3.1l1.4-0.6l1.3 4.7l1.4 4.5l1.4 0.5l1.4 4.9l1.4 2.3l1.3 2.6l1.4-2.4l1.4 1.7l1.4 4.2l1.4-2.3l1.3-3.5l1.4-0.3l1.4-4.7l1.4 4.8l1.4-5.9l1.3-0.2l1.4 5.9l1.4-2.2l1.4 0.6l1.4 2.2l1.3 0.8l1.4 5.4l1.4 1.1l1.4-4.8l1.4 4.3l1.3-0.4l1.4 3.7l1.4 1.4l1.4 2.9l1.4 6.5l1.3 1.5l1.4 1l1.4 3.3l1.4-4l1.4-1.5l1.3-0.4l1.4 0.9l1.4-3.5l1.4-0.2l1.4 1.2l1.3 0.2l1.4-1.3l1.4-2.3l1.4-1.6l1.4 0.7l1.3-1.3l1.4 2.6l1.4-8.7l1.4 2.6l1.4-3l1.3-1l1.4 0.4l1.4-2.6l1.4-3.4l1.4 6l1.3 1.3l1.4-2.6l1.4 5.7l1.4-1.3l1.4 1.4l1.3 2.5l1.4 1.2l1.4 2l1.4-0.2l1.4 3.3l1.3 0.1l1.4-0.9l1.4 3l1.4-3.1l1.4 4l1.3-1.7l1.4-0.3l1.4 2.7l1.4-0.4l1.4 0.9l1.3 1.1l1.4-1.6l1.4 2.8l1.4 1l1.4-4.8l1.3 1.1l1.4-5l1.4 6.4l1.4-3l1.4-0.2l1.3 0.3l1.4-0.2l1.4-1.4l1.4 0.8l1.4-2.8l1.3-4.3l1.4-2.3l1.4-3.2l1.4-0.6l1.4-3.7l1.3-3.7l1.4-4l1.4-6.8l1.4 1.1l1.4-3.2l1.3 3.9l1.4 1.4l1.4 3.1l1.4 4.4l1.4-0.7l1.3 3.9l1.4 0l1.4 4.4l1.4 1.2l1.4-0.4l1.3 3.7l1.4 2.4l1.4 0.7l1.4 7l1.4-1.1l1.3-8l1.4-4.4l1.4-0.4l1.4-2.9l1.4-3.1l1.3 3.9l1.4-2.6l1.4 7.3l1.4-8.8l1.4 0.8l1.3-5.5l1.4-2.6" fill="none" stroke="#DF8436" stroke-width="4.1" stroke-linejoin="round" stroke-linecap="round" />
<path d="M137.8 2151.9l1.4-0.5l1.3 2.4l1.4 0.8l1.4 0.3l1.4-3.1l1.4 4.7l1.3-1.9l1.4-2.7l1.4-0.8l1.4 3.7l1.4-0.3l1.3-5.4l1.4-2.7l1.4-3.1l1.4-5.6l1.4-2.4l1.3-3.1l1.4-1.6l1.4-1.3l1.4 6.5l1.4 7.5l1.3-0.6l1.4 2.4l1.4 0.3l1.4 2.7l1.4 1.1l1.3-3.2l1.4-0.6l1.4 1.3l1.4-1.6l1.4-3.5l1.3 8.1l1.4-3.1l1.4-2l1.4-0.1l1.4-2.5l1.3-1.3l1.4 1.9l1.4-4.7l1.4-2.8l1.4-0.5l1.3 1.3l1.4-3.9l1.4-0.7l1.4-0.5l1.4-0.4l1.3 0.5l1.4 0l1.4 0l1.4 0l1.4 0l1.3 0l1.4 0l1.4 0l1.4 0l1.4 0l1.3 0l1.4 0l1.4 0l1.4 0l1.4 0l1.3 0l1.4 0l1.4 0l1.4 0l1.4 0l1.3 0l1.4 0l1.4 0l1.4 0l1.4 1l1.3 1.1l1.4 3.3l1.4-0.8l1.4 2l1.4-6.9l1.3-2.2l1.4-8.6l1.4 4.6l1.4-0.8l1.4 2.1l1.3 2.6l1.4-0.7l1.4-4.2l1.4 1.1l1.4-1.9l1.3-0.7l1.4 4.1l1.4 0.1l1.4 0.5l1.4 2.9l1.3-1.3l1.4 0.6l1.4-3.5l1.4 2.4l1.4-1.7l1.3 0.5l1.4-2.4l1.4 0l1.4-4.7l1.4-3l1.3-6.5l1.4-2.5l1.4-2l1.4-5.8l1.4-2.4l1.3 6.4l1.4-3.5l1.4-0.6l1.4 4.8l1.4-1.1l1.3-2.2l1.4 4.2l1.4 3.5l1.4-4.8l1.4 3.5l1.3 2.7l1.4 4.2l1.4-2.2l1.4 0.7l1.4 1.2l1.3 1.3l1.4 8.2l1.4 4.9l1.4 2.2l1.4 4.9l1.3 1.9l1.4 2.8l1.4 4l1.4-3.7l1.4 1.1l1.3 0.9l1.4-3.2l1.4-3.1l1.4-3.4l1.4-0.4l1.3-2.4l1.4-3.9l1.4 6.7l1.4-3.1l1.4 2.2l1.3 2.8l1.4 4.2l1.4 3.4l1.4 1.7l1.4-1.1l1.3 0.8l1.4-1.7l1.4-1.1l1.4 2.5l1.4-1.3l1.3-1.1l1.4 3.1l1.4-2.3l1.4 3.5l1.4 1.5l1.3 2.3l1.4-0.7l1.4 5.2l1.4 0.6l1.4 3l1.3 2.8l1.4-1.1l1.4 2.9l1.4 0.2l1.4-1.4l1.3-3.6l1.4 4.5l1.4 0.7l1.4 1.2l1.4-4.6l1.3 5.6l1.4-2.9l1.4-7l1.4-2.4l1.4-8l1.3-5.8l1.4 1.3l1.4 1.1l1.4-0.5l1.4 5.7l1.3-1.1l1.4 7.1l1.4-2.9l1.4 4.1l1.4 1.1l1.3-1.4l1.4 2.4l1.4 1.5l1.4 0.9l1.4-0.1l1.3 0l1.4-0.5l1.4-1.7l1.4-0.9l1.4 0.3l1.3 0.3l1.4 0.3l1.4 0.2l1.4 0.3l1.4 0.3l1.3 0.3l1.4 0.2l1.4 0.3l1.4 0.3l1.4 0.3l1.3 0.2l1.4 0.3l1.4 0.3l1.4 0.3l1.4 0.2l1.3 0.3l1.4 0.3l1.4 0.3l1.4 0.2l1.4 0.3l1.3 0.3l1.4 0.3l1.4 0.2l1.4 0.3l1.4 0.3l1.3 0.3l1.4 0.7l1.4 1l1.4 2l1.4 0.7l1.3 3.6l1.4-1.5l1.4-4.5l1.4-0.2l1.4 2.4l1.3-2.1l1.4 3.7l1.4-2.6l1.4-6.7l1.4-5.9l1.3-2.1l1.4 8.7l1.4 0.6l1.4 1.2l1.4 0.5l1.3-3.3l1.4 1.5l1.4-3.3l1.4-1.3l1.4 1.5l1.3 3.4l1.4-1.4l1.4 1.2l1.4 0.5l1.4 0.1l1.3 0.1l1.4 0.2l1.4 0.1l1.4 0.1l1.4 0.2l1.3 0.1l1.4 0.1l1.4 0.2l1.4 0.1l1.4 0.1l1.3 0.2l1.4 0.1l1.4 0.1l1.4 0.2l1.4 0.1l1.3 0.1l1.4 0.2l1.4 0.1l1.4 0.1l1.4 0.2l1.3 0.1l1.4 0.1l1.4 0.2l1.4 0.1l1.4 0.1l1.3 0.2l1.4 0.1l1.4 0.1l1.4 0.2l1.4 0.1l1.3 0.1l1.4 0.2l1.4 0.1l1.4 0.1l1.4 0l1.3-7.9l1.4-1.8l1.4-0.1l1.4 3.9l1.4 0.1l1.3-2.2l1.4-1.9l1.4 2.1l1.4-3l1.4-3l1.3 6.8l1.4-4.2l1.4-1.1l1.4 0.5l1.4-2.3l1.3-0.4l1.4 0.4l1.4 3.8l1.4-1.9l1.4-2.9l1.3 1.4l1.4 3.7l1.4-1l1.4 5.5l1.4 4.1l1.3-0.7l1.4 1.4l1.4-2.5l1.4-7.8l1.4 4.1l1.3 2.2l1.4 0.4l1.4 0.7l1.4 5.8l1.4 1.6l1.3-2.3l1.4-1.2l1.4-1.3l1.4 0.7l1.4-2.1l1.3-1.3l1.4-2.3l1.4-0.3l1.4 0.7l1.4-6.2l1.3 5.8l1.4-6.2l1.4-1.4l1.4-4.8l1.4 0.3l1.3-4.9l1.4 0.9l1.4-4.1l1.4 0.1l1.4-8.6l1.3 0.2l1.4 6.2l1.4 5l1.4-0.6l1.4 3.4l1.3 3l1.4 5.8l1.4-1.7l1.4-1.3l1.4 2.8l1.3 1.4l1.4 0l1.4 0.9l1.4-2.8l1.4 5.3l1.3 2.2l1.4 3.1l1.4 0.6l1.4 2.8l1.4 0.2l1.3 2.8l1.4 2.5l1.4-2.9l1.4 1.6l1.4-4.5l1.3 0.2l1.4 0.9l1.4-2.3l1.4-0.6l1.4 1.6l1.3-3.3l1.4 0.6l1.4-3.3l1.4-2.5l1.4 2.3l1.3-0.8l1.4 1.8l1.4-3.7l1.4-0.9l1.4 0l1.3 1.5l1.4 0l1.4 0.1l1.4-3l1.4-1.9l1.3 4.2l1.4-1.5l1.4-0.7l1.4 0.3l1.4-5.4l1.3 0.6l1.4 4.6l1.4-1.5l1.4 3.7l1.4-2.2l1.3 1.8l1.4-2.3l1.4 3.8l1.4 0.6l1.4-9.2l1.3 2.8l1.4-5.3l1.4 3.2l1.4-8.6l1.4-0.9l1.3-0.1l1.4-4l1.4-1.4l1.4-1l1.4-0.4l1.3-2.3l1.4 1.1l1.4-4.5l1.4-2l1.4 2.8l1.3 1l1.4 11.2l1.4-0.7l1.4 5.6l1.4 2.4l1.3 5.4l1.4 0.6l1.4-2l1.4 1.9l1.4 0.2l1.3 1.8l1.4-0.8l1.4 0.9l1.4 0l1.4-2.6l1.3-0.6l1.4-2.9l1.4 3.1l1.4-3.9l1.4-0.8l1.3-0.8l1.4 0.7l1.4-2l1.4 0.5l1.4 0.9l1.3-1.3l1.4 1.3l1.4 0.6l1.4-1.8l1.4 1.8l1.3-2.1l1.4 3.5l1.4 3.2l1.4-2.7l1.4 7.2l1.3 0.7l1.4 0.2l1.4-3.8l1.4 0.4l1.4-1.4l1.3 5.7l1.4 0.4l1.4 0.2l1.4 0.4l1.4-4.1l1.3-5.2l1.4-3.3l1.4-0.2l1.4-4.5l1.4-2.2l1.3 0.8l1.4 3.7l1.4 3.2l1.4 0.7l1.4 0.9l1.3-1l1.4-2.4l1.4-1.3l1.4 5l1.4-2.9l1.3-3.8l1.4-1.3l1.4 4.2l1.4 0.6l1.4 2.2l1.3-3.2l1.4-0.1l1.4 5.4l1.4 3.1l1.4-0.5l1.3 0.2l1.4-1.2l1.4-2l1.4 3.1l1.4 0.8l1.3 1.2l1.4-1.2l1.4-0.5l1.4 2.2l1.4-0.2l1.3 3.7l1.4-4l1.4 2.7l1.4-0.4l1.4 2.8l1.3 0.2l1.4-5.1l1.4 3.2l1.4 3.9l1.4-2.5l1.3 1.7l1.4-4l1.4 5.4l1.4 2.3l1.4-3.7l1.3 1.2l1.4 1.4l1.4-0.3l1.4 3.5l1.4-5.5l1.3 1l1.4 1.7l1.4-2.4l1.4 1.2l1.4-4l1.3 4.5l1.4-1.3l1.4-3.1l1.4 3.3l1.4-2.9l1.3 2.7l1.4 0l1.4-0.8l1.4-2.2l1.4 2l1.3-2.1l1.4-1.7l1.4-4l1.4 2.6l1.4-3l1.3 6.8l1.4-5.5l1.4-0.8l1.4 3.9l1.4 0.8l1.3-0.8l1.4-1.4l1.4-3.5l1.4 4.3l1.4-4.1l1.3 1.7l1.4 1.1l1.4 1.9l1.4-1.5l1.4-2.1l1.3-0.5l1.4 1.2l1.4 4.1l1.4 2l1.4-2.8l1.3 0.5l1.4 2.4l1.4-0.8l1.4 1.8l1.4 3.7l1.3-3.9l1.4 3.8l1.4-2.7l1.4 3.3l1.4 1.6l1.3-0.4l1.4-0.6l1.4 0.9l1.4 0.7l1.4-1.3l1.3-0.5l1.4-6.2l1.4 0.7l1.4 1.3l1.4-5.3l1.3-4.2l1.4-0.1l1.4-3.8l1.4 1.7l1.4 1.1l1.3 0.1l1.4-0.8l1.4 3.1l1.4 3.2l1.4-0.6l1.3-1.8l1.4 0.5l1.4-4l1.4 8.4l1.4 3l1.3-1.4l1.4 2.4l1.4 1.6l1.4 2.4l1.4 0l1.3-3.4l1.4 0.8l1.4-1.4l1.4-2.3l1.4 4l1.3-6.4l1.4-1.6l1.4-2.3l1.4-1.6l1.4-5.9l1.3 0.3l1.4-1.3" fill="none" stroke="#8EA7D1" stroke-width="4.1" stroke-linejoin="round" stroke-linecap="round" />
<line x1="134.2" y1="1998" x2="134.2" y2="2186.8" stroke="#868686" stroke-width="1.5"/>
<line x1="133.5" y1="2186.1" x2="1103.5" y2="2186.1" stroke="#868686" stroke-width="1.6"/>
<text x="112.5" y="2192.8" font-size="16.6" font-family='"DejaVu Sans", "Liberation Sans", sans-serif' text-anchor="end" font-weight="normal" letter-spacing="0.8" stroke="#0a0a0a" stroke-width="0.5">0</text>
<text x="112.5" y="2146.1" font-size="16.6" font-family='"DejaVu Sans", "Liberation Sans", sans-serif' text-anchor="end" font-weight="normal" letter-spacing="0.8" stroke="#0a0a0a" stroke-width="0.5">0.5</text>
<text x="112.5" y="2099.4" font-size="16.6" font-family='"DejaVu Sans", "Liberation Sans", sans-serif' text-anchor="end" font-weight="normal" letter-spacing="0.8" stroke="#0a0a0a" stroke-width="0.5">1</text>
<text x="112.5" y="2052.7" font-size="16.6" font-family='"DejaVu Sans", "Liberation Sans", sans-serif' text-anchor="end" font-weight="normal" letter-spacing="0.8" stroke="#0a0a0a" stroke-width="0.5">1.5</text>
<text x="112.5" y="2006" font-size="16.6" font-family='"DejaVu Sans", "Liberation Sans", sans-serif' text-anchor="end" font-weight="normal" letter-spacing="0.8" stroke="#0a0a0a" stroke-width="0.5">2</text>
<text x="132.9" y="2221.5" font-size="16.6" font-family='"DejaVu Sans", "Liberation Sans", sans-serif' text-anchor="middle" font-weight="normal" letter-spacing="0.8" stroke="#0a0a0a" stroke-width="0.5">0</text>
<text x="270.8" y="2221.5" font-size="16.6" font-family='"DejaVu Sans", "Liberation Sans", sans-serif' text-anchor="middle" font-weight="normal" letter-spacing="0.8" stroke="#0a0a0a" stroke-width="0.5">100</text>
<text x="408.6" y="2221.5" font-size="16.6" font-family='"DejaVu Sans", "Liberation Sans", sans-serif' text-anchor="middle" font-weight="normal" letter-spacing="0.8" stroke="#0a0a0a" stroke-width="0.5">200</text>
<text x="546.4" y="2221.5" font-size="16.6" font-family='"DejaVu Sans", "Liberation Sans", sans-serif' text-anchor="middle" font-weight="normal" letter-spacing="0.8" stroke="#0a0a0a" stroke-width="0.5">300</text>
<text x="684.3" y="2221.5" font-size="16.6" font-family='"DejaVu Sans", "Liberation Sans", sans-serif' text-anchor="middle" font-weight="normal" letter-spacing="0.8" stroke="#0a0a0a" stroke-width="0.5">400</text>
<text x="822.1" y="2221.5" font-size="16.6" font-family='"DejaVu Sans", "Liberation Sans", sans-serif' text-anchor="middle" font-weight="normal" letter-spacing="0.8" stroke="#0a0a0a" stroke-width="0.5">500</text>
<text x="960" y="2221.5" font-size="16.6" font-family='"DejaVu Sans", "Liberation Sans", sans-serif' text-anchor="middle" font-weight="normal" letter-spacing="0.8" stroke="#0a0a0a" stroke-width="0.5">600</text>
<text x="1097.8" y="2221.5" font-size="16.6" font-family='"DejaVu Sans", "Liberation Sans", sans-serif' text-anchor="middle" font-weight="normal" letter-spacing="0.8" stroke="#0a0a0a" stroke-width="0.5">700</text>
<text x="1111.9" y="2027.1" font-size="54" font-family='"Liberation Serif", serif' text-anchor="middle" font-weight="bold" >E</text>
<text x="528.2" y="2203.8" font-size="29.9" font-family='"Liberation Serif", serif' text-anchor="middle" font-weight="bold" >Residue</text>
</g>
<g id="legend" font-family='"Liberation Serif", serif' font-weight="bold" font-size="21.6">
<line x1="262.5" y1="2264.5" x2="304" y2="2264.5" stroke="#406FA9" stroke-width="4.2" stroke-linecap="round"/>
<text x="319.5" y="2257" textLength="63" lengthAdjust="spacingAndGlyphs">DHFR-</text>
<text x="319.5" y="2281.6" textLength="97.4" lengthAdjust="spacingAndGlyphs">TRC-2533</text>
<line x1="469" y1="2264.5" x2="512.5" y2="2264.5" stroke="#B23E39" stroke-width="4.2" stroke-linecap="round"/>
<text x="536.2" y="2258.6">DHFR-</text>
<text x="536.2" y="2282.8" textLength="92.6" lengthAdjust="spacingAndGlyphs">Ezetimibe</text>
<line x1="676.5" y1="2264.2" x2="719.5" y2="2264.2" stroke="#88A74B" stroke-width="4.2" stroke-linecap="round"/>
<text x="735" y="2260.9">DHFR-</text>
<text x="735" y="2284.6" textLength="154.3" lengthAdjust="spacingAndGlyphs">Phenazopyridine</text>
<line x1="885" y1="2264.2" x2="925" y2="2264.2" stroke="#6E509A" stroke-width="4.2" stroke-linecap="round"/>
<text x="937.3" y="2265" textLength="169.7" lengthAdjust="spacingAndGlyphs">DHFR-Raloxifene</text>
<line x1="262.5" y1="2327.3" x2="304" y2="2327.3" stroke="#3B99B6" stroke-width="4.2" stroke-linecap="round"/>
<text x="313.5" y="2330.5">DHFR-</text>
<text x="313.5" y="2354.4" textLength="116.5" lengthAdjust="spacingAndGlyphs">Sulfasalazine</text>
<line x1="469" y1="2326.5" x2="512.5" y2="2326.5" stroke="#DF8436" stroke-width="4.2" stroke-linecap="round"/>
<text x="523" y="2326.5">DHFR-</text>
<text x="523" y="2350.4" textLength="117.7" lengthAdjust="spacingAndGlyphs">Triamterene</text>
<line x1="676.5" y1="2327.2" x2="719.5" y2="2327.2" stroke="#8EA7D1" stroke-width="4.2" stroke-linecap="round"/>
<text x="731.7" y="2332.6" textLength="173.5" lengthAdjust="spacingAndGlyphs">DHFR-Zafirlukast</text>
</g>
</svg></body></html>
